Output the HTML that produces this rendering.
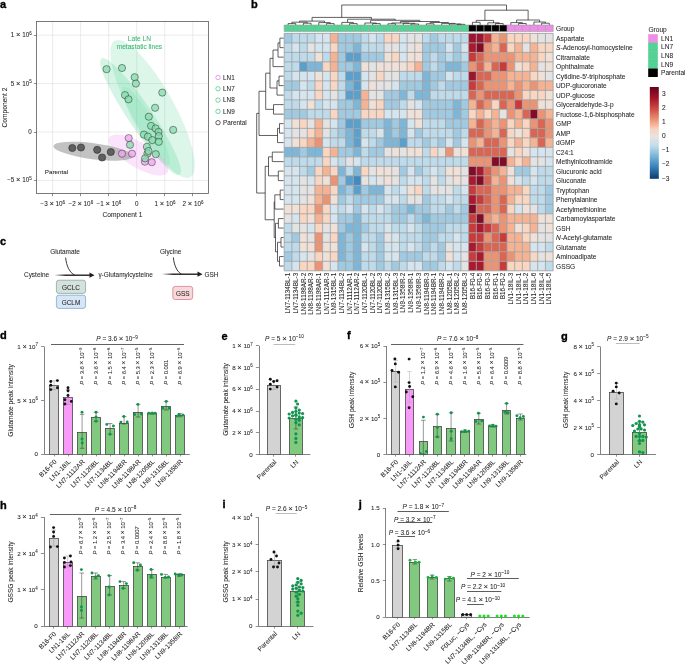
<!DOCTYPE html><html><head><meta charset="utf-8"><title>Figure</title>
<style>html,body{margin:0;padding:0;background:#fff;}svg{display:block;will-change:transform;}text{font-family:"Liberation Sans", sans-serif;}</style></head><body>
<svg width="685" height="664" viewBox="0 0 685 664" font-family='"Liberation Sans", sans-serif' fill="#231f20">
<rect x="0" y="0" width="685" height="664" fill="#fff"/>
<text x="0.00" y="8.00" font-size="11" font-weight="bold" fill="#000" stroke="#000" stroke-width="0.35">a</text>
<line x1="52.60" y1="21.00" x2="52.60" y2="193.60" stroke="#e3e3e3" stroke-width="0.7"/>
<line x1="80.64" y1="21.00" x2="80.64" y2="193.60" stroke="#e3e3e3" stroke-width="0.7"/>
<line x1="108.68" y1="21.00" x2="108.68" y2="193.60" stroke="#e3e3e3" stroke-width="0.7"/>
<line x1="136.72" y1="21.00" x2="136.72" y2="193.60" stroke="#e3e3e3" stroke-width="0.7"/>
<line x1="164.76" y1="21.00" x2="164.76" y2="193.60" stroke="#e3e3e3" stroke-width="0.7"/>
<line x1="192.80" y1="21.00" x2="192.80" y2="193.60" stroke="#e3e3e3" stroke-width="0.7"/>
<line x1="36.50" y1="35.20" x2="208.60" y2="35.20" stroke="#e3e3e3" stroke-width="0.7"/>
<line x1="36.50" y1="83.60" x2="208.60" y2="83.60" stroke="#e3e3e3" stroke-width="0.7"/>
<line x1="36.50" y1="132.00" x2="208.60" y2="132.00" stroke="#e3e3e3" stroke-width="0.7"/>
<line x1="36.50" y1="180.40" x2="208.60" y2="180.40" stroke="#e3e3e3" stroke-width="0.7"/>
<ellipse cx="152.60" cy="109.00" rx="78.00" ry="21.50" transform="rotate(61 152.60 109.00)" fill="#3fcf8a" fill-opacity="0.18"/>
<ellipse cx="140.50" cy="116.50" rx="70.00" ry="12.00" transform="rotate(56 140.50 116.50)" fill="#3fcf8a" fill-opacity="0.22"/>
<ellipse cx="146.00" cy="126.00" rx="45.00" ry="9.00" transform="rotate(60 146.00 126.00)" fill="#3fcf8a" fill-opacity="0.12"/>
<ellipse cx="138.50" cy="155.00" rx="34.00" ry="12.50" transform="rotate(31 138.50 155.00)" fill="#f09cf0" fill-opacity="0.28"/>
<ellipse cx="93.00" cy="151.20" rx="40.00" ry="8.00" transform="rotate(7.5 93.00 151.20)" fill="#8a8a8a" fill-opacity="0.52"/>
<circle cx="72.30" cy="148.00" r="3.60" fill="#5f5f5f" stroke="#222" stroke-width="0.55"/>
<circle cx="81.00" cy="147.50" r="3.60" fill="#5f5f5f" stroke="#222" stroke-width="0.55"/>
<circle cx="97.20" cy="149.80" r="3.60" fill="#5f5f5f" stroke="#222" stroke-width="0.55"/>
<circle cx="102.10" cy="157.50" r="3.60" fill="#5f5f5f" stroke="#222" stroke-width="0.55"/>
<circle cx="110.80" cy="152.00" r="3.60" fill="#5f5f5f" stroke="#222" stroke-width="0.55"/>
<circle cx="128.70" cy="138.10" r="3.60" fill="#eea6ee" stroke="#333" stroke-width="0.5" fill-opacity="0.75"/>
<circle cx="122.00" cy="153.70" r="3.60" fill="#eea6ee" stroke="#333" stroke-width="0.5" fill-opacity="0.75"/>
<circle cx="132.00" cy="153.70" r="3.60" fill="#eea6ee" stroke="#333" stroke-width="0.5" fill-opacity="0.75"/>
<circle cx="144.90" cy="161.70" r="3.60" fill="#eea6ee" stroke="#333" stroke-width="0.5" fill-opacity="0.75"/>
<circle cx="151.80" cy="162.20" r="3.60" fill="#eea6ee" stroke="#333" stroke-width="0.5" fill-opacity="0.75"/>
<circle cx="106.60" cy="69.20" r="3.60" fill="#86dcac" stroke="#2a2a2a" stroke-width="0.5" fill-opacity="0.75"/>
<circle cx="122.00" cy="68.00" r="3.60" fill="#86dcac" stroke="#2a2a2a" stroke-width="0.5" fill-opacity="0.75"/>
<circle cx="134.70" cy="77.20" r="3.60" fill="#86dcac" stroke="#2a2a2a" stroke-width="0.5" fill-opacity="0.75"/>
<circle cx="135.90" cy="83.60" r="3.60" fill="#86dcac" stroke="#2a2a2a" stroke-width="0.5" fill-opacity="0.75"/>
<circle cx="162.30" cy="92.60" r="3.60" fill="#86dcac" stroke="#2a2a2a" stroke-width="0.5" fill-opacity="0.75"/>
<circle cx="125.00" cy="95.10" r="3.60" fill="#86dcac" stroke="#2a2a2a" stroke-width="0.5" fill-opacity="0.75"/>
<circle cx="128.50" cy="99.30" r="3.60" fill="#86dcac" stroke="#2a2a2a" stroke-width="0.5" fill-opacity="0.75"/>
<circle cx="155.10" cy="107.80" r="3.60" fill="#86dcac" stroke="#2a2a2a" stroke-width="0.5" fill-opacity="0.75"/>
<circle cx="148.80" cy="116.70" r="3.60" fill="#86dcac" stroke="#2a2a2a" stroke-width="0.5" fill-opacity="0.75"/>
<circle cx="151.10" cy="125.90" r="3.60" fill="#86dcac" stroke="#2a2a2a" stroke-width="0.5" fill-opacity="0.75"/>
<circle cx="155.60" cy="128.40" r="3.60" fill="#86dcac" stroke="#2a2a2a" stroke-width="0.5" fill-opacity="0.75"/>
<circle cx="158.50" cy="131.90" r="3.60" fill="#86dcac" stroke="#2a2a2a" stroke-width="0.5" fill-opacity="0.75"/>
<circle cx="173.20" cy="129.90" r="3.60" fill="#86dcac" stroke="#2a2a2a" stroke-width="0.5" fill-opacity="0.75"/>
<circle cx="143.90" cy="134.60" r="3.60" fill="#86dcac" stroke="#2a2a2a" stroke-width="0.5" fill-opacity="0.75"/>
<circle cx="147.90" cy="136.60" r="3.60" fill="#86dcac" stroke="#2a2a2a" stroke-width="0.5" fill-opacity="0.75"/>
<circle cx="152.30" cy="140.10" r="3.60" fill="#86dcac" stroke="#2a2a2a" stroke-width="0.5" fill-opacity="0.75"/>
<circle cx="158.80" cy="136.10" r="3.60" fill="#86dcac" stroke="#2a2a2a" stroke-width="0.5" fill-opacity="0.75"/>
<circle cx="158.80" cy="141.80" r="3.60" fill="#86dcac" stroke="#2a2a2a" stroke-width="0.5" fill-opacity="0.75"/>
<circle cx="130.00" cy="144.80" r="3.60" fill="#86dcac" stroke="#2a2a2a" stroke-width="0.5" fill-opacity="0.75"/>
<circle cx="146.90" cy="146.80" r="3.60" fill="#86dcac" stroke="#2a2a2a" stroke-width="0.5" fill-opacity="0.75"/>
<circle cx="147.40" cy="153.70" r="3.60" fill="#86dcac" stroke="#2a2a2a" stroke-width="0.5" fill-opacity="0.75"/>
<circle cx="155.80" cy="154.20" r="3.60" fill="#86dcac" stroke="#2a2a2a" stroke-width="0.5" fill-opacity="0.75"/>
<circle cx="145.10" cy="158.40" r="3.60" fill="#86dcac" stroke="#2a2a2a" stroke-width="0.5" fill-opacity="0.75"/>
<circle cx="148.50" cy="151.00" r="3.60" fill="#86dcac" stroke="#2a2a2a" stroke-width="0.5" fill-opacity="0.75"/>
<rect x="36.5" y="21.5" width="172.00" height="172.00" fill="none" stroke="#5a5a5a" stroke-width="0.8"/>
<line x1="52.50" y1="193.50" x2="52.50" y2="196.20" stroke="#5a5a5a" stroke-width="0.7"/>
<line x1="80.50" y1="193.50" x2="80.50" y2="196.20" stroke="#5a5a5a" stroke-width="0.7"/>
<line x1="108.50" y1="193.50" x2="108.50" y2="196.20" stroke="#5a5a5a" stroke-width="0.7"/>
<line x1="136.50" y1="193.50" x2="136.50" y2="196.20" stroke="#5a5a5a" stroke-width="0.7"/>
<line x1="164.50" y1="193.50" x2="164.50" y2="196.20" stroke="#5a5a5a" stroke-width="0.7"/>
<line x1="192.50" y1="193.50" x2="192.50" y2="196.20" stroke="#5a5a5a" stroke-width="0.7"/>
<line x1="33.90" y1="35.50" x2="36.50" y2="35.50" stroke="#5a5a5a" stroke-width="0.7"/>
<line x1="33.90" y1="83.50" x2="36.50" y2="83.50" stroke="#5a5a5a" stroke-width="0.7"/>
<line x1="33.90" y1="132.50" x2="36.50" y2="132.50" stroke="#5a5a5a" stroke-width="0.7"/>
<line x1="33.90" y1="180.50" x2="36.50" y2="180.50" stroke="#5a5a5a" stroke-width="0.7"/>
<text x="31.80" y="37.20" font-size="6.3" stroke="#231f20" stroke-width="0.06" text-anchor="end">1 <tspan font-size="1.2em">×</tspan> 10<tspan font-size="4.54" dy="-2.27">6</tspan></text>
<text x="31.80" y="85.60" font-size="6.3" stroke="#231f20" stroke-width="0.06" text-anchor="end">5 <tspan font-size="1.2em">×</tspan> 10<tspan font-size="4.54" dy="-2.27">5</tspan></text>
<text x="31.80" y="134.00" font-size="6.3" stroke="#231f20" stroke-width="0.06" text-anchor="end">0</text>
<text x="31.80" y="182.40" font-size="6.3" stroke="#231f20" stroke-width="0.06" text-anchor="end">−5 <tspan font-size="1.2em">×</tspan> 10<tspan font-size="4.54" dy="-2.27">5</tspan></text>
<text x="52.80" y="206.00" font-size="6.3" stroke="#231f20" stroke-width="0.06" text-anchor="middle">−3 <tspan font-size="1.2em">×</tspan> 10<tspan font-size="4.54" dy="-2.27">6</tspan></text>
<text x="80.84" y="206.00" font-size="6.3" stroke="#231f20" stroke-width="0.06" text-anchor="middle">−2 <tspan font-size="1.2em">×</tspan> 10<tspan font-size="4.54" dy="-2.27">6</tspan></text>
<text x="108.88" y="206.00" font-size="6.3" stroke="#231f20" stroke-width="0.06" text-anchor="middle">−1 <tspan font-size="1.2em">×</tspan> 10<tspan font-size="4.54" dy="-2.27">6</tspan></text>
<text x="136.72" y="206.00" font-size="6.3" stroke="#231f20" stroke-width="0.06" text-anchor="middle">0</text>
<text x="164.96" y="206.00" font-size="6.3" stroke="#231f20" stroke-width="0.06" text-anchor="middle">1 <tspan font-size="1.2em">×</tspan> 10<tspan font-size="4.54" dy="-2.27">6</tspan></text>
<text x="193.00" y="206.00" font-size="6.3" stroke="#231f20" stroke-width="0.06" text-anchor="middle">2 <tspan font-size="1.2em">×</tspan> 10<tspan font-size="4.54" dy="-2.27">6</tspan></text>
<text x="122.40" y="217.00" font-size="6.65" stroke="#231f20" stroke-width="0.06" text-anchor="middle">Component 1</text>
<text x="6.60" y="107.50" font-size="6.65" stroke="#231f20" stroke-width="0.06" text-anchor="middle" transform="rotate(-90 6.60 107.50)">Component 2</text>
<text x="139.40" y="41.20" font-size="6.6" stroke="#34b66f" stroke-width="0.06" text-anchor="middle" fill="#34b66f">Late LN</text>
<text x="139.40" y="48.90" font-size="6.6" stroke="#34b66f" stroke-width="0.06" text-anchor="middle" fill="#34b66f">metastatic lines</text>
<text x="44.80" y="174.10" font-size="6.25" stroke="#231f20" stroke-width="0.06">Parental</text>
<circle cx="218.00" cy="77.50" r="2.20" fill="none" stroke="#e07ae0" stroke-width="0.7"/>
<text x="223.10" y="79.80" font-size="6.3" stroke="#231f20" stroke-width="0.06">LN1</text>
<circle cx="218.00" cy="88.80" r="2.20" fill="none" stroke="#3cc47c" stroke-width="0.7"/>
<text x="223.10" y="91.10" font-size="6.3" stroke="#231f20" stroke-width="0.06">LN7</text>
<circle cx="218.00" cy="100.10" r="2.20" fill="none" stroke="#3cc47c" stroke-width="0.7"/>
<text x="223.10" y="102.40" font-size="6.3" stroke="#231f20" stroke-width="0.06">LN8</text>
<circle cx="218.00" cy="111.40" r="2.20" fill="none" stroke="#3cc47c" stroke-width="0.7"/>
<text x="223.10" y="113.70" font-size="6.3" stroke="#231f20" stroke-width="0.06">LN9</text>
<circle cx="218.00" cy="122.70" r="2.20" fill="none" stroke="#222" stroke-width="0.7"/>
<text x="223.10" y="125.00" font-size="6.3" stroke="#231f20" stroke-width="0.06">Parental</text>
<text x="251.00" y="8.00" font-size="11" font-weight="bold" fill="#000" stroke="#000" stroke-width="0.35">b</text>
<rect x="284.20" y="33.40" width="7.68" height="9.50" fill="#9fcae2"/>
<rect x="291.88" y="33.40" width="7.68" height="9.50" fill="#bddbeb"/>
<rect x="299.57" y="33.40" width="7.68" height="9.50" fill="#bddbeb"/>
<rect x="307.25" y="33.40" width="7.68" height="9.50" fill="#bddbeb"/>
<rect x="314.93" y="33.40" width="7.68" height="9.50" fill="#d5e5ef"/>
<rect x="322.62" y="33.40" width="7.68" height="9.50" fill="#d5e5ef"/>
<rect x="330.30" y="33.40" width="7.68" height="9.50" fill="#f5b394"/>
<rect x="337.98" y="33.40" width="7.68" height="9.50" fill="#9fcae2"/>
<rect x="345.66" y="33.40" width="7.68" height="9.50" fill="#9fcae2"/>
<rect x="353.35" y="33.40" width="7.68" height="9.50" fill="#9fcae2"/>
<rect x="361.03" y="33.40" width="7.68" height="9.50" fill="#bddbeb"/>
<rect x="368.71" y="33.40" width="7.68" height="9.50" fill="#d5e5ef"/>
<rect x="376.40" y="33.40" width="7.68" height="9.50" fill="#bddbeb"/>
<rect x="384.08" y="33.40" width="7.68" height="9.50" fill="#f9d6c2"/>
<rect x="391.76" y="33.40" width="7.68" height="9.50" fill="#f9d6c2"/>
<rect x="399.44" y="33.40" width="7.68" height="9.50" fill="#d5e5ef"/>
<rect x="407.13" y="33.40" width="7.68" height="9.50" fill="#e3e3e3"/>
<rect x="414.81" y="33.40" width="7.68" height="9.50" fill="#e3e3e3"/>
<rect x="422.49" y="33.40" width="7.68" height="9.50" fill="#bddbeb"/>
<rect x="430.18" y="33.40" width="7.68" height="9.50" fill="#9fcae2"/>
<rect x="437.86" y="33.40" width="7.68" height="9.50" fill="#bddbeb"/>
<rect x="445.54" y="33.40" width="7.68" height="9.50" fill="#bddbeb"/>
<rect x="453.23" y="33.40" width="7.68" height="9.50" fill="#bddbeb"/>
<rect x="460.91" y="33.40" width="7.68" height="9.50" fill="#bddbeb"/>
<rect x="468.59" y="33.40" width="7.68" height="9.50" fill="#9b1430"/>
<rect x="476.27" y="33.40" width="7.68" height="9.50" fill="#9b1430"/>
<rect x="483.96" y="33.40" width="7.68" height="9.50" fill="#c83b3d"/>
<rect x="491.64" y="33.40" width="7.68" height="9.50" fill="#f5b394"/>
<rect x="499.32" y="33.40" width="7.68" height="9.50" fill="#ec9374"/>
<rect x="507.01" y="33.40" width="7.68" height="9.50" fill="#f9d6c2"/>
<rect x="514.69" y="33.40" width="7.68" height="9.50" fill="#f9d6c2"/>
<rect x="522.37" y="33.40" width="7.68" height="9.50" fill="#f9d6c2"/>
<rect x="530.06" y="33.40" width="7.68" height="9.50" fill="#efe0d8"/>
<rect x="537.74" y="33.40" width="7.68" height="9.50" fill="#e3e3e3"/>
<rect x="545.42" y="33.40" width="7.68" height="9.50" fill="#e3e3e3"/>
<rect x="284.20" y="42.90" width="7.68" height="9.50" fill="#bddbeb"/>
<rect x="291.88" y="42.90" width="7.68" height="9.50" fill="#d5e5ef"/>
<rect x="299.57" y="42.90" width="7.68" height="9.50" fill="#bddbeb"/>
<rect x="307.25" y="42.90" width="7.68" height="9.50" fill="#e3e3e3"/>
<rect x="314.93" y="42.90" width="7.68" height="9.50" fill="#d5e5ef"/>
<rect x="322.62" y="42.90" width="7.68" height="9.50" fill="#d5e5ef"/>
<rect x="330.30" y="42.90" width="7.68" height="9.50" fill="#f9d6c2"/>
<rect x="337.98" y="42.90" width="7.68" height="9.50" fill="#9fcae2"/>
<rect x="345.66" y="42.90" width="7.68" height="9.50" fill="#9fcae2"/>
<rect x="353.35" y="42.90" width="7.68" height="9.50" fill="#7cb6d9"/>
<rect x="361.03" y="42.90" width="7.68" height="9.50" fill="#bddbeb"/>
<rect x="368.71" y="42.90" width="7.68" height="9.50" fill="#bddbeb"/>
<rect x="376.40" y="42.90" width="7.68" height="9.50" fill="#bddbeb"/>
<rect x="384.08" y="42.90" width="7.68" height="9.50" fill="#e3e3e3"/>
<rect x="391.76" y="42.90" width="7.68" height="9.50" fill="#e3e3e3"/>
<rect x="399.44" y="42.90" width="7.68" height="9.50" fill="#d5e5ef"/>
<rect x="407.13" y="42.90" width="7.68" height="9.50" fill="#e3e3e3"/>
<rect x="414.81" y="42.90" width="7.68" height="9.50" fill="#efe0d8"/>
<rect x="422.49" y="42.90" width="7.68" height="9.50" fill="#9fcae2"/>
<rect x="430.18" y="42.90" width="7.68" height="9.50" fill="#9fcae2"/>
<rect x="437.86" y="42.90" width="7.68" height="9.50" fill="#9fcae2"/>
<rect x="445.54" y="42.90" width="7.68" height="9.50" fill="#d5e5ef"/>
<rect x="453.23" y="42.90" width="7.68" height="9.50" fill="#9fcae2"/>
<rect x="460.91" y="42.90" width="7.68" height="9.50" fill="#d5e5ef"/>
<rect x="468.59" y="42.90" width="7.68" height="9.50" fill="#ab192f"/>
<rect x="476.27" y="42.90" width="7.68" height="9.50" fill="#840b25"/>
<rect x="483.96" y="42.90" width="7.68" height="9.50" fill="#ec9374"/>
<rect x="491.64" y="42.90" width="7.68" height="9.50" fill="#f5b394"/>
<rect x="499.32" y="42.90" width="7.68" height="9.50" fill="#da6552"/>
<rect x="507.01" y="42.90" width="7.68" height="9.50" fill="#f9d6c2"/>
<rect x="514.69" y="42.90" width="7.68" height="9.50" fill="#f5b394"/>
<rect x="522.37" y="42.90" width="7.68" height="9.50" fill="#e3e3e3"/>
<rect x="530.06" y="42.90" width="7.68" height="9.50" fill="#f5b394"/>
<rect x="537.74" y="42.90" width="7.68" height="9.50" fill="#f9d6c2"/>
<rect x="545.42" y="42.90" width="7.68" height="9.50" fill="#f9d6c2"/>
<rect x="284.20" y="52.39" width="7.68" height="9.50" fill="#bddbeb"/>
<rect x="291.88" y="52.39" width="7.68" height="9.50" fill="#bddbeb"/>
<rect x="299.57" y="52.39" width="7.68" height="9.50" fill="#bddbeb"/>
<rect x="307.25" y="52.39" width="7.68" height="9.50" fill="#bddbeb"/>
<rect x="314.93" y="52.39" width="7.68" height="9.50" fill="#efe0d8"/>
<rect x="322.62" y="52.39" width="7.68" height="9.50" fill="#bddbeb"/>
<rect x="330.30" y="52.39" width="7.68" height="9.50" fill="#f5b394"/>
<rect x="337.98" y="52.39" width="7.68" height="9.50" fill="#9fcae2"/>
<rect x="345.66" y="52.39" width="7.68" height="9.50" fill="#5b9fcd"/>
<rect x="353.35" y="52.39" width="7.68" height="9.50" fill="#5b9fcd"/>
<rect x="361.03" y="52.39" width="7.68" height="9.50" fill="#9fcae2"/>
<rect x="368.71" y="52.39" width="7.68" height="9.50" fill="#9fcae2"/>
<rect x="376.40" y="52.39" width="7.68" height="9.50" fill="#9fcae2"/>
<rect x="384.08" y="52.39" width="7.68" height="9.50" fill="#efe0d8"/>
<rect x="391.76" y="52.39" width="7.68" height="9.50" fill="#f9d6c2"/>
<rect x="399.44" y="52.39" width="7.68" height="9.50" fill="#d5e5ef"/>
<rect x="407.13" y="52.39" width="7.68" height="9.50" fill="#efe0d8"/>
<rect x="414.81" y="52.39" width="7.68" height="9.50" fill="#efe0d8"/>
<rect x="422.49" y="52.39" width="7.68" height="9.50" fill="#9fcae2"/>
<rect x="430.18" y="52.39" width="7.68" height="9.50" fill="#bddbeb"/>
<rect x="437.86" y="52.39" width="7.68" height="9.50" fill="#9fcae2"/>
<rect x="445.54" y="52.39" width="7.68" height="9.50" fill="#bddbeb"/>
<rect x="453.23" y="52.39" width="7.68" height="9.50" fill="#9fcae2"/>
<rect x="460.91" y="52.39" width="7.68" height="9.50" fill="#bddbeb"/>
<rect x="468.59" y="52.39" width="7.68" height="9.50" fill="#c83b3d"/>
<rect x="476.27" y="52.39" width="7.68" height="9.50" fill="#da6552"/>
<rect x="483.96" y="52.39" width="7.68" height="9.50" fill="#ec9374"/>
<rect x="491.64" y="52.39" width="7.68" height="9.50" fill="#ec9374"/>
<rect x="499.32" y="52.39" width="7.68" height="9.50" fill="#ec9374"/>
<rect x="507.01" y="52.39" width="7.68" height="9.50" fill="#ec9374"/>
<rect x="514.69" y="52.39" width="7.68" height="9.50" fill="#f5b394"/>
<rect x="522.37" y="52.39" width="7.68" height="9.50" fill="#f5b394"/>
<rect x="530.06" y="52.39" width="7.68" height="9.50" fill="#f5b394"/>
<rect x="537.74" y="52.39" width="7.68" height="9.50" fill="#f9d6c2"/>
<rect x="545.42" y="52.39" width="7.68" height="9.50" fill="#efe0d8"/>
<rect x="284.20" y="61.89" width="7.68" height="9.50" fill="#bddbeb"/>
<rect x="291.88" y="61.89" width="7.68" height="9.50" fill="#bddbeb"/>
<rect x="299.57" y="61.89" width="7.68" height="9.50" fill="#5b9fcd"/>
<rect x="307.25" y="61.89" width="7.68" height="9.50" fill="#7cb6d9"/>
<rect x="314.93" y="61.89" width="7.68" height="9.50" fill="#7cb6d9"/>
<rect x="322.62" y="61.89" width="7.68" height="9.50" fill="#f9d6c2"/>
<rect x="330.30" y="61.89" width="7.68" height="9.50" fill="#f5b394"/>
<rect x="337.98" y="61.89" width="7.68" height="9.50" fill="#9fcae2"/>
<rect x="345.66" y="61.89" width="7.68" height="9.50" fill="#9fcae2"/>
<rect x="353.35" y="61.89" width="7.68" height="9.50" fill="#7cb6d9"/>
<rect x="361.03" y="61.89" width="7.68" height="9.50" fill="#efe0d8"/>
<rect x="368.71" y="61.89" width="7.68" height="9.50" fill="#e3e3e3"/>
<rect x="376.40" y="61.89" width="7.68" height="9.50" fill="#efe0d8"/>
<rect x="384.08" y="61.89" width="7.68" height="9.50" fill="#efe0d8"/>
<rect x="391.76" y="61.89" width="7.68" height="9.50" fill="#efe0d8"/>
<rect x="399.44" y="61.89" width="7.68" height="9.50" fill="#efe0d8"/>
<rect x="407.13" y="61.89" width="7.68" height="9.50" fill="#f9d6c2"/>
<rect x="414.81" y="61.89" width="7.68" height="9.50" fill="#f5b394"/>
<rect x="422.49" y="61.89" width="7.68" height="9.50" fill="#9fcae2"/>
<rect x="430.18" y="61.89" width="7.68" height="9.50" fill="#bddbeb"/>
<rect x="437.86" y="61.89" width="7.68" height="9.50" fill="#9fcae2"/>
<rect x="445.54" y="61.89" width="7.68" height="9.50" fill="#7cb6d9"/>
<rect x="453.23" y="61.89" width="7.68" height="9.50" fill="#7cb6d9"/>
<rect x="460.91" y="61.89" width="7.68" height="9.50" fill="#9fcae2"/>
<rect x="468.59" y="61.89" width="7.68" height="9.50" fill="#ec9374"/>
<rect x="476.27" y="61.89" width="7.68" height="9.50" fill="#da6552"/>
<rect x="483.96" y="61.89" width="7.68" height="9.50" fill="#f5b394"/>
<rect x="491.64" y="61.89" width="7.68" height="9.50" fill="#da6552"/>
<rect x="499.32" y="61.89" width="7.68" height="9.50" fill="#c83b3d"/>
<rect x="507.01" y="61.89" width="7.68" height="9.50" fill="#ec9374"/>
<rect x="514.69" y="61.89" width="7.68" height="9.50" fill="#efe0d8"/>
<rect x="522.37" y="61.89" width="7.68" height="9.50" fill="#f9d6c2"/>
<rect x="530.06" y="61.89" width="7.68" height="9.50" fill="#f5b394"/>
<rect x="537.74" y="61.89" width="7.68" height="9.50" fill="#e3e3e3"/>
<rect x="545.42" y="61.89" width="7.68" height="9.50" fill="#efe0d8"/>
<rect x="284.20" y="71.38" width="7.68" height="9.50" fill="#bddbeb"/>
<rect x="291.88" y="71.38" width="7.68" height="9.50" fill="#d5e5ef"/>
<rect x="299.57" y="71.38" width="7.68" height="9.50" fill="#d5e5ef"/>
<rect x="307.25" y="71.38" width="7.68" height="9.50" fill="#d5e5ef"/>
<rect x="314.93" y="71.38" width="7.68" height="9.50" fill="#efe0d8"/>
<rect x="322.62" y="71.38" width="7.68" height="9.50" fill="#d5e5ef"/>
<rect x="330.30" y="71.38" width="7.68" height="9.50" fill="#f9d6c2"/>
<rect x="337.98" y="71.38" width="7.68" height="9.50" fill="#bddbeb"/>
<rect x="345.66" y="71.38" width="7.68" height="9.50" fill="#5b9fcd"/>
<rect x="353.35" y="71.38" width="7.68" height="9.50" fill="#5b9fcd"/>
<rect x="361.03" y="71.38" width="7.68" height="9.50" fill="#d5e5ef"/>
<rect x="368.71" y="71.38" width="7.68" height="9.50" fill="#e3e3e3"/>
<rect x="376.40" y="71.38" width="7.68" height="9.50" fill="#f9d6c2"/>
<rect x="384.08" y="71.38" width="7.68" height="9.50" fill="#e3e3e3"/>
<rect x="391.76" y="71.38" width="7.68" height="9.50" fill="#e3e3e3"/>
<rect x="399.44" y="71.38" width="7.68" height="9.50" fill="#bddbeb"/>
<rect x="407.13" y="71.38" width="7.68" height="9.50" fill="#bddbeb"/>
<rect x="414.81" y="71.38" width="7.68" height="9.50" fill="#bddbeb"/>
<rect x="422.49" y="71.38" width="7.68" height="9.50" fill="#7cb6d9"/>
<rect x="430.18" y="71.38" width="7.68" height="9.50" fill="#9fcae2"/>
<rect x="437.86" y="71.38" width="7.68" height="9.50" fill="#9fcae2"/>
<rect x="445.54" y="71.38" width="7.68" height="9.50" fill="#d5e5ef"/>
<rect x="453.23" y="71.38" width="7.68" height="9.50" fill="#bddbeb"/>
<rect x="460.91" y="71.38" width="7.68" height="9.50" fill="#bddbeb"/>
<rect x="468.59" y="71.38" width="7.68" height="9.50" fill="#9b1430"/>
<rect x="476.27" y="71.38" width="7.68" height="9.50" fill="#da6552"/>
<rect x="483.96" y="71.38" width="7.68" height="9.50" fill="#da6552"/>
<rect x="491.64" y="71.38" width="7.68" height="9.50" fill="#ec9374"/>
<rect x="499.32" y="71.38" width="7.68" height="9.50" fill="#ec9374"/>
<rect x="507.01" y="71.38" width="7.68" height="9.50" fill="#f5b394"/>
<rect x="514.69" y="71.38" width="7.68" height="9.50" fill="#f5b394"/>
<rect x="522.37" y="71.38" width="7.68" height="9.50" fill="#f5b394"/>
<rect x="530.06" y="71.38" width="7.68" height="9.50" fill="#f9d6c2"/>
<rect x="537.74" y="71.38" width="7.68" height="9.50" fill="#efe0d8"/>
<rect x="545.42" y="71.38" width="7.68" height="9.50" fill="#e3e3e3"/>
<rect x="284.20" y="80.88" width="7.68" height="9.50" fill="#9fcae2"/>
<rect x="291.88" y="80.88" width="7.68" height="9.50" fill="#9fcae2"/>
<rect x="299.57" y="80.88" width="7.68" height="9.50" fill="#d5e5ef"/>
<rect x="307.25" y="80.88" width="7.68" height="9.50" fill="#bddbeb"/>
<rect x="314.93" y="80.88" width="7.68" height="9.50" fill="#f9d6c2"/>
<rect x="322.62" y="80.88" width="7.68" height="9.50" fill="#d5e5ef"/>
<rect x="330.30" y="80.88" width="7.68" height="9.50" fill="#f9d6c2"/>
<rect x="337.98" y="80.88" width="7.68" height="9.50" fill="#bddbeb"/>
<rect x="345.66" y="80.88" width="7.68" height="9.50" fill="#7cb6d9"/>
<rect x="353.35" y="80.88" width="7.68" height="9.50" fill="#5b9fcd"/>
<rect x="361.03" y="80.88" width="7.68" height="9.50" fill="#d5e5ef"/>
<rect x="368.71" y="80.88" width="7.68" height="9.50" fill="#efe0d8"/>
<rect x="376.40" y="80.88" width="7.68" height="9.50" fill="#e3e3e3"/>
<rect x="384.08" y="80.88" width="7.68" height="9.50" fill="#e3e3e3"/>
<rect x="391.76" y="80.88" width="7.68" height="9.50" fill="#d5e5ef"/>
<rect x="399.44" y="80.88" width="7.68" height="9.50" fill="#9fcae2"/>
<rect x="407.13" y="80.88" width="7.68" height="9.50" fill="#9fcae2"/>
<rect x="414.81" y="80.88" width="7.68" height="9.50" fill="#9fcae2"/>
<rect x="422.49" y="80.88" width="7.68" height="9.50" fill="#7cb6d9"/>
<rect x="430.18" y="80.88" width="7.68" height="9.50" fill="#9fcae2"/>
<rect x="437.86" y="80.88" width="7.68" height="9.50" fill="#bddbeb"/>
<rect x="445.54" y="80.88" width="7.68" height="9.50" fill="#9fcae2"/>
<rect x="453.23" y="80.88" width="7.68" height="9.50" fill="#9fcae2"/>
<rect x="460.91" y="80.88" width="7.68" height="9.50" fill="#9fcae2"/>
<rect x="468.59" y="80.88" width="7.68" height="9.50" fill="#c83b3d"/>
<rect x="476.27" y="80.88" width="7.68" height="9.50" fill="#da6552"/>
<rect x="483.96" y="80.88" width="7.68" height="9.50" fill="#ec9374"/>
<rect x="491.64" y="80.88" width="7.68" height="9.50" fill="#ec9374"/>
<rect x="499.32" y="80.88" width="7.68" height="9.50" fill="#ec9374"/>
<rect x="507.01" y="80.88" width="7.68" height="9.50" fill="#f5b394"/>
<rect x="514.69" y="80.88" width="7.68" height="9.50" fill="#ec9374"/>
<rect x="522.37" y="80.88" width="7.68" height="9.50" fill="#f5b394"/>
<rect x="530.06" y="80.88" width="7.68" height="9.50" fill="#ec9374"/>
<rect x="537.74" y="80.88" width="7.68" height="9.50" fill="#f5b394"/>
<rect x="545.42" y="80.88" width="7.68" height="9.50" fill="#f5b394"/>
<rect x="284.20" y="90.38" width="7.68" height="9.50" fill="#bddbeb"/>
<rect x="291.88" y="90.38" width="7.68" height="9.50" fill="#d5e5ef"/>
<rect x="299.57" y="90.38" width="7.68" height="9.50" fill="#d5e5ef"/>
<rect x="307.25" y="90.38" width="7.68" height="9.50" fill="#d5e5ef"/>
<rect x="314.93" y="90.38" width="7.68" height="9.50" fill="#f9d6c2"/>
<rect x="322.62" y="90.38" width="7.68" height="9.50" fill="#d5e5ef"/>
<rect x="330.30" y="90.38" width="7.68" height="9.50" fill="#e3e3e3"/>
<rect x="337.98" y="90.38" width="7.68" height="9.50" fill="#bddbeb"/>
<rect x="345.66" y="90.38" width="7.68" height="9.50" fill="#5b9fcd"/>
<rect x="353.35" y="90.38" width="7.68" height="9.50" fill="#5b9fcd"/>
<rect x="361.03" y="90.38" width="7.68" height="9.50" fill="#f5b394"/>
<rect x="368.71" y="90.38" width="7.68" height="9.50" fill="#e3e3e3"/>
<rect x="376.40" y="90.38" width="7.68" height="9.50" fill="#e3e3e3"/>
<rect x="384.08" y="90.38" width="7.68" height="9.50" fill="#9fcae2"/>
<rect x="391.76" y="90.38" width="7.68" height="9.50" fill="#9fcae2"/>
<rect x="399.44" y="90.38" width="7.68" height="9.50" fill="#7cb6d9"/>
<rect x="407.13" y="90.38" width="7.68" height="9.50" fill="#bddbeb"/>
<rect x="414.81" y="90.38" width="7.68" height="9.50" fill="#7cb6d9"/>
<rect x="422.49" y="90.38" width="7.68" height="9.50" fill="#7cb6d9"/>
<rect x="430.18" y="90.38" width="7.68" height="9.50" fill="#bddbeb"/>
<rect x="437.86" y="90.38" width="7.68" height="9.50" fill="#bddbeb"/>
<rect x="445.54" y="90.38" width="7.68" height="9.50" fill="#bddbeb"/>
<rect x="453.23" y="90.38" width="7.68" height="9.50" fill="#bddbeb"/>
<rect x="460.91" y="90.38" width="7.68" height="9.50" fill="#bddbeb"/>
<rect x="468.59" y="90.38" width="7.68" height="9.50" fill="#da6552"/>
<rect x="476.27" y="90.38" width="7.68" height="9.50" fill="#ec9374"/>
<rect x="483.96" y="90.38" width="7.68" height="9.50" fill="#da6552"/>
<rect x="491.64" y="90.38" width="7.68" height="9.50" fill="#da6552"/>
<rect x="499.32" y="90.38" width="7.68" height="9.50" fill="#da6552"/>
<rect x="507.01" y="90.38" width="7.68" height="9.50" fill="#da6552"/>
<rect x="514.69" y="90.38" width="7.68" height="9.50" fill="#ec9374"/>
<rect x="522.37" y="90.38" width="7.68" height="9.50" fill="#f9d6c2"/>
<rect x="530.06" y="90.38" width="7.68" height="9.50" fill="#f9d6c2"/>
<rect x="537.74" y="90.38" width="7.68" height="9.50" fill="#f9d6c2"/>
<rect x="545.42" y="90.38" width="7.68" height="9.50" fill="#efe0d8"/>
<rect x="284.20" y="99.87" width="7.68" height="9.50" fill="#bddbeb"/>
<rect x="291.88" y="99.87" width="7.68" height="9.50" fill="#bddbeb"/>
<rect x="299.57" y="99.87" width="7.68" height="9.50" fill="#d5e5ef"/>
<rect x="307.25" y="99.87" width="7.68" height="9.50" fill="#efe0d8"/>
<rect x="314.93" y="99.87" width="7.68" height="9.50" fill="#bddbeb"/>
<rect x="322.62" y="99.87" width="7.68" height="9.50" fill="#d5e5ef"/>
<rect x="330.30" y="99.87" width="7.68" height="9.50" fill="#d5e5ef"/>
<rect x="337.98" y="99.87" width="7.68" height="9.50" fill="#9fcae2"/>
<rect x="345.66" y="99.87" width="7.68" height="9.50" fill="#9fcae2"/>
<rect x="353.35" y="99.87" width="7.68" height="9.50" fill="#7cb6d9"/>
<rect x="361.03" y="99.87" width="7.68" height="9.50" fill="#f5b394"/>
<rect x="368.71" y="99.87" width="7.68" height="9.50" fill="#efe0d8"/>
<rect x="376.40" y="99.87" width="7.68" height="9.50" fill="#f9d6c2"/>
<rect x="384.08" y="99.87" width="7.68" height="9.50" fill="#9fcae2"/>
<rect x="391.76" y="99.87" width="7.68" height="9.50" fill="#9fcae2"/>
<rect x="399.44" y="99.87" width="7.68" height="9.50" fill="#bddbeb"/>
<rect x="407.13" y="99.87" width="7.68" height="9.50" fill="#e3e3e3"/>
<rect x="414.81" y="99.87" width="7.68" height="9.50" fill="#d5e5ef"/>
<rect x="422.49" y="99.87" width="7.68" height="9.50" fill="#9fcae2"/>
<rect x="430.18" y="99.87" width="7.68" height="9.50" fill="#9fcae2"/>
<rect x="437.86" y="99.87" width="7.68" height="9.50" fill="#9fcae2"/>
<rect x="445.54" y="99.87" width="7.68" height="9.50" fill="#9fcae2"/>
<rect x="453.23" y="99.87" width="7.68" height="9.50" fill="#7cb6d9"/>
<rect x="460.91" y="99.87" width="7.68" height="9.50" fill="#9fcae2"/>
<rect x="468.59" y="99.87" width="7.68" height="9.50" fill="#f5b394"/>
<rect x="476.27" y="99.87" width="7.68" height="9.50" fill="#da6552"/>
<rect x="483.96" y="99.87" width="7.68" height="9.50" fill="#ec9374"/>
<rect x="491.64" y="99.87" width="7.68" height="9.50" fill="#f9d6c2"/>
<rect x="499.32" y="99.87" width="7.68" height="9.50" fill="#da6552"/>
<rect x="507.01" y="99.87" width="7.68" height="9.50" fill="#ec9374"/>
<rect x="514.69" y="99.87" width="7.68" height="9.50" fill="#c83b3d"/>
<rect x="522.37" y="99.87" width="7.68" height="9.50" fill="#ec9374"/>
<rect x="530.06" y="99.87" width="7.68" height="9.50" fill="#ec9374"/>
<rect x="537.74" y="99.87" width="7.68" height="9.50" fill="#efe0d8"/>
<rect x="545.42" y="99.87" width="7.68" height="9.50" fill="#efe0d8"/>
<rect x="284.20" y="109.37" width="7.68" height="9.50" fill="#9fcae2"/>
<rect x="291.88" y="109.37" width="7.68" height="9.50" fill="#9fcae2"/>
<rect x="299.57" y="109.37" width="7.68" height="9.50" fill="#9fcae2"/>
<rect x="307.25" y="109.37" width="7.68" height="9.50" fill="#bddbeb"/>
<rect x="314.93" y="109.37" width="7.68" height="9.50" fill="#bddbeb"/>
<rect x="322.62" y="109.37" width="7.68" height="9.50" fill="#bddbeb"/>
<rect x="330.30" y="109.37" width="7.68" height="9.50" fill="#f9d6c2"/>
<rect x="337.98" y="109.37" width="7.68" height="9.50" fill="#9fcae2"/>
<rect x="345.66" y="109.37" width="7.68" height="9.50" fill="#9fcae2"/>
<rect x="353.35" y="109.37" width="7.68" height="9.50" fill="#9fcae2"/>
<rect x="361.03" y="109.37" width="7.68" height="9.50" fill="#f9d6c2"/>
<rect x="368.71" y="109.37" width="7.68" height="9.50" fill="#f9d6c2"/>
<rect x="376.40" y="109.37" width="7.68" height="9.50" fill="#f9d6c2"/>
<rect x="384.08" y="109.37" width="7.68" height="9.50" fill="#d5e5ef"/>
<rect x="391.76" y="109.37" width="7.68" height="9.50" fill="#d5e5ef"/>
<rect x="399.44" y="109.37" width="7.68" height="9.50" fill="#d5e5ef"/>
<rect x="407.13" y="109.37" width="7.68" height="9.50" fill="#efe0d8"/>
<rect x="414.81" y="109.37" width="7.68" height="9.50" fill="#efe0d8"/>
<rect x="422.49" y="109.37" width="7.68" height="9.50" fill="#9fcae2"/>
<rect x="430.18" y="109.37" width="7.68" height="9.50" fill="#9fcae2"/>
<rect x="437.86" y="109.37" width="7.68" height="9.50" fill="#9fcae2"/>
<rect x="445.54" y="109.37" width="7.68" height="9.50" fill="#9fcae2"/>
<rect x="453.23" y="109.37" width="7.68" height="9.50" fill="#7cb6d9"/>
<rect x="460.91" y="109.37" width="7.68" height="9.50" fill="#9fcae2"/>
<rect x="468.59" y="109.37" width="7.68" height="9.50" fill="#f9d6c2"/>
<rect x="476.27" y="109.37" width="7.68" height="9.50" fill="#f5b394"/>
<rect x="483.96" y="109.37" width="7.68" height="9.50" fill="#f9d6c2"/>
<rect x="491.64" y="109.37" width="7.68" height="9.50" fill="#f5b394"/>
<rect x="499.32" y="109.37" width="7.68" height="9.50" fill="#e3e3e3"/>
<rect x="507.01" y="109.37" width="7.68" height="9.50" fill="#ec9374"/>
<rect x="514.69" y="109.37" width="7.68" height="9.50" fill="#f5b394"/>
<rect x="522.37" y="109.37" width="7.68" height="9.50" fill="#da6552"/>
<rect x="530.06" y="109.37" width="7.68" height="9.50" fill="#840b25"/>
<rect x="537.74" y="109.37" width="7.68" height="9.50" fill="#ec9374"/>
<rect x="545.42" y="109.37" width="7.68" height="9.50" fill="#f5b394"/>
<rect x="284.20" y="118.86" width="7.68" height="9.50" fill="#d5e5ef"/>
<rect x="291.88" y="118.86" width="7.68" height="9.50" fill="#efe0d8"/>
<rect x="299.57" y="118.86" width="7.68" height="9.50" fill="#f9d6c2"/>
<rect x="307.25" y="118.86" width="7.68" height="9.50" fill="#e3e3e3"/>
<rect x="314.93" y="118.86" width="7.68" height="9.50" fill="#f5b394"/>
<rect x="322.62" y="118.86" width="7.68" height="9.50" fill="#e3e3e3"/>
<rect x="330.30" y="118.86" width="7.68" height="9.50" fill="#d5e5ef"/>
<rect x="337.98" y="118.86" width="7.68" height="9.50" fill="#9fcae2"/>
<rect x="345.66" y="118.86" width="7.68" height="9.50" fill="#5b9fcd"/>
<rect x="353.35" y="118.86" width="7.68" height="9.50" fill="#5b9fcd"/>
<rect x="361.03" y="118.86" width="7.68" height="9.50" fill="#9fcae2"/>
<rect x="368.71" y="118.86" width="7.68" height="9.50" fill="#9fcae2"/>
<rect x="376.40" y="118.86" width="7.68" height="9.50" fill="#9fcae2"/>
<rect x="384.08" y="118.86" width="7.68" height="9.50" fill="#7cb6d9"/>
<rect x="391.76" y="118.86" width="7.68" height="9.50" fill="#9fcae2"/>
<rect x="399.44" y="118.86" width="7.68" height="9.50" fill="#7cb6d9"/>
<rect x="407.13" y="118.86" width="7.68" height="9.50" fill="#d5e5ef"/>
<rect x="414.81" y="118.86" width="7.68" height="9.50" fill="#efe0d8"/>
<rect x="422.49" y="118.86" width="7.68" height="9.50" fill="#bddbeb"/>
<rect x="430.18" y="118.86" width="7.68" height="9.50" fill="#bddbeb"/>
<rect x="437.86" y="118.86" width="7.68" height="9.50" fill="#bddbeb"/>
<rect x="445.54" y="118.86" width="7.68" height="9.50" fill="#9fcae2"/>
<rect x="453.23" y="118.86" width="7.68" height="9.50" fill="#9fcae2"/>
<rect x="460.91" y="118.86" width="7.68" height="9.50" fill="#9fcae2"/>
<rect x="468.59" y="118.86" width="7.68" height="9.50" fill="#f5b394"/>
<rect x="476.27" y="118.86" width="7.68" height="9.50" fill="#da6552"/>
<rect x="483.96" y="118.86" width="7.68" height="9.50" fill="#ec9374"/>
<rect x="491.64" y="118.86" width="7.68" height="9.50" fill="#f5b394"/>
<rect x="499.32" y="118.86" width="7.68" height="9.50" fill="#ec9374"/>
<rect x="507.01" y="118.86" width="7.68" height="9.50" fill="#f9d6c2"/>
<rect x="514.69" y="118.86" width="7.68" height="9.50" fill="#f5b394"/>
<rect x="522.37" y="118.86" width="7.68" height="9.50" fill="#f9d6c2"/>
<rect x="530.06" y="118.86" width="7.68" height="9.50" fill="#ec9374"/>
<rect x="537.74" y="118.86" width="7.68" height="9.50" fill="#da6552"/>
<rect x="545.42" y="118.86" width="7.68" height="9.50" fill="#ec9374"/>
<rect x="284.20" y="128.36" width="7.68" height="9.50" fill="#d5e5ef"/>
<rect x="291.88" y="128.36" width="7.68" height="9.50" fill="#e3e3e3"/>
<rect x="299.57" y="128.36" width="7.68" height="9.50" fill="#e3e3e3"/>
<rect x="307.25" y="128.36" width="7.68" height="9.50" fill="#f9d6c2"/>
<rect x="314.93" y="128.36" width="7.68" height="9.50" fill="#f5b394"/>
<rect x="322.62" y="128.36" width="7.68" height="9.50" fill="#e3e3e3"/>
<rect x="330.30" y="128.36" width="7.68" height="9.50" fill="#bddbeb"/>
<rect x="337.98" y="128.36" width="7.68" height="9.50" fill="#9fcae2"/>
<rect x="345.66" y="128.36" width="7.68" height="9.50" fill="#7cb6d9"/>
<rect x="353.35" y="128.36" width="7.68" height="9.50" fill="#5b9fcd"/>
<rect x="361.03" y="128.36" width="7.68" height="9.50" fill="#bddbeb"/>
<rect x="368.71" y="128.36" width="7.68" height="9.50" fill="#bddbeb"/>
<rect x="376.40" y="128.36" width="7.68" height="9.50" fill="#d5e5ef"/>
<rect x="384.08" y="128.36" width="7.68" height="9.50" fill="#7cb6d9"/>
<rect x="391.76" y="128.36" width="7.68" height="9.50" fill="#9fcae2"/>
<rect x="399.44" y="128.36" width="7.68" height="9.50" fill="#7cb6d9"/>
<rect x="407.13" y="128.36" width="7.68" height="9.50" fill="#d5e5ef"/>
<rect x="414.81" y="128.36" width="7.68" height="9.50" fill="#9fcae2"/>
<rect x="422.49" y="128.36" width="7.68" height="9.50" fill="#bddbeb"/>
<rect x="430.18" y="128.36" width="7.68" height="9.50" fill="#bddbeb"/>
<rect x="437.86" y="128.36" width="7.68" height="9.50" fill="#bddbeb"/>
<rect x="445.54" y="128.36" width="7.68" height="9.50" fill="#bddbeb"/>
<rect x="453.23" y="128.36" width="7.68" height="9.50" fill="#9fcae2"/>
<rect x="460.91" y="128.36" width="7.68" height="9.50" fill="#bddbeb"/>
<rect x="468.59" y="128.36" width="7.68" height="9.50" fill="#da6552"/>
<rect x="476.27" y="128.36" width="7.68" height="9.50" fill="#da6552"/>
<rect x="483.96" y="128.36" width="7.68" height="9.50" fill="#ec9374"/>
<rect x="491.64" y="128.36" width="7.68" height="9.50" fill="#f5b394"/>
<rect x="499.32" y="128.36" width="7.68" height="9.50" fill="#da6552"/>
<rect x="507.01" y="128.36" width="7.68" height="9.50" fill="#f9d6c2"/>
<rect x="514.69" y="128.36" width="7.68" height="9.50" fill="#efe0d8"/>
<rect x="522.37" y="128.36" width="7.68" height="9.50" fill="#f9d6c2"/>
<rect x="530.06" y="128.36" width="7.68" height="9.50" fill="#da6552"/>
<rect x="537.74" y="128.36" width="7.68" height="9.50" fill="#da6552"/>
<rect x="545.42" y="128.36" width="7.68" height="9.50" fill="#ec9374"/>
<rect x="284.20" y="137.86" width="7.68" height="9.50" fill="#d5e5ef"/>
<rect x="291.88" y="137.86" width="7.68" height="9.50" fill="#efe0d8"/>
<rect x="299.57" y="137.86" width="7.68" height="9.50" fill="#f9d6c2"/>
<rect x="307.25" y="137.86" width="7.68" height="9.50" fill="#f5b394"/>
<rect x="314.93" y="137.86" width="7.68" height="9.50" fill="#ec9374"/>
<rect x="322.62" y="137.86" width="7.68" height="9.50" fill="#d5e5ef"/>
<rect x="330.30" y="137.86" width="7.68" height="9.50" fill="#bddbeb"/>
<rect x="337.98" y="137.86" width="7.68" height="9.50" fill="#bddbeb"/>
<rect x="345.66" y="137.86" width="7.68" height="9.50" fill="#7cb6d9"/>
<rect x="353.35" y="137.86" width="7.68" height="9.50" fill="#5b9fcd"/>
<rect x="361.03" y="137.86" width="7.68" height="9.50" fill="#d5e5ef"/>
<rect x="368.71" y="137.86" width="7.68" height="9.50" fill="#bddbeb"/>
<rect x="376.40" y="137.86" width="7.68" height="9.50" fill="#9fcae2"/>
<rect x="384.08" y="137.86" width="7.68" height="9.50" fill="#7cb6d9"/>
<rect x="391.76" y="137.86" width="7.68" height="9.50" fill="#7cb6d9"/>
<rect x="399.44" y="137.86" width="7.68" height="9.50" fill="#5b9fcd"/>
<rect x="407.13" y="137.86" width="7.68" height="9.50" fill="#bddbeb"/>
<rect x="414.81" y="137.86" width="7.68" height="9.50" fill="#bddbeb"/>
<rect x="422.49" y="137.86" width="7.68" height="9.50" fill="#9fcae2"/>
<rect x="430.18" y="137.86" width="7.68" height="9.50" fill="#bddbeb"/>
<rect x="437.86" y="137.86" width="7.68" height="9.50" fill="#9fcae2"/>
<rect x="445.54" y="137.86" width="7.68" height="9.50" fill="#d5e5ef"/>
<rect x="453.23" y="137.86" width="7.68" height="9.50" fill="#9fcae2"/>
<rect x="460.91" y="137.86" width="7.68" height="9.50" fill="#d5e5ef"/>
<rect x="468.59" y="137.86" width="7.68" height="9.50" fill="#ec9374"/>
<rect x="476.27" y="137.86" width="7.68" height="9.50" fill="#f5b394"/>
<rect x="483.96" y="137.86" width="7.68" height="9.50" fill="#da6552"/>
<rect x="491.64" y="137.86" width="7.68" height="9.50" fill="#da6552"/>
<rect x="499.32" y="137.86" width="7.68" height="9.50" fill="#ec9374"/>
<rect x="507.01" y="137.86" width="7.68" height="9.50" fill="#f9d6c2"/>
<rect x="514.69" y="137.86" width="7.68" height="9.50" fill="#f5b394"/>
<rect x="522.37" y="137.86" width="7.68" height="9.50" fill="#f9d6c2"/>
<rect x="530.06" y="137.86" width="7.68" height="9.50" fill="#f5b394"/>
<rect x="537.74" y="137.86" width="7.68" height="9.50" fill="#da6552"/>
<rect x="545.42" y="137.86" width="7.68" height="9.50" fill="#f5b394"/>
<rect x="284.20" y="147.35" width="7.68" height="9.50" fill="#7cb6d9"/>
<rect x="291.88" y="147.35" width="7.68" height="9.50" fill="#7cb6d9"/>
<rect x="299.57" y="147.35" width="7.68" height="9.50" fill="#9fcae2"/>
<rect x="307.25" y="147.35" width="7.68" height="9.50" fill="#7cb6d9"/>
<rect x="314.93" y="147.35" width="7.68" height="9.50" fill="#7cb6d9"/>
<rect x="322.62" y="147.35" width="7.68" height="9.50" fill="#f9d6c2"/>
<rect x="330.30" y="147.35" width="7.68" height="9.50" fill="#f5b394"/>
<rect x="337.98" y="147.35" width="7.68" height="9.50" fill="#9fcae2"/>
<rect x="345.66" y="147.35" width="7.68" height="9.50" fill="#9fcae2"/>
<rect x="353.35" y="147.35" width="7.68" height="9.50" fill="#7cb6d9"/>
<rect x="361.03" y="147.35" width="7.68" height="9.50" fill="#bddbeb"/>
<rect x="368.71" y="147.35" width="7.68" height="9.50" fill="#9fcae2"/>
<rect x="376.40" y="147.35" width="7.68" height="9.50" fill="#9fcae2"/>
<rect x="384.08" y="147.35" width="7.68" height="9.50" fill="#e3e3e3"/>
<rect x="391.76" y="147.35" width="7.68" height="9.50" fill="#efe0d8"/>
<rect x="399.44" y="147.35" width="7.68" height="9.50" fill="#e3e3e3"/>
<rect x="407.13" y="147.35" width="7.68" height="9.50" fill="#efe0d8"/>
<rect x="414.81" y="147.35" width="7.68" height="9.50" fill="#efe0d8"/>
<rect x="422.49" y="147.35" width="7.68" height="9.50" fill="#bddbeb"/>
<rect x="430.18" y="147.35" width="7.68" height="9.50" fill="#f9d6c2"/>
<rect x="437.86" y="147.35" width="7.68" height="9.50" fill="#e3e3e3"/>
<rect x="445.54" y="147.35" width="7.68" height="9.50" fill="#ec9374"/>
<rect x="453.23" y="147.35" width="7.68" height="9.50" fill="#efe0d8"/>
<rect x="460.91" y="147.35" width="7.68" height="9.50" fill="#efe0d8"/>
<rect x="468.59" y="147.35" width="7.68" height="9.50" fill="#da6552"/>
<rect x="476.27" y="147.35" width="7.68" height="9.50" fill="#da6552"/>
<rect x="483.96" y="147.35" width="7.68" height="9.50" fill="#da6552"/>
<rect x="491.64" y="147.35" width="7.68" height="9.50" fill="#da6552"/>
<rect x="499.32" y="147.35" width="7.68" height="9.50" fill="#da6552"/>
<rect x="507.01" y="147.35" width="7.68" height="9.50" fill="#e3e3e3"/>
<rect x="514.69" y="147.35" width="7.68" height="9.50" fill="#f9d6c2"/>
<rect x="522.37" y="147.35" width="7.68" height="9.50" fill="#efe0d8"/>
<rect x="530.06" y="147.35" width="7.68" height="9.50" fill="#d5e5ef"/>
<rect x="537.74" y="147.35" width="7.68" height="9.50" fill="#d5e5ef"/>
<rect x="545.42" y="147.35" width="7.68" height="9.50" fill="#d5e5ef"/>
<rect x="284.20" y="156.85" width="7.68" height="9.50" fill="#bddbeb"/>
<rect x="291.88" y="156.85" width="7.68" height="9.50" fill="#bddbeb"/>
<rect x="299.57" y="156.85" width="7.68" height="9.50" fill="#bddbeb"/>
<rect x="307.25" y="156.85" width="7.68" height="9.50" fill="#bddbeb"/>
<rect x="314.93" y="156.85" width="7.68" height="9.50" fill="#bddbeb"/>
<rect x="322.62" y="156.85" width="7.68" height="9.50" fill="#f9d6c2"/>
<rect x="330.30" y="156.85" width="7.68" height="9.50" fill="#d5e5ef"/>
<rect x="337.98" y="156.85" width="7.68" height="9.50" fill="#bddbeb"/>
<rect x="345.66" y="156.85" width="7.68" height="9.50" fill="#e3e3e3"/>
<rect x="353.35" y="156.85" width="7.68" height="9.50" fill="#d5e5ef"/>
<rect x="361.03" y="156.85" width="7.68" height="9.50" fill="#bddbeb"/>
<rect x="368.71" y="156.85" width="7.68" height="9.50" fill="#bddbeb"/>
<rect x="376.40" y="156.85" width="7.68" height="9.50" fill="#bddbeb"/>
<rect x="384.08" y="156.85" width="7.68" height="9.50" fill="#bddbeb"/>
<rect x="391.76" y="156.85" width="7.68" height="9.50" fill="#bddbeb"/>
<rect x="399.44" y="156.85" width="7.68" height="9.50" fill="#bddbeb"/>
<rect x="407.13" y="156.85" width="7.68" height="9.50" fill="#bddbeb"/>
<rect x="414.81" y="156.85" width="7.68" height="9.50" fill="#bddbeb"/>
<rect x="422.49" y="156.85" width="7.68" height="9.50" fill="#bddbeb"/>
<rect x="430.18" y="156.85" width="7.68" height="9.50" fill="#bddbeb"/>
<rect x="437.86" y="156.85" width="7.68" height="9.50" fill="#bddbeb"/>
<rect x="445.54" y="156.85" width="7.68" height="9.50" fill="#bddbeb"/>
<rect x="453.23" y="156.85" width="7.68" height="9.50" fill="#bddbeb"/>
<rect x="460.91" y="156.85" width="7.68" height="9.50" fill="#bddbeb"/>
<rect x="468.59" y="156.85" width="7.68" height="9.50" fill="#ec9374"/>
<rect x="476.27" y="156.85" width="7.68" height="9.50" fill="#ec9374"/>
<rect x="483.96" y="156.85" width="7.68" height="9.50" fill="#ec9374"/>
<rect x="491.64" y="156.85" width="7.68" height="9.50" fill="#840b25"/>
<rect x="499.32" y="156.85" width="7.68" height="9.50" fill="#840b25"/>
<rect x="507.01" y="156.85" width="7.68" height="9.50" fill="#f5b394"/>
<rect x="514.69" y="156.85" width="7.68" height="9.50" fill="#f9d6c2"/>
<rect x="522.37" y="156.85" width="7.68" height="9.50" fill="#f5b394"/>
<rect x="530.06" y="156.85" width="7.68" height="9.50" fill="#e3e3e3"/>
<rect x="537.74" y="156.85" width="7.68" height="9.50" fill="#e3e3e3"/>
<rect x="545.42" y="156.85" width="7.68" height="9.50" fill="#d5e5ef"/>
<rect x="284.20" y="166.34" width="7.68" height="9.50" fill="#d5e5ef"/>
<rect x="291.88" y="166.34" width="7.68" height="9.50" fill="#d5e5ef"/>
<rect x="299.57" y="166.34" width="7.68" height="9.50" fill="#bddbeb"/>
<rect x="307.25" y="166.34" width="7.68" height="9.50" fill="#9fcae2"/>
<rect x="314.93" y="166.34" width="7.68" height="9.50" fill="#f9d6c2"/>
<rect x="322.62" y="166.34" width="7.68" height="9.50" fill="#f5b394"/>
<rect x="330.30" y="166.34" width="7.68" height="9.50" fill="#f9d6c2"/>
<rect x="337.98" y="166.34" width="7.68" height="9.50" fill="#7cb6d9"/>
<rect x="345.66" y="166.34" width="7.68" height="9.50" fill="#bddbeb"/>
<rect x="353.35" y="166.34" width="7.68" height="9.50" fill="#7cb6d9"/>
<rect x="361.03" y="166.34" width="7.68" height="9.50" fill="#f9d6c2"/>
<rect x="368.71" y="166.34" width="7.68" height="9.50" fill="#e3e3e3"/>
<rect x="376.40" y="166.34" width="7.68" height="9.50" fill="#efe0d8"/>
<rect x="384.08" y="166.34" width="7.68" height="9.50" fill="#efe0d8"/>
<rect x="391.76" y="166.34" width="7.68" height="9.50" fill="#e3e3e3"/>
<rect x="399.44" y="166.34" width="7.68" height="9.50" fill="#9fcae2"/>
<rect x="407.13" y="166.34" width="7.68" height="9.50" fill="#d5e5ef"/>
<rect x="414.81" y="166.34" width="7.68" height="9.50" fill="#9fcae2"/>
<rect x="422.49" y="166.34" width="7.68" height="9.50" fill="#bddbeb"/>
<rect x="430.18" y="166.34" width="7.68" height="9.50" fill="#d5e5ef"/>
<rect x="437.86" y="166.34" width="7.68" height="9.50" fill="#bddbeb"/>
<rect x="445.54" y="166.34" width="7.68" height="9.50" fill="#efe0d8"/>
<rect x="453.23" y="166.34" width="7.68" height="9.50" fill="#efe0d8"/>
<rect x="460.91" y="166.34" width="7.68" height="9.50" fill="#e3e3e3"/>
<rect x="468.59" y="166.34" width="7.68" height="9.50" fill="#840b25"/>
<rect x="476.27" y="166.34" width="7.68" height="9.50" fill="#ab192f"/>
<rect x="483.96" y="166.34" width="7.68" height="9.50" fill="#da6552"/>
<rect x="491.64" y="166.34" width="7.68" height="9.50" fill="#ec9374"/>
<rect x="499.32" y="166.34" width="7.68" height="9.50" fill="#f5b394"/>
<rect x="507.01" y="166.34" width="7.68" height="9.50" fill="#efe0d8"/>
<rect x="514.69" y="166.34" width="7.68" height="9.50" fill="#9fcae2"/>
<rect x="522.37" y="166.34" width="7.68" height="9.50" fill="#9fcae2"/>
<rect x="530.06" y="166.34" width="7.68" height="9.50" fill="#d5e5ef"/>
<rect x="537.74" y="166.34" width="7.68" height="9.50" fill="#bddbeb"/>
<rect x="545.42" y="166.34" width="7.68" height="9.50" fill="#bddbeb"/>
<rect x="284.20" y="175.84" width="7.68" height="9.50" fill="#d5e5ef"/>
<rect x="291.88" y="175.84" width="7.68" height="9.50" fill="#d5e5ef"/>
<rect x="299.57" y="175.84" width="7.68" height="9.50" fill="#e3e3e3"/>
<rect x="307.25" y="175.84" width="7.68" height="9.50" fill="#d5e5ef"/>
<rect x="314.93" y="175.84" width="7.68" height="9.50" fill="#f9d6c2"/>
<rect x="322.62" y="175.84" width="7.68" height="9.50" fill="#efe0d8"/>
<rect x="330.30" y="175.84" width="7.68" height="9.50" fill="#ec9374"/>
<rect x="337.98" y="175.84" width="7.68" height="9.50" fill="#9fcae2"/>
<rect x="345.66" y="175.84" width="7.68" height="9.50" fill="#5b9fcd"/>
<rect x="353.35" y="175.84" width="7.68" height="9.50" fill="#3f8bc2"/>
<rect x="361.03" y="175.84" width="7.68" height="9.50" fill="#e3e3e3"/>
<rect x="368.71" y="175.84" width="7.68" height="9.50" fill="#d5e5ef"/>
<rect x="376.40" y="175.84" width="7.68" height="9.50" fill="#e3e3e3"/>
<rect x="384.08" y="175.84" width="7.68" height="9.50" fill="#efe0d8"/>
<rect x="391.76" y="175.84" width="7.68" height="9.50" fill="#e3e3e3"/>
<rect x="399.44" y="175.84" width="7.68" height="9.50" fill="#bddbeb"/>
<rect x="407.13" y="175.84" width="7.68" height="9.50" fill="#d5e5ef"/>
<rect x="414.81" y="175.84" width="7.68" height="9.50" fill="#d5e5ef"/>
<rect x="422.49" y="175.84" width="7.68" height="9.50" fill="#bddbeb"/>
<rect x="430.18" y="175.84" width="7.68" height="9.50" fill="#e3e3e3"/>
<rect x="437.86" y="175.84" width="7.68" height="9.50" fill="#bddbeb"/>
<rect x="445.54" y="175.84" width="7.68" height="9.50" fill="#e3e3e3"/>
<rect x="453.23" y="175.84" width="7.68" height="9.50" fill="#efe0d8"/>
<rect x="460.91" y="175.84" width="7.68" height="9.50" fill="#e3e3e3"/>
<rect x="468.59" y="175.84" width="7.68" height="9.50" fill="#ab192f"/>
<rect x="476.27" y="175.84" width="7.68" height="9.50" fill="#840b25"/>
<rect x="483.96" y="175.84" width="7.68" height="9.50" fill="#da6552"/>
<rect x="491.64" y="175.84" width="7.68" height="9.50" fill="#f5b394"/>
<rect x="499.32" y="175.84" width="7.68" height="9.50" fill="#ec9374"/>
<rect x="507.01" y="175.84" width="7.68" height="9.50" fill="#efe0d8"/>
<rect x="514.69" y="175.84" width="7.68" height="9.50" fill="#d5e5ef"/>
<rect x="522.37" y="175.84" width="7.68" height="9.50" fill="#bddbeb"/>
<rect x="530.06" y="175.84" width="7.68" height="9.50" fill="#d5e5ef"/>
<rect x="537.74" y="175.84" width="7.68" height="9.50" fill="#bddbeb"/>
<rect x="545.42" y="175.84" width="7.68" height="9.50" fill="#bddbeb"/>
<rect x="284.20" y="185.34" width="7.68" height="9.50" fill="#d5e5ef"/>
<rect x="291.88" y="185.34" width="7.68" height="9.50" fill="#d5e5ef"/>
<rect x="299.57" y="185.34" width="7.68" height="9.50" fill="#e3e3e3"/>
<rect x="307.25" y="185.34" width="7.68" height="9.50" fill="#e3e3e3"/>
<rect x="314.93" y="185.34" width="7.68" height="9.50" fill="#f5b394"/>
<rect x="322.62" y="185.34" width="7.68" height="9.50" fill="#f5b394"/>
<rect x="330.30" y="185.34" width="7.68" height="9.50" fill="#f9d6c2"/>
<rect x="337.98" y="185.34" width="7.68" height="9.50" fill="#7cb6d9"/>
<rect x="345.66" y="185.34" width="7.68" height="9.50" fill="#9fcae2"/>
<rect x="353.35" y="185.34" width="7.68" height="9.50" fill="#5b9fcd"/>
<rect x="361.03" y="185.34" width="7.68" height="9.50" fill="#9fcae2"/>
<rect x="368.71" y="185.34" width="7.68" height="9.50" fill="#7cb6d9"/>
<rect x="376.40" y="185.34" width="7.68" height="9.50" fill="#7cb6d9"/>
<rect x="384.08" y="185.34" width="7.68" height="9.50" fill="#d5e5ef"/>
<rect x="391.76" y="185.34" width="7.68" height="9.50" fill="#bddbeb"/>
<rect x="399.44" y="185.34" width="7.68" height="9.50" fill="#d5e5ef"/>
<rect x="407.13" y="185.34" width="7.68" height="9.50" fill="#efe0d8"/>
<rect x="414.81" y="185.34" width="7.68" height="9.50" fill="#f9d6c2"/>
<rect x="422.49" y="185.34" width="7.68" height="9.50" fill="#bddbeb"/>
<rect x="430.18" y="185.34" width="7.68" height="9.50" fill="#e3e3e3"/>
<rect x="437.86" y="185.34" width="7.68" height="9.50" fill="#e3e3e3"/>
<rect x="445.54" y="185.34" width="7.68" height="9.50" fill="#e3e3e3"/>
<rect x="453.23" y="185.34" width="7.68" height="9.50" fill="#bddbeb"/>
<rect x="460.91" y="185.34" width="7.68" height="9.50" fill="#d5e5ef"/>
<rect x="468.59" y="185.34" width="7.68" height="9.50" fill="#c83b3d"/>
<rect x="476.27" y="185.34" width="7.68" height="9.50" fill="#da6552"/>
<rect x="483.96" y="185.34" width="7.68" height="9.50" fill="#da6552"/>
<rect x="491.64" y="185.34" width="7.68" height="9.50" fill="#ec9374"/>
<rect x="499.32" y="185.34" width="7.68" height="9.50" fill="#ec9374"/>
<rect x="507.01" y="185.34" width="7.68" height="9.50" fill="#f5b394"/>
<rect x="514.69" y="185.34" width="7.68" height="9.50" fill="#f5b394"/>
<rect x="522.37" y="185.34" width="7.68" height="9.50" fill="#f9d6c2"/>
<rect x="530.06" y="185.34" width="7.68" height="9.50" fill="#bddbeb"/>
<rect x="537.74" y="185.34" width="7.68" height="9.50" fill="#bddbeb"/>
<rect x="545.42" y="185.34" width="7.68" height="9.50" fill="#9fcae2"/>
<rect x="284.20" y="194.83" width="7.68" height="9.50" fill="#d5e5ef"/>
<rect x="291.88" y="194.83" width="7.68" height="9.50" fill="#d5e5ef"/>
<rect x="299.57" y="194.83" width="7.68" height="9.50" fill="#e3e3e3"/>
<rect x="307.25" y="194.83" width="7.68" height="9.50" fill="#efe0d8"/>
<rect x="314.93" y="194.83" width="7.68" height="9.50" fill="#f5b394"/>
<rect x="322.62" y="194.83" width="7.68" height="9.50" fill="#ec9374"/>
<rect x="330.30" y="194.83" width="7.68" height="9.50" fill="#efe0d8"/>
<rect x="337.98" y="194.83" width="7.68" height="9.50" fill="#9fcae2"/>
<rect x="345.66" y="194.83" width="7.68" height="9.50" fill="#bddbeb"/>
<rect x="353.35" y="194.83" width="7.68" height="9.50" fill="#9fcae2"/>
<rect x="361.03" y="194.83" width="7.68" height="9.50" fill="#9fcae2"/>
<rect x="368.71" y="194.83" width="7.68" height="9.50" fill="#9fcae2"/>
<rect x="376.40" y="194.83" width="7.68" height="9.50" fill="#9fcae2"/>
<rect x="384.08" y="194.83" width="7.68" height="9.50" fill="#d5e5ef"/>
<rect x="391.76" y="194.83" width="7.68" height="9.50" fill="#d5e5ef"/>
<rect x="399.44" y="194.83" width="7.68" height="9.50" fill="#bddbeb"/>
<rect x="407.13" y="194.83" width="7.68" height="9.50" fill="#e3e3e3"/>
<rect x="414.81" y="194.83" width="7.68" height="9.50" fill="#e3e3e3"/>
<rect x="422.49" y="194.83" width="7.68" height="9.50" fill="#9fcae2"/>
<rect x="430.18" y="194.83" width="7.68" height="9.50" fill="#bddbeb"/>
<rect x="437.86" y="194.83" width="7.68" height="9.50" fill="#bddbeb"/>
<rect x="445.54" y="194.83" width="7.68" height="9.50" fill="#d5e5ef"/>
<rect x="453.23" y="194.83" width="7.68" height="9.50" fill="#bddbeb"/>
<rect x="460.91" y="194.83" width="7.68" height="9.50" fill="#bddbeb"/>
<rect x="468.59" y="194.83" width="7.68" height="9.50" fill="#ab192f"/>
<rect x="476.27" y="194.83" width="7.68" height="9.50" fill="#c83b3d"/>
<rect x="483.96" y="194.83" width="7.68" height="9.50" fill="#da6552"/>
<rect x="491.64" y="194.83" width="7.68" height="9.50" fill="#ec9374"/>
<rect x="499.32" y="194.83" width="7.68" height="9.50" fill="#da6552"/>
<rect x="507.01" y="194.83" width="7.68" height="9.50" fill="#f5b394"/>
<rect x="514.69" y="194.83" width="7.68" height="9.50" fill="#f9d6c2"/>
<rect x="522.37" y="194.83" width="7.68" height="9.50" fill="#f9d6c2"/>
<rect x="530.06" y="194.83" width="7.68" height="9.50" fill="#bddbeb"/>
<rect x="537.74" y="194.83" width="7.68" height="9.50" fill="#bddbeb"/>
<rect x="545.42" y="194.83" width="7.68" height="9.50" fill="#9fcae2"/>
<rect x="284.20" y="204.33" width="7.68" height="9.50" fill="#efe0d8"/>
<rect x="291.88" y="204.33" width="7.68" height="9.50" fill="#efe0d8"/>
<rect x="299.57" y="204.33" width="7.68" height="9.50" fill="#f9d6c2"/>
<rect x="307.25" y="204.33" width="7.68" height="9.50" fill="#f9d6c2"/>
<rect x="314.93" y="204.33" width="7.68" height="9.50" fill="#ec9374"/>
<rect x="322.62" y="204.33" width="7.68" height="9.50" fill="#f9d6c2"/>
<rect x="330.30" y="204.33" width="7.68" height="9.50" fill="#d5e5ef"/>
<rect x="337.98" y="204.33" width="7.68" height="9.50" fill="#bddbeb"/>
<rect x="345.66" y="204.33" width="7.68" height="9.50" fill="#d5e5ef"/>
<rect x="353.35" y="204.33" width="7.68" height="9.50" fill="#9fcae2"/>
<rect x="361.03" y="204.33" width="7.68" height="9.50" fill="#d5e5ef"/>
<rect x="368.71" y="204.33" width="7.68" height="9.50" fill="#bddbeb"/>
<rect x="376.40" y="204.33" width="7.68" height="9.50" fill="#d5e5ef"/>
<rect x="384.08" y="204.33" width="7.68" height="9.50" fill="#bddbeb"/>
<rect x="391.76" y="204.33" width="7.68" height="9.50" fill="#9fcae2"/>
<rect x="399.44" y="204.33" width="7.68" height="9.50" fill="#9fcae2"/>
<rect x="407.13" y="204.33" width="7.68" height="9.50" fill="#7cb6d9"/>
<rect x="414.81" y="204.33" width="7.68" height="9.50" fill="#9fcae2"/>
<rect x="422.49" y="204.33" width="7.68" height="9.50" fill="#9fcae2"/>
<rect x="430.18" y="204.33" width="7.68" height="9.50" fill="#bddbeb"/>
<rect x="437.86" y="204.33" width="7.68" height="9.50" fill="#bddbeb"/>
<rect x="445.54" y="204.33" width="7.68" height="9.50" fill="#9fcae2"/>
<rect x="453.23" y="204.33" width="7.68" height="9.50" fill="#bddbeb"/>
<rect x="460.91" y="204.33" width="7.68" height="9.50" fill="#9fcae2"/>
<rect x="468.59" y="204.33" width="7.68" height="9.50" fill="#840b25"/>
<rect x="476.27" y="204.33" width="7.68" height="9.50" fill="#da6552"/>
<rect x="483.96" y="204.33" width="7.68" height="9.50" fill="#da6552"/>
<rect x="491.64" y="204.33" width="7.68" height="9.50" fill="#ec9374"/>
<rect x="499.32" y="204.33" width="7.68" height="9.50" fill="#da6552"/>
<rect x="507.01" y="204.33" width="7.68" height="9.50" fill="#f9d6c2"/>
<rect x="514.69" y="204.33" width="7.68" height="9.50" fill="#d5e5ef"/>
<rect x="522.37" y="204.33" width="7.68" height="9.50" fill="#efe0d8"/>
<rect x="530.06" y="204.33" width="7.68" height="9.50" fill="#e3e3e3"/>
<rect x="537.74" y="204.33" width="7.68" height="9.50" fill="#bddbeb"/>
<rect x="545.42" y="204.33" width="7.68" height="9.50" fill="#9fcae2"/>
<rect x="284.20" y="213.82" width="7.68" height="9.50" fill="#e3e3e3"/>
<rect x="291.88" y="213.82" width="7.68" height="9.50" fill="#d5e5ef"/>
<rect x="299.57" y="213.82" width="7.68" height="9.50" fill="#f9d6c2"/>
<rect x="307.25" y="213.82" width="7.68" height="9.50" fill="#efe0d8"/>
<rect x="314.93" y="213.82" width="7.68" height="9.50" fill="#f5b394"/>
<rect x="322.62" y="213.82" width="7.68" height="9.50" fill="#f9d6c2"/>
<rect x="330.30" y="213.82" width="7.68" height="9.50" fill="#d5e5ef"/>
<rect x="337.98" y="213.82" width="7.68" height="9.50" fill="#9fcae2"/>
<rect x="345.66" y="213.82" width="7.68" height="9.50" fill="#9fcae2"/>
<rect x="353.35" y="213.82" width="7.68" height="9.50" fill="#7cb6d9"/>
<rect x="361.03" y="213.82" width="7.68" height="9.50" fill="#bddbeb"/>
<rect x="368.71" y="213.82" width="7.68" height="9.50" fill="#bddbeb"/>
<rect x="376.40" y="213.82" width="7.68" height="9.50" fill="#bddbeb"/>
<rect x="384.08" y="213.82" width="7.68" height="9.50" fill="#bddbeb"/>
<rect x="391.76" y="213.82" width="7.68" height="9.50" fill="#9fcae2"/>
<rect x="399.44" y="213.82" width="7.68" height="9.50" fill="#9fcae2"/>
<rect x="407.13" y="213.82" width="7.68" height="9.50" fill="#bddbeb"/>
<rect x="414.81" y="213.82" width="7.68" height="9.50" fill="#9fcae2"/>
<rect x="422.49" y="213.82" width="7.68" height="9.50" fill="#7cb6d9"/>
<rect x="430.18" y="213.82" width="7.68" height="9.50" fill="#9fcae2"/>
<rect x="437.86" y="213.82" width="7.68" height="9.50" fill="#9fcae2"/>
<rect x="445.54" y="213.82" width="7.68" height="9.50" fill="#9fcae2"/>
<rect x="453.23" y="213.82" width="7.68" height="9.50" fill="#9fcae2"/>
<rect x="460.91" y="213.82" width="7.68" height="9.50" fill="#9fcae2"/>
<rect x="468.59" y="213.82" width="7.68" height="9.50" fill="#c83b3d"/>
<rect x="476.27" y="213.82" width="7.68" height="9.50" fill="#840b25"/>
<rect x="483.96" y="213.82" width="7.68" height="9.50" fill="#ec9374"/>
<rect x="491.64" y="213.82" width="7.68" height="9.50" fill="#f5b394"/>
<rect x="499.32" y="213.82" width="7.68" height="9.50" fill="#ec9374"/>
<rect x="507.01" y="213.82" width="7.68" height="9.50" fill="#f5b394"/>
<rect x="514.69" y="213.82" width="7.68" height="9.50" fill="#f5b394"/>
<rect x="522.37" y="213.82" width="7.68" height="9.50" fill="#f5b394"/>
<rect x="530.06" y="213.82" width="7.68" height="9.50" fill="#f5b394"/>
<rect x="537.74" y="213.82" width="7.68" height="9.50" fill="#efe0d8"/>
<rect x="545.42" y="213.82" width="7.68" height="9.50" fill="#efe0d8"/>
<rect x="284.20" y="223.32" width="7.68" height="9.50" fill="#bddbeb"/>
<rect x="291.88" y="223.32" width="7.68" height="9.50" fill="#e3e3e3"/>
<rect x="299.57" y="223.32" width="7.68" height="9.50" fill="#e3e3e3"/>
<rect x="307.25" y="223.32" width="7.68" height="9.50" fill="#d5e5ef"/>
<rect x="314.93" y="223.32" width="7.68" height="9.50" fill="#f9d6c2"/>
<rect x="322.62" y="223.32" width="7.68" height="9.50" fill="#e3e3e3"/>
<rect x="330.30" y="223.32" width="7.68" height="9.50" fill="#efe0d8"/>
<rect x="337.98" y="223.32" width="7.68" height="9.50" fill="#9fcae2"/>
<rect x="345.66" y="223.32" width="7.68" height="9.50" fill="#7cb6d9"/>
<rect x="353.35" y="223.32" width="7.68" height="9.50" fill="#7cb6d9"/>
<rect x="361.03" y="223.32" width="7.68" height="9.50" fill="#9fcae2"/>
<rect x="368.71" y="223.32" width="7.68" height="9.50" fill="#bddbeb"/>
<rect x="376.40" y="223.32" width="7.68" height="9.50" fill="#bddbeb"/>
<rect x="384.08" y="223.32" width="7.68" height="9.50" fill="#d5e5ef"/>
<rect x="391.76" y="223.32" width="7.68" height="9.50" fill="#bddbeb"/>
<rect x="399.44" y="223.32" width="7.68" height="9.50" fill="#bddbeb"/>
<rect x="407.13" y="223.32" width="7.68" height="9.50" fill="#d5e5ef"/>
<rect x="414.81" y="223.32" width="7.68" height="9.50" fill="#bddbeb"/>
<rect x="422.49" y="223.32" width="7.68" height="9.50" fill="#9fcae2"/>
<rect x="430.18" y="223.32" width="7.68" height="9.50" fill="#9fcae2"/>
<rect x="437.86" y="223.32" width="7.68" height="9.50" fill="#9fcae2"/>
<rect x="445.54" y="223.32" width="7.68" height="9.50" fill="#bddbeb"/>
<rect x="453.23" y="223.32" width="7.68" height="9.50" fill="#bddbeb"/>
<rect x="460.91" y="223.32" width="7.68" height="9.50" fill="#bddbeb"/>
<rect x="468.59" y="223.32" width="7.68" height="9.50" fill="#c83b3d"/>
<rect x="476.27" y="223.32" width="7.68" height="9.50" fill="#ab192f"/>
<rect x="483.96" y="223.32" width="7.68" height="9.50" fill="#c83b3d"/>
<rect x="491.64" y="223.32" width="7.68" height="9.50" fill="#da6552"/>
<rect x="499.32" y="223.32" width="7.68" height="9.50" fill="#ec9374"/>
<rect x="507.01" y="223.32" width="7.68" height="9.50" fill="#f5b394"/>
<rect x="514.69" y="223.32" width="7.68" height="9.50" fill="#efe0d8"/>
<rect x="522.37" y="223.32" width="7.68" height="9.50" fill="#f9d6c2"/>
<rect x="530.06" y="223.32" width="7.68" height="9.50" fill="#f5b394"/>
<rect x="537.74" y="223.32" width="7.68" height="9.50" fill="#e3e3e3"/>
<rect x="545.42" y="223.32" width="7.68" height="9.50" fill="#efe0d8"/>
<rect x="284.20" y="232.82" width="7.68" height="9.50" fill="#bddbeb"/>
<rect x="291.88" y="232.82" width="7.68" height="9.50" fill="#9fcae2"/>
<rect x="299.57" y="232.82" width="7.68" height="9.50" fill="#efe0d8"/>
<rect x="307.25" y="232.82" width="7.68" height="9.50" fill="#e3e3e3"/>
<rect x="314.93" y="232.82" width="7.68" height="9.50" fill="#ec9374"/>
<rect x="322.62" y="232.82" width="7.68" height="9.50" fill="#e3e3e3"/>
<rect x="330.30" y="232.82" width="7.68" height="9.50" fill="#f9d6c2"/>
<rect x="337.98" y="232.82" width="7.68" height="9.50" fill="#7cb6d9"/>
<rect x="345.66" y="232.82" width="7.68" height="9.50" fill="#9fcae2"/>
<rect x="353.35" y="232.82" width="7.68" height="9.50" fill="#7cb6d9"/>
<rect x="361.03" y="232.82" width="7.68" height="9.50" fill="#bddbeb"/>
<rect x="368.71" y="232.82" width="7.68" height="9.50" fill="#bddbeb"/>
<rect x="376.40" y="232.82" width="7.68" height="9.50" fill="#9fcae2"/>
<rect x="384.08" y="232.82" width="7.68" height="9.50" fill="#e3e3e3"/>
<rect x="391.76" y="232.82" width="7.68" height="9.50" fill="#d5e5ef"/>
<rect x="399.44" y="232.82" width="7.68" height="9.50" fill="#bddbeb"/>
<rect x="407.13" y="232.82" width="7.68" height="9.50" fill="#bddbeb"/>
<rect x="414.81" y="232.82" width="7.68" height="9.50" fill="#bddbeb"/>
<rect x="422.49" y="232.82" width="7.68" height="9.50" fill="#9fcae2"/>
<rect x="430.18" y="232.82" width="7.68" height="9.50" fill="#9fcae2"/>
<rect x="437.86" y="232.82" width="7.68" height="9.50" fill="#bddbeb"/>
<rect x="445.54" y="232.82" width="7.68" height="9.50" fill="#bddbeb"/>
<rect x="453.23" y="232.82" width="7.68" height="9.50" fill="#d5e5ef"/>
<rect x="460.91" y="232.82" width="7.68" height="9.50" fill="#bddbeb"/>
<rect x="468.59" y="232.82" width="7.68" height="9.50" fill="#c83b3d"/>
<rect x="476.27" y="232.82" width="7.68" height="9.50" fill="#c83b3d"/>
<rect x="483.96" y="232.82" width="7.68" height="9.50" fill="#ec9374"/>
<rect x="491.64" y="232.82" width="7.68" height="9.50" fill="#da6552"/>
<rect x="499.32" y="232.82" width="7.68" height="9.50" fill="#c83b3d"/>
<rect x="507.01" y="232.82" width="7.68" height="9.50" fill="#f5b394"/>
<rect x="514.69" y="232.82" width="7.68" height="9.50" fill="#f5b394"/>
<rect x="522.37" y="232.82" width="7.68" height="9.50" fill="#f9d6c2"/>
<rect x="530.06" y="232.82" width="7.68" height="9.50" fill="#efe0d8"/>
<rect x="537.74" y="232.82" width="7.68" height="9.50" fill="#e3e3e3"/>
<rect x="545.42" y="232.82" width="7.68" height="9.50" fill="#e3e3e3"/>
<rect x="284.20" y="242.31" width="7.68" height="9.50" fill="#bddbeb"/>
<rect x="291.88" y="242.31" width="7.68" height="9.50" fill="#bddbeb"/>
<rect x="299.57" y="242.31" width="7.68" height="9.50" fill="#efe0d8"/>
<rect x="307.25" y="242.31" width="7.68" height="9.50" fill="#efe0d8"/>
<rect x="314.93" y="242.31" width="7.68" height="9.50" fill="#ec9374"/>
<rect x="322.62" y="242.31" width="7.68" height="9.50" fill="#efe0d8"/>
<rect x="330.30" y="242.31" width="7.68" height="9.50" fill="#efe0d8"/>
<rect x="337.98" y="242.31" width="7.68" height="9.50" fill="#7cb6d9"/>
<rect x="345.66" y="242.31" width="7.68" height="9.50" fill="#9fcae2"/>
<rect x="353.35" y="242.31" width="7.68" height="9.50" fill="#7cb6d9"/>
<rect x="361.03" y="242.31" width="7.68" height="9.50" fill="#d5e5ef"/>
<rect x="368.71" y="242.31" width="7.68" height="9.50" fill="#bddbeb"/>
<rect x="376.40" y="242.31" width="7.68" height="9.50" fill="#9fcae2"/>
<rect x="384.08" y="242.31" width="7.68" height="9.50" fill="#d5e5ef"/>
<rect x="391.76" y="242.31" width="7.68" height="9.50" fill="#d5e5ef"/>
<rect x="399.44" y="242.31" width="7.68" height="9.50" fill="#bddbeb"/>
<rect x="407.13" y="242.31" width="7.68" height="9.50" fill="#d5e5ef"/>
<rect x="414.81" y="242.31" width="7.68" height="9.50" fill="#bddbeb"/>
<rect x="422.49" y="242.31" width="7.68" height="9.50" fill="#9fcae2"/>
<rect x="430.18" y="242.31" width="7.68" height="9.50" fill="#bddbeb"/>
<rect x="437.86" y="242.31" width="7.68" height="9.50" fill="#9fcae2"/>
<rect x="445.54" y="242.31" width="7.68" height="9.50" fill="#e3e3e3"/>
<rect x="453.23" y="242.31" width="7.68" height="9.50" fill="#d5e5ef"/>
<rect x="460.91" y="242.31" width="7.68" height="9.50" fill="#d5e5ef"/>
<rect x="468.59" y="242.31" width="7.68" height="9.50" fill="#ab192f"/>
<rect x="476.27" y="242.31" width="7.68" height="9.50" fill="#c83b3d"/>
<rect x="483.96" y="242.31" width="7.68" height="9.50" fill="#da6552"/>
<rect x="491.64" y="242.31" width="7.68" height="9.50" fill="#da6552"/>
<rect x="499.32" y="242.31" width="7.68" height="9.50" fill="#da6552"/>
<rect x="507.01" y="242.31" width="7.68" height="9.50" fill="#f5b394"/>
<rect x="514.69" y="242.31" width="7.68" height="9.50" fill="#f5b394"/>
<rect x="522.37" y="242.31" width="7.68" height="9.50" fill="#f5b394"/>
<rect x="530.06" y="242.31" width="7.68" height="9.50" fill="#d5e5ef"/>
<rect x="537.74" y="242.31" width="7.68" height="9.50" fill="#d5e5ef"/>
<rect x="545.42" y="242.31" width="7.68" height="9.50" fill="#bddbeb"/>
<rect x="284.20" y="251.81" width="7.68" height="9.50" fill="#9fcae2"/>
<rect x="291.88" y="251.81" width="7.68" height="9.50" fill="#bddbeb"/>
<rect x="299.57" y="251.81" width="7.68" height="9.50" fill="#d5e5ef"/>
<rect x="307.25" y="251.81" width="7.68" height="9.50" fill="#e3e3e3"/>
<rect x="314.93" y="251.81" width="7.68" height="9.50" fill="#f9d6c2"/>
<rect x="322.62" y="251.81" width="7.68" height="9.50" fill="#efe0d8"/>
<rect x="330.30" y="251.81" width="7.68" height="9.50" fill="#f9d6c2"/>
<rect x="337.98" y="251.81" width="7.68" height="9.50" fill="#7cb6d9"/>
<rect x="345.66" y="251.81" width="7.68" height="9.50" fill="#9fcae2"/>
<rect x="353.35" y="251.81" width="7.68" height="9.50" fill="#7cb6d9"/>
<rect x="361.03" y="251.81" width="7.68" height="9.50" fill="#bddbeb"/>
<rect x="368.71" y="251.81" width="7.68" height="9.50" fill="#bddbeb"/>
<rect x="376.40" y="251.81" width="7.68" height="9.50" fill="#9fcae2"/>
<rect x="384.08" y="251.81" width="7.68" height="9.50" fill="#d5e5ef"/>
<rect x="391.76" y="251.81" width="7.68" height="9.50" fill="#d5e5ef"/>
<rect x="399.44" y="251.81" width="7.68" height="9.50" fill="#9fcae2"/>
<rect x="407.13" y="251.81" width="7.68" height="9.50" fill="#9fcae2"/>
<rect x="414.81" y="251.81" width="7.68" height="9.50" fill="#9fcae2"/>
<rect x="422.49" y="251.81" width="7.68" height="9.50" fill="#bddbeb"/>
<rect x="430.18" y="251.81" width="7.68" height="9.50" fill="#bddbeb"/>
<rect x="437.86" y="251.81" width="7.68" height="9.50" fill="#9fcae2"/>
<rect x="445.54" y="251.81" width="7.68" height="9.50" fill="#efe0d8"/>
<rect x="453.23" y="251.81" width="7.68" height="9.50" fill="#d5e5ef"/>
<rect x="460.91" y="251.81" width="7.68" height="9.50" fill="#e3e3e3"/>
<rect x="468.59" y="251.81" width="7.68" height="9.50" fill="#c83b3d"/>
<rect x="476.27" y="251.81" width="7.68" height="9.50" fill="#ab192f"/>
<rect x="483.96" y="251.81" width="7.68" height="9.50" fill="#ec9374"/>
<rect x="491.64" y="251.81" width="7.68" height="9.50" fill="#ec9374"/>
<rect x="499.32" y="251.81" width="7.68" height="9.50" fill="#da6552"/>
<rect x="507.01" y="251.81" width="7.68" height="9.50" fill="#ec9374"/>
<rect x="514.69" y="251.81" width="7.68" height="9.50" fill="#f5b394"/>
<rect x="522.37" y="251.81" width="7.68" height="9.50" fill="#f5b394"/>
<rect x="530.06" y="251.81" width="7.68" height="9.50" fill="#f9d6c2"/>
<rect x="537.74" y="251.81" width="7.68" height="9.50" fill="#e3e3e3"/>
<rect x="545.42" y="251.81" width="7.68" height="9.50" fill="#efe0d8"/>
<rect x="284.20" y="261.30" width="7.68" height="9.50" fill="#bddbeb"/>
<rect x="291.88" y="261.30" width="7.68" height="9.50" fill="#d5e5ef"/>
<rect x="299.57" y="261.30" width="7.68" height="9.50" fill="#f9d6c2"/>
<rect x="307.25" y="261.30" width="7.68" height="9.50" fill="#f9d6c2"/>
<rect x="314.93" y="261.30" width="7.68" height="9.50" fill="#ec9374"/>
<rect x="322.62" y="261.30" width="7.68" height="9.50" fill="#efe0d8"/>
<rect x="330.30" y="261.30" width="7.68" height="9.50" fill="#d5e5ef"/>
<rect x="337.98" y="261.30" width="7.68" height="9.50" fill="#9fcae2"/>
<rect x="345.66" y="261.30" width="7.68" height="9.50" fill="#9fcae2"/>
<rect x="353.35" y="261.30" width="7.68" height="9.50" fill="#7cb6d9"/>
<rect x="361.03" y="261.30" width="7.68" height="9.50" fill="#bddbeb"/>
<rect x="368.71" y="261.30" width="7.68" height="9.50" fill="#bddbeb"/>
<rect x="376.40" y="261.30" width="7.68" height="9.50" fill="#9fcae2"/>
<rect x="384.08" y="261.30" width="7.68" height="9.50" fill="#bddbeb"/>
<rect x="391.76" y="261.30" width="7.68" height="9.50" fill="#9fcae2"/>
<rect x="399.44" y="261.30" width="7.68" height="9.50" fill="#bddbeb"/>
<rect x="407.13" y="261.30" width="7.68" height="9.50" fill="#d5e5ef"/>
<rect x="414.81" y="261.30" width="7.68" height="9.50" fill="#d5e5ef"/>
<rect x="422.49" y="261.30" width="7.68" height="9.50" fill="#9fcae2"/>
<rect x="430.18" y="261.30" width="7.68" height="9.50" fill="#9fcae2"/>
<rect x="437.86" y="261.30" width="7.68" height="9.50" fill="#bddbeb"/>
<rect x="445.54" y="261.30" width="7.68" height="9.50" fill="#d5e5ef"/>
<rect x="453.23" y="261.30" width="7.68" height="9.50" fill="#bddbeb"/>
<rect x="460.91" y="261.30" width="7.68" height="9.50" fill="#e3e3e3"/>
<rect x="468.59" y="261.30" width="7.68" height="9.50" fill="#ab192f"/>
<rect x="476.27" y="261.30" width="7.68" height="9.50" fill="#ab192f"/>
<rect x="483.96" y="261.30" width="7.68" height="9.50" fill="#ec9374"/>
<rect x="491.64" y="261.30" width="7.68" height="9.50" fill="#ec9374"/>
<rect x="499.32" y="261.30" width="7.68" height="9.50" fill="#c83b3d"/>
<rect x="507.01" y="261.30" width="7.68" height="9.50" fill="#f9d6c2"/>
<rect x="514.69" y="261.30" width="7.68" height="9.50" fill="#f9d6c2"/>
<rect x="522.37" y="261.30" width="7.68" height="9.50" fill="#f9d6c2"/>
<rect x="530.06" y="261.30" width="7.68" height="9.50" fill="#d5e5ef"/>
<rect x="537.74" y="261.30" width="7.68" height="9.50" fill="#d5e5ef"/>
<rect x="545.42" y="261.30" width="7.68" height="9.50" fill="#bddbeb"/>
<line x1="284.20" y1="33.40" x2="284.20" y2="270.80" stroke="#9f9f9f" stroke-width="0.85"/>
<line x1="291.88" y1="33.40" x2="291.88" y2="270.80" stroke="#9f9f9f" stroke-width="0.85"/>
<line x1="299.57" y1="33.40" x2="299.57" y2="270.80" stroke="#9f9f9f" stroke-width="0.85"/>
<line x1="307.25" y1="33.40" x2="307.25" y2="270.80" stroke="#9f9f9f" stroke-width="0.85"/>
<line x1="314.93" y1="33.40" x2="314.93" y2="270.80" stroke="#9f9f9f" stroke-width="0.85"/>
<line x1="322.62" y1="33.40" x2="322.62" y2="270.80" stroke="#9f9f9f" stroke-width="0.85"/>
<line x1="330.30" y1="33.40" x2="330.30" y2="270.80" stroke="#9f9f9f" stroke-width="0.85"/>
<line x1="337.98" y1="33.40" x2="337.98" y2="270.80" stroke="#9f9f9f" stroke-width="0.85"/>
<line x1="345.66" y1="33.40" x2="345.66" y2="270.80" stroke="#9f9f9f" stroke-width="0.85"/>
<line x1="353.35" y1="33.40" x2="353.35" y2="270.80" stroke="#9f9f9f" stroke-width="0.85"/>
<line x1="361.03" y1="33.40" x2="361.03" y2="270.80" stroke="#9f9f9f" stroke-width="0.85"/>
<line x1="368.71" y1="33.40" x2="368.71" y2="270.80" stroke="#9f9f9f" stroke-width="0.85"/>
<line x1="376.40" y1="33.40" x2="376.40" y2="270.80" stroke="#9f9f9f" stroke-width="0.85"/>
<line x1="384.08" y1="33.40" x2="384.08" y2="270.80" stroke="#9f9f9f" stroke-width="0.85"/>
<line x1="391.76" y1="33.40" x2="391.76" y2="270.80" stroke="#9f9f9f" stroke-width="0.85"/>
<line x1="399.44" y1="33.40" x2="399.44" y2="270.80" stroke="#9f9f9f" stroke-width="0.85"/>
<line x1="407.13" y1="33.40" x2="407.13" y2="270.80" stroke="#9f9f9f" stroke-width="0.85"/>
<line x1="414.81" y1="33.40" x2="414.81" y2="270.80" stroke="#9f9f9f" stroke-width="0.85"/>
<line x1="422.49" y1="33.40" x2="422.49" y2="270.80" stroke="#9f9f9f" stroke-width="0.85"/>
<line x1="430.18" y1="33.40" x2="430.18" y2="270.80" stroke="#9f9f9f" stroke-width="0.85"/>
<line x1="437.86" y1="33.40" x2="437.86" y2="270.80" stroke="#9f9f9f" stroke-width="0.85"/>
<line x1="445.54" y1="33.40" x2="445.54" y2="270.80" stroke="#9f9f9f" stroke-width="0.85"/>
<line x1="453.23" y1="33.40" x2="453.23" y2="270.80" stroke="#9f9f9f" stroke-width="0.85"/>
<line x1="460.91" y1="33.40" x2="460.91" y2="270.80" stroke="#9f9f9f" stroke-width="0.85"/>
<line x1="468.59" y1="33.40" x2="468.59" y2="270.80" stroke="#9f9f9f" stroke-width="0.85"/>
<line x1="476.27" y1="33.40" x2="476.27" y2="270.80" stroke="#9f9f9f" stroke-width="0.85"/>
<line x1="483.96" y1="33.40" x2="483.96" y2="270.80" stroke="#9f9f9f" stroke-width="0.85"/>
<line x1="491.64" y1="33.40" x2="491.64" y2="270.80" stroke="#9f9f9f" stroke-width="0.85"/>
<line x1="499.32" y1="33.40" x2="499.32" y2="270.80" stroke="#9f9f9f" stroke-width="0.85"/>
<line x1="507.01" y1="33.40" x2="507.01" y2="270.80" stroke="#9f9f9f" stroke-width="0.85"/>
<line x1="514.69" y1="33.40" x2="514.69" y2="270.80" stroke="#9f9f9f" stroke-width="0.85"/>
<line x1="522.37" y1="33.40" x2="522.37" y2="270.80" stroke="#9f9f9f" stroke-width="0.85"/>
<line x1="530.06" y1="33.40" x2="530.06" y2="270.80" stroke="#9f9f9f" stroke-width="0.85"/>
<line x1="537.74" y1="33.40" x2="537.74" y2="270.80" stroke="#9f9f9f" stroke-width="0.85"/>
<line x1="545.42" y1="33.40" x2="545.42" y2="270.80" stroke="#9f9f9f" stroke-width="0.85"/>
<line x1="553.11" y1="33.40" x2="553.11" y2="270.80" stroke="#9f9f9f" stroke-width="0.85"/>
<line x1="284.20" y1="33.40" x2="553.11" y2="33.40" stroke="#9f9f9f" stroke-width="0.85"/>
<line x1="284.20" y1="42.90" x2="553.11" y2="42.90" stroke="#9f9f9f" stroke-width="0.85"/>
<line x1="284.20" y1="52.39" x2="553.11" y2="52.39" stroke="#9f9f9f" stroke-width="0.85"/>
<line x1="284.20" y1="61.89" x2="553.11" y2="61.89" stroke="#9f9f9f" stroke-width="0.85"/>
<line x1="284.20" y1="71.38" x2="553.11" y2="71.38" stroke="#9f9f9f" stroke-width="0.85"/>
<line x1="284.20" y1="80.88" x2="553.11" y2="80.88" stroke="#9f9f9f" stroke-width="0.85"/>
<line x1="284.20" y1="90.38" x2="553.11" y2="90.38" stroke="#9f9f9f" stroke-width="0.85"/>
<line x1="284.20" y1="99.87" x2="553.11" y2="99.87" stroke="#9f9f9f" stroke-width="0.85"/>
<line x1="284.20" y1="109.37" x2="553.11" y2="109.37" stroke="#9f9f9f" stroke-width="0.85"/>
<line x1="284.20" y1="118.86" x2="553.11" y2="118.86" stroke="#9f9f9f" stroke-width="0.85"/>
<line x1="284.20" y1="128.36" x2="553.11" y2="128.36" stroke="#9f9f9f" stroke-width="0.85"/>
<line x1="284.20" y1="137.86" x2="553.11" y2="137.86" stroke="#9f9f9f" stroke-width="0.85"/>
<line x1="284.20" y1="147.35" x2="553.11" y2="147.35" stroke="#9f9f9f" stroke-width="0.85"/>
<line x1="284.20" y1="156.85" x2="553.11" y2="156.85" stroke="#9f9f9f" stroke-width="0.85"/>
<line x1="284.20" y1="166.34" x2="553.11" y2="166.34" stroke="#9f9f9f" stroke-width="0.85"/>
<line x1="284.20" y1="175.84" x2="553.11" y2="175.84" stroke="#9f9f9f" stroke-width="0.85"/>
<line x1="284.20" y1="185.34" x2="553.11" y2="185.34" stroke="#9f9f9f" stroke-width="0.85"/>
<line x1="284.20" y1="194.83" x2="553.11" y2="194.83" stroke="#9f9f9f" stroke-width="0.85"/>
<line x1="284.20" y1="204.33" x2="553.11" y2="204.33" stroke="#9f9f9f" stroke-width="0.85"/>
<line x1="284.20" y1="213.82" x2="553.11" y2="213.82" stroke="#9f9f9f" stroke-width="0.85"/>
<line x1="284.20" y1="223.32" x2="553.11" y2="223.32" stroke="#9f9f9f" stroke-width="0.85"/>
<line x1="284.20" y1="232.82" x2="553.11" y2="232.82" stroke="#9f9f9f" stroke-width="0.85"/>
<line x1="284.20" y1="242.31" x2="553.11" y2="242.31" stroke="#9f9f9f" stroke-width="0.85"/>
<line x1="284.20" y1="251.81" x2="553.11" y2="251.81" stroke="#9f9f9f" stroke-width="0.85"/>
<line x1="284.20" y1="261.30" x2="553.11" y2="261.30" stroke="#9f9f9f" stroke-width="0.85"/>
<line x1="284.20" y1="270.80" x2="553.11" y2="270.80" stroke="#9f9f9f" stroke-width="0.85"/>
<rect x="284.20" y="25.0" width="7.68" height="6.60" fill="#4fd493"/>
<rect x="291.88" y="25.0" width="7.68" height="6.60" fill="#4fd493"/>
<rect x="299.57" y="25.0" width="7.68" height="6.60" fill="#4fd493"/>
<rect x="307.25" y="25.0" width="7.68" height="6.60" fill="#4fd493"/>
<rect x="314.93" y="25.0" width="7.68" height="6.60" fill="#4fd493"/>
<rect x="322.62" y="25.0" width="7.68" height="6.60" fill="#4fd493"/>
<rect x="330.30" y="25.0" width="7.68" height="6.60" fill="#4fd493"/>
<rect x="337.98" y="25.0" width="7.68" height="6.60" fill="#4fd493"/>
<rect x="345.66" y="25.0" width="7.68" height="6.60" fill="#4fd493"/>
<rect x="353.35" y="25.0" width="7.68" height="6.60" fill="#4fd493"/>
<rect x="361.03" y="25.0" width="7.68" height="6.60" fill="#4fd493"/>
<rect x="368.71" y="25.0" width="7.68" height="6.60" fill="#4fd493"/>
<rect x="376.40" y="25.0" width="7.68" height="6.60" fill="#4fd493"/>
<rect x="384.08" y="25.0" width="7.68" height="6.60" fill="#4fd493"/>
<rect x="391.76" y="25.0" width="7.68" height="6.60" fill="#4fd493"/>
<rect x="399.44" y="25.0" width="7.68" height="6.60" fill="#4fd493"/>
<rect x="407.13" y="25.0" width="7.68" height="6.60" fill="#4fd493"/>
<rect x="414.81" y="25.0" width="7.68" height="6.60" fill="#4fd493"/>
<rect x="422.49" y="25.0" width="7.68" height="6.60" fill="#4fd493"/>
<rect x="430.18" y="25.0" width="7.68" height="6.60" fill="#4fd493"/>
<rect x="437.86" y="25.0" width="7.68" height="6.60" fill="#4fd493"/>
<rect x="445.54" y="25.0" width="7.68" height="6.60" fill="#4fd493"/>
<rect x="453.23" y="25.0" width="7.68" height="6.60" fill="#4fd493"/>
<rect x="460.91" y="25.0" width="7.68" height="6.60" fill="#4fd493"/>
<rect x="468.59" y="25.0" width="7.68" height="6.60" fill="#000000"/>
<rect x="476.27" y="25.0" width="7.68" height="6.60" fill="#000000"/>
<rect x="483.96" y="25.0" width="7.68" height="6.60" fill="#000000"/>
<rect x="491.64" y="25.0" width="7.68" height="6.60" fill="#000000"/>
<rect x="499.32" y="25.0" width="7.68" height="6.60" fill="#000000"/>
<rect x="507.01" y="25.0" width="7.68" height="6.60" fill="#ee8ee9"/>
<rect x="514.69" y="25.0" width="7.68" height="6.60" fill="#ee8ee9"/>
<rect x="522.37" y="25.0" width="7.68" height="6.60" fill="#ee8ee9"/>
<rect x="530.06" y="25.0" width="7.68" height="6.60" fill="#ee8ee9"/>
<rect x="537.74" y="25.0" width="7.68" height="6.60" fill="#ee8ee9"/>
<rect x="545.42" y="25.0" width="7.68" height="6.60" fill="#ee8ee9"/>
<line x1="284.20" y1="25.00" x2="284.20" y2="31.60" stroke="#9f9f9f" stroke-width="0.75"/>
<line x1="291.88" y1="25.00" x2="291.88" y2="31.60" stroke="#9f9f9f" stroke-width="0.75"/>
<line x1="299.57" y1="25.00" x2="299.57" y2="31.60" stroke="#9f9f9f" stroke-width="0.75"/>
<line x1="307.25" y1="25.00" x2="307.25" y2="31.60" stroke="#9f9f9f" stroke-width="0.75"/>
<line x1="314.93" y1="25.00" x2="314.93" y2="31.60" stroke="#9f9f9f" stroke-width="0.75"/>
<line x1="322.62" y1="25.00" x2="322.62" y2="31.60" stroke="#9f9f9f" stroke-width="0.75"/>
<line x1="330.30" y1="25.00" x2="330.30" y2="31.60" stroke="#9f9f9f" stroke-width="0.75"/>
<line x1="337.98" y1="25.00" x2="337.98" y2="31.60" stroke="#9f9f9f" stroke-width="0.75"/>
<line x1="345.66" y1="25.00" x2="345.66" y2="31.60" stroke="#9f9f9f" stroke-width="0.75"/>
<line x1="353.35" y1="25.00" x2="353.35" y2="31.60" stroke="#9f9f9f" stroke-width="0.75"/>
<line x1="361.03" y1="25.00" x2="361.03" y2="31.60" stroke="#9f9f9f" stroke-width="0.75"/>
<line x1="368.71" y1="25.00" x2="368.71" y2="31.60" stroke="#9f9f9f" stroke-width="0.75"/>
<line x1="376.40" y1="25.00" x2="376.40" y2="31.60" stroke="#9f9f9f" stroke-width="0.75"/>
<line x1="384.08" y1="25.00" x2="384.08" y2="31.60" stroke="#9f9f9f" stroke-width="0.75"/>
<line x1="391.76" y1="25.00" x2="391.76" y2="31.60" stroke="#9f9f9f" stroke-width="0.75"/>
<line x1="399.44" y1="25.00" x2="399.44" y2="31.60" stroke="#9f9f9f" stroke-width="0.75"/>
<line x1="407.13" y1="25.00" x2="407.13" y2="31.60" stroke="#9f9f9f" stroke-width="0.75"/>
<line x1="414.81" y1="25.00" x2="414.81" y2="31.60" stroke="#9f9f9f" stroke-width="0.75"/>
<line x1="422.49" y1="25.00" x2="422.49" y2="31.60" stroke="#9f9f9f" stroke-width="0.75"/>
<line x1="430.18" y1="25.00" x2="430.18" y2="31.60" stroke="#9f9f9f" stroke-width="0.75"/>
<line x1="437.86" y1="25.00" x2="437.86" y2="31.60" stroke="#9f9f9f" stroke-width="0.75"/>
<line x1="445.54" y1="25.00" x2="445.54" y2="31.60" stroke="#9f9f9f" stroke-width="0.75"/>
<line x1="453.23" y1="25.00" x2="453.23" y2="31.60" stroke="#9f9f9f" stroke-width="0.75"/>
<line x1="460.91" y1="25.00" x2="460.91" y2="31.60" stroke="#9f9f9f" stroke-width="0.75"/>
<line x1="468.59" y1="25.00" x2="468.59" y2="31.60" stroke="#9f9f9f" stroke-width="0.75"/>
<line x1="476.27" y1="25.00" x2="476.27" y2="31.60" stroke="#9f9f9f" stroke-width="0.75"/>
<line x1="483.96" y1="25.00" x2="483.96" y2="31.60" stroke="#9f9f9f" stroke-width="0.75"/>
<line x1="491.64" y1="25.00" x2="491.64" y2="31.60" stroke="#9f9f9f" stroke-width="0.75"/>
<line x1="499.32" y1="25.00" x2="499.32" y2="31.60" stroke="#9f9f9f" stroke-width="0.75"/>
<line x1="507.01" y1="25.00" x2="507.01" y2="31.60" stroke="#9f9f9f" stroke-width="0.75"/>
<line x1="514.69" y1="25.00" x2="514.69" y2="31.60" stroke="#9f9f9f" stroke-width="0.75"/>
<line x1="522.37" y1="25.00" x2="522.37" y2="31.60" stroke="#9f9f9f" stroke-width="0.75"/>
<line x1="530.06" y1="25.00" x2="530.06" y2="31.60" stroke="#9f9f9f" stroke-width="0.75"/>
<line x1="537.74" y1="25.00" x2="537.74" y2="31.60" stroke="#9f9f9f" stroke-width="0.75"/>
<line x1="545.42" y1="25.00" x2="545.42" y2="31.60" stroke="#9f9f9f" stroke-width="0.75"/>
<line x1="553.11" y1="25.00" x2="553.11" y2="31.60" stroke="#9f9f9f" stroke-width="0.75"/>
<line x1="284.20" y1="25.00" x2="553.11" y2="25.00" stroke="#9f9f9f" stroke-width="0.6"/>
<line x1="284.20" y1="31.60" x2="553.11" y2="31.60" stroke="#9f9f9f" stroke-width="0.6"/>
<text x="556.11" y="40.75" font-size="6.6" stroke="#231f20" stroke-width="0.06">Aspartate</text>
<text x="556.11" y="50.24" font-size="6.6" stroke="#231f20" stroke-width="0.06"><tspan font-style="italic">S</tspan>-Adenosyl-homocysteine</text>
<text x="556.11" y="59.74" font-size="6.6" stroke="#231f20" stroke-width="0.06">Citramalate</text>
<text x="556.11" y="69.24" font-size="6.6" stroke="#231f20" stroke-width="0.06">Ophthalmate</text>
<text x="556.11" y="78.73" font-size="6.6" stroke="#231f20" stroke-width="0.06">Cytidine-5′-triphosphate</text>
<text x="556.11" y="88.23" font-size="6.6" stroke="#231f20" stroke-width="0.06">UDP-glucoronate</text>
<text x="556.11" y="97.72" font-size="6.6" stroke="#231f20" stroke-width="0.06">UDP-glucose</text>
<text x="556.11" y="107.22" font-size="6.6" stroke="#231f20" stroke-width="0.06">Glyceraldehyde-3-p</text>
<text x="556.11" y="116.72" font-size="6.6" stroke="#231f20" stroke-width="0.06">Fructose-1,6-bisphosphate</text>
<text x="556.11" y="126.21" font-size="6.6" stroke="#231f20" stroke-width="0.06">GMP</text>
<text x="556.11" y="135.71" font-size="6.6" stroke="#231f20" stroke-width="0.06">AMP</text>
<text x="556.11" y="145.20" font-size="6.6" stroke="#231f20" stroke-width="0.06">dGMP</text>
<text x="556.11" y="154.70" font-size="6.6" stroke="#231f20" stroke-width="0.06">C24:1</text>
<text x="556.11" y="164.20" font-size="6.6" stroke="#231f20" stroke-width="0.06">Methylnicotinamide</text>
<text x="556.11" y="173.69" font-size="6.6" stroke="#231f20" stroke-width="0.06">Glucuronic acid</text>
<text x="556.11" y="183.19" font-size="6.6" stroke="#231f20" stroke-width="0.06">Gluconate</text>
<text x="556.11" y="192.68" font-size="6.6" stroke="#231f20" stroke-width="0.06">Tryptophan</text>
<text x="556.11" y="202.18" font-size="6.6" stroke="#231f20" stroke-width="0.06">Phenylalanine</text>
<text x="556.11" y="211.68" font-size="6.6" stroke="#231f20" stroke-width="0.06">Acetylmethionine</text>
<text x="556.11" y="221.17" font-size="6.6" stroke="#231f20" stroke-width="0.06">Carbamoylaspartate</text>
<text x="556.11" y="230.67" font-size="6.6" stroke="#231f20" stroke-width="0.06">GSH</text>
<text x="556.11" y="240.16" font-size="6.6" stroke="#231f20" stroke-width="0.06"><tspan font-style="italic">N</tspan>-Acetyl-glutamate</text>
<text x="556.11" y="249.66" font-size="6.6" stroke="#231f20" stroke-width="0.06">Glutamate</text>
<text x="556.11" y="259.16" font-size="6.6" stroke="#231f20" stroke-width="0.06">Aminoadipate</text>
<text x="556.11" y="268.65" font-size="6.6" stroke="#231f20" stroke-width="0.06">GSSG</text>
<text x="556.11" y="31.20" font-size="6.6" stroke="#231f20" stroke-width="0.06">Group</text>
<text x="290.24" y="272.80" font-size="6.35" stroke="#231f20" stroke-width="0.06" text-anchor="end" transform="rotate(-90 290.24 272.80)">LN7-1134BL-1</text>
<text x="297.92" y="272.80" font-size="6.35" stroke="#231f20" stroke-width="0.06" text-anchor="end" transform="rotate(-90 297.92 272.80)">LN7-1134BL-3</text>
<text x="305.61" y="272.80" font-size="6.35" stroke="#231f20" stroke-width="0.06" text-anchor="end" transform="rotate(-90 305.61 272.80)">LN8-1198AR-2</text>
<text x="313.29" y="272.80" font-size="6.35" stroke="#231f20" stroke-width="0.06" text-anchor="end" transform="rotate(-90 313.29 272.80)">LN8-1198AR-3</text>
<text x="320.97" y="272.80" font-size="6.35" stroke="#231f20" stroke-width="0.06" text-anchor="end" transform="rotate(-90 320.97 272.80)">LN8-1198AR-1</text>
<text x="328.66" y="272.80" font-size="6.35" stroke="#231f20" stroke-width="0.06" text-anchor="end" transform="rotate(-90 328.66 272.80)">LN7-1112AR-3</text>
<text x="336.34" y="272.80" font-size="6.35" stroke="#231f20" stroke-width="0.06" text-anchor="end" transform="rotate(-90 336.34 272.80)">LN9-1315BL-1</text>
<text x="344.02" y="272.80" font-size="6.35" stroke="#231f20" stroke-width="0.06" text-anchor="end" transform="rotate(-90 344.02 272.80)">LN7-1134BL-2</text>
<text x="351.71" y="272.80" font-size="6.35" stroke="#231f20" stroke-width="0.06" text-anchor="end" transform="rotate(-90 351.71 272.80)">LN7-1112AR-1</text>
<text x="359.39" y="272.80" font-size="6.35" stroke="#231f20" stroke-width="0.06" text-anchor="end" transform="rotate(-90 359.39 272.80)">LN7-1112AR-2</text>
<text x="367.07" y="272.80" font-size="6.35" stroke="#231f20" stroke-width="0.06" text-anchor="end" transform="rotate(-90 367.07 272.80)">LN7-1120BL-1</text>
<text x="374.75" y="272.80" font-size="6.35" stroke="#231f20" stroke-width="0.06" text-anchor="end" transform="rotate(-90 374.75 272.80)">LN7-1120BL-2</text>
<text x="382.44" y="272.80" font-size="6.35" stroke="#231f20" stroke-width="0.06" text-anchor="end" transform="rotate(-90 382.44 272.80)">LN7-1120BL-3</text>
<text x="390.12" y="272.80" font-size="6.35" stroke="#231f20" stroke-width="0.06" text-anchor="end" transform="rotate(-90 390.12 272.80)">LN9-1315BL-2</text>
<text x="397.80" y="272.80" font-size="6.35" stroke="#231f20" stroke-width="0.06" text-anchor="end" transform="rotate(-90 397.80 272.80)">LN9-1315BL-3</text>
<text x="405.49" y="272.80" font-size="6.35" stroke="#231f20" stroke-width="0.06" text-anchor="end" transform="rotate(-90 405.49 272.80)">LN9-1358IR-2</text>
<text x="413.17" y="272.80" font-size="6.35" stroke="#231f20" stroke-width="0.06" text-anchor="end" transform="rotate(-90 413.17 272.80)">LN9-1358IR-1</text>
<text x="420.85" y="272.80" font-size="6.35" stroke="#231f20" stroke-width="0.06" text-anchor="end" transform="rotate(-90 420.85 272.80)">LN9-1358IR-3</text>
<text x="428.54" y="272.80" font-size="6.35" stroke="#231f20" stroke-width="0.06" text-anchor="end" transform="rotate(-90 428.54 272.80)">LN8-1194BR-3</text>
<text x="436.22" y="272.80" font-size="6.35" stroke="#231f20" stroke-width="0.06" text-anchor="end" transform="rotate(-90 436.22 272.80)">LN8-1194BR-1</text>
<text x="443.90" y="272.80" font-size="6.35" stroke="#231f20" stroke-width="0.06" text-anchor="end" transform="rotate(-90 443.90 272.80)">LN8-1194BR-2</text>
<text x="451.58" y="272.80" font-size="6.35" stroke="#231f20" stroke-width="0.06" text-anchor="end" transform="rotate(-90 451.58 272.80)">LN8-1205BL-1</text>
<text x="459.27" y="272.80" font-size="6.35" stroke="#231f20" stroke-width="0.06" text-anchor="end" transform="rotate(-90 459.27 272.80)">LN8-1205BL-2</text>
<text x="466.95" y="272.80" font-size="6.35" stroke="#231f20" stroke-width="0.06" text-anchor="end" transform="rotate(-90 466.95 272.80)">LN8-1205BL-3</text>
<text x="474.63" y="272.80" font-size="6.35" stroke="#231f20" stroke-width="0.06" text-anchor="end" transform="rotate(-90 474.63 272.80)">B16-F0-4</text>
<text x="482.32" y="272.80" font-size="6.35" stroke="#231f20" stroke-width="0.06" text-anchor="end" transform="rotate(-90 482.32 272.80)">B16-F0-5</text>
<text x="490.00" y="272.80" font-size="6.35" stroke="#231f20" stroke-width="0.06" text-anchor="end" transform="rotate(-90 490.00 272.80)">B16-F0-3</text>
<text x="497.68" y="272.80" font-size="6.35" stroke="#231f20" stroke-width="0.06" text-anchor="end" transform="rotate(-90 497.68 272.80)">B16-F0-1</text>
<text x="505.37" y="272.80" font-size="6.35" stroke="#231f20" stroke-width="0.06" text-anchor="end" transform="rotate(-90 505.37 272.80)">B16-F0-2</text>
<text x="513.05" y="272.80" font-size="6.35" stroke="#231f20" stroke-width="0.06" text-anchor="end" transform="rotate(-90 513.05 272.80)">LN1-18IL-3</text>
<text x="520.73" y="272.80" font-size="6.35" stroke="#231f20" stroke-width="0.06" text-anchor="end" transform="rotate(-90 520.73 272.80)">LN1-18IL-1</text>
<text x="528.41" y="272.80" font-size="6.35" stroke="#231f20" stroke-width="0.06" text-anchor="end" transform="rotate(-90 528.41 272.80)">LN1-18IL-2</text>
<text x="536.10" y="272.80" font-size="6.35" stroke="#231f20" stroke-width="0.06" text-anchor="end" transform="rotate(-90 536.10 272.80)">LN1-18IL-6</text>
<text x="543.78" y="272.80" font-size="6.35" stroke="#231f20" stroke-width="0.06" text-anchor="end" transform="rotate(-90 543.78 272.80)">LN1-18IL-4</text>
<text x="551.46" y="272.80" font-size="6.35" stroke="#231f20" stroke-width="0.06" text-anchor="end" transform="rotate(-90 551.46 272.80)">LN1-18IL-5</text>
<path d="M288.04 24.90V23.60H295.72V24.90" fill="none" stroke="#1e1e1e" stroke-width="0.7"/>
<path d="M303.41 24.90V23.20H311.09V24.90" fill="none" stroke="#1e1e1e" stroke-width="0.7"/>
<path d="M291.88 23.60V22.20H307.25V23.20" fill="none" stroke="#1e1e1e" stroke-width="0.7"/>
<path d="M326.46 24.90V23.60H334.14V24.90" fill="none" stroke="#1e1e1e" stroke-width="0.7"/>
<path d="M318.77 24.90V22.60H330.30V23.60" fill="none" stroke="#1e1e1e" stroke-width="0.7"/>
<path d="M299.57 22.20V21.10H324.54V22.60" fill="none" stroke="#1e1e1e" stroke-width="0.7"/>
<path d="M349.51 24.90V23.60H357.19V24.90" fill="none" stroke="#1e1e1e" stroke-width="0.7"/>
<path d="M341.82 24.90V22.40H353.35V23.60" fill="none" stroke="#1e1e1e" stroke-width="0.7"/>
<path d="M372.55 24.90V23.60H380.24V24.90" fill="none" stroke="#1e1e1e" stroke-width="0.7"/>
<path d="M364.87 24.90V23.00H376.40V23.60" fill="none" stroke="#1e1e1e" stroke-width="0.7"/>
<path d="M387.92 24.90V23.80H395.60V24.90" fill="none" stroke="#1e1e1e" stroke-width="0.7"/>
<path d="M410.97 24.90V24.00H418.65V24.90" fill="none" stroke="#1e1e1e" stroke-width="0.7"/>
<path d="M403.29 24.90V23.30H414.81V24.00" fill="none" stroke="#1e1e1e" stroke-width="0.7"/>
<path d="M391.76 23.80V23.00H409.05V23.30" fill="none" stroke="#1e1e1e" stroke-width="0.7"/>
<path d="M426.34 24.90V23.80H434.02V24.90" fill="none" stroke="#1e1e1e" stroke-width="0.7"/>
<path d="M457.07 24.90V24.30H464.75V24.90" fill="none" stroke="#1e1e1e" stroke-width="0.7"/>
<path d="M449.38 24.90V24.00H460.91V24.30" fill="none" stroke="#1e1e1e" stroke-width="0.7"/>
<path d="M441.70 24.90V23.40H455.15V24.00" fill="none" stroke="#1e1e1e" stroke-width="0.7"/>
<path d="M430.18 23.80V22.50H448.42V23.40" fill="none" stroke="#1e1e1e" stroke-width="0.7"/>
<path d="M400.41 23.00V21.50H439.30V22.50" fill="none" stroke="#1e1e1e" stroke-width="0.7"/>
<path d="M370.63 23.00V20.30H419.85V21.50" fill="none" stroke="#1e1e1e" stroke-width="0.7"/>
<path d="M347.58 22.40V19.20H395.24V20.30" fill="none" stroke="#1e1e1e" stroke-width="0.7"/>
<path d="M312.05 21.10V17.40H371.41V19.20" fill="none" stroke="#1e1e1e" stroke-width="0.7"/>
<path d="M472.43 24.90V22.30H480.12V24.90" fill="none" stroke="#1e1e1e" stroke-width="0.7"/>
<path d="M495.48 24.90V23.50H503.17V24.90" fill="none" stroke="#1e1e1e" stroke-width="0.7"/>
<path d="M487.80 24.90V22.80H499.32V23.50" fill="none" stroke="#1e1e1e" stroke-width="0.7"/>
<path d="M476.27 22.30V20.40H493.56V22.80" fill="none" stroke="#1e1e1e" stroke-width="0.7"/>
<path d="M518.53 24.90V23.50H526.21V24.90" fill="none" stroke="#1e1e1e" stroke-width="0.7"/>
<path d="M510.85 24.90V22.60H522.37V23.50" fill="none" stroke="#1e1e1e" stroke-width="0.7"/>
<path d="M541.58 24.90V23.20H549.26V24.90" fill="none" stroke="#1e1e1e" stroke-width="0.7"/>
<path d="M533.90 24.90V22.00H545.42V23.20" fill="none" stroke="#1e1e1e" stroke-width="0.7"/>
<path d="M516.61 22.60V20.00H539.66V22.00" fill="none" stroke="#1e1e1e" stroke-width="0.7"/>
<path d="M484.92 20.40V10.20H528.14V20.00" fill="none" stroke="#1e1e1e" stroke-width="0.7"/>
<path d="M341.73 17.40V5.00H506.53V10.20" fill="none" stroke="#1e1e1e" stroke-width="0.7"/>
<path d="M283.60 38.15H279.90V47.64H283.60" fill="none" stroke="#1e1e1e" stroke-width="0.7"/>
<path d="M279.90 42.90H278.00V57.14H283.60" fill="none" stroke="#1e1e1e" stroke-width="0.7"/>
<path d="M278.00 50.02H273.00V66.64H283.60" fill="none" stroke="#1e1e1e" stroke-width="0.7"/>
<path d="M283.60 76.13H279.00V85.63H283.60" fill="none" stroke="#1e1e1e" stroke-width="0.7"/>
<path d="M279.00 80.88H277.00V95.12H283.60" fill="none" stroke="#1e1e1e" stroke-width="0.7"/>
<path d="M273.00 58.33H270.00V88.00H277.00" fill="none" stroke="#1e1e1e" stroke-width="0.7"/>
<path d="M283.60 104.62H273.50V114.12H283.60" fill="none" stroke="#1e1e1e" stroke-width="0.7"/>
<path d="M270.00 73.16H265.70V109.37H273.50" fill="none" stroke="#1e1e1e" stroke-width="0.7"/>
<path d="M283.60 123.61H279.50V133.11H283.60" fill="none" stroke="#1e1e1e" stroke-width="0.7"/>
<path d="M279.50 128.36H277.50V142.60H283.60" fill="none" stroke="#1e1e1e" stroke-width="0.7"/>
<path d="M265.70 91.27H259.00V135.48H277.50" fill="none" stroke="#1e1e1e" stroke-width="0.7"/>
<path d="M283.60 152.10H272.30V161.60H283.60" fill="none" stroke="#1e1e1e" stroke-width="0.7"/>
<path d="M283.60 171.09H278.30V180.59H283.60" fill="none" stroke="#1e1e1e" stroke-width="0.7"/>
<path d="M272.30 156.85H268.50V175.84H278.30" fill="none" stroke="#1e1e1e" stroke-width="0.7"/>
<path d="M283.60 190.08H280.20V199.58H283.60" fill="none" stroke="#1e1e1e" stroke-width="0.7"/>
<path d="M280.20 194.83H274.80V209.08H283.60" fill="none" stroke="#1e1e1e" stroke-width="0.7"/>
<path d="M283.60 218.57H278.40V228.07H283.60" fill="none" stroke="#1e1e1e" stroke-width="0.7"/>
<path d="M283.60 237.56H281.00V247.06H283.60" fill="none" stroke="#1e1e1e" stroke-width="0.7"/>
<path d="M283.60 256.56H279.50V266.05H283.60" fill="none" stroke="#1e1e1e" stroke-width="0.7"/>
<path d="M281.00 242.31H277.50V261.30H279.50" fill="none" stroke="#1e1e1e" stroke-width="0.7"/>
<path d="M278.40 223.32H275.50V251.81H277.50" fill="none" stroke="#1e1e1e" stroke-width="0.7"/>
<path d="M274.80 201.95H274.20V237.56H275.50" fill="none" stroke="#1e1e1e" stroke-width="0.7"/>
<path d="M268.50 166.34H265.20V219.76H274.20" fill="none" stroke="#1e1e1e" stroke-width="0.7"/>
<path d="M259.00 113.37H256.70V193.05H265.20" fill="none" stroke="#1e1e1e" stroke-width="0.7"/>
<text x="648.40" y="31.80" font-size="6.6" stroke="#231f20" stroke-width="0.06">Group</text>
<rect x="648.2" y="34.20" width="9.6" height="8.56" fill="#ee8ee9"/>
<text x="661.00" y="40.90" font-size="6.6" stroke="#231f20" stroke-width="0.06">LN1</text>
<rect x="648.2" y="42.76" width="9.6" height="8.56" fill="#4fd493"/>
<line x1="648.20" y1="42.76" x2="657.80" y2="42.76" stroke="#9a9a9a" stroke-width="0.5"/>
<text x="661.00" y="49.46" font-size="6.6" stroke="#231f20" stroke-width="0.06">LN7</text>
<rect x="648.2" y="51.32" width="9.6" height="8.56" fill="#4fd493"/>
<line x1="648.20" y1="51.32" x2="657.80" y2="51.32" stroke="#9a9a9a" stroke-width="0.5"/>
<text x="661.00" y="58.02" font-size="6.6" stroke="#231f20" stroke-width="0.06">LN8</text>
<rect x="648.2" y="59.88" width="9.6" height="8.56" fill="#4fd493"/>
<line x1="648.20" y1="59.88" x2="657.80" y2="59.88" stroke="#9a9a9a" stroke-width="0.5"/>
<text x="661.00" y="66.58" font-size="6.6" stroke="#231f20" stroke-width="0.06">LN9</text>
<rect x="648.2" y="68.44" width="9.6" height="8.56" fill="#000"/>
<text x="661.00" y="75.14" font-size="6.6" stroke="#231f20" stroke-width="0.06">Parental</text>
<defs><linearGradient id="cb" x1="0" y1="0" x2="0" y2="1"><stop offset="0" stop-color="#67001f"/><stop offset="0.12" stop-color="#a51429"/><stop offset="0.24" stop-color="#cf4d45"/><stop offset="0.36" stop-color="#ee9677"/><stop offset="0.46" stop-color="#f9d3bf"/><stop offset="0.54" stop-color="#e6e4e3"/><stop offset="0.64" stop-color="#c3dcea"/><stop offset="0.74" stop-color="#82b9d9"/><stop offset="0.86" stop-color="#3d87bd"/><stop offset="1" stop-color="#093a70"/></linearGradient></defs>
<rect x="649.8" y="87.0" width="9.0" height="91.8" fill="url(#cb)"/>
<text x="662.00" y="96.20" font-size="6.6" stroke="#231f20" stroke-width="0.06">3</text>
<text x="662.00" y="110.25" font-size="6.6" stroke="#231f20" stroke-width="0.06">2</text>
<text x="662.00" y="124.30" font-size="6.6" stroke="#231f20" stroke-width="0.06">1</text>
<text x="662.00" y="138.35" font-size="6.6" stroke="#231f20" stroke-width="0.06">0</text>
<text x="662.00" y="152.40" font-size="6.6" stroke="#231f20" stroke-width="0.06">−1</text>
<text x="662.00" y="166.45" font-size="6.6" stroke="#231f20" stroke-width="0.06">−2</text>
<text x="662.00" y="180.50" font-size="6.6" stroke="#231f20" stroke-width="0.06">−3</text>
<text x="0.00" y="244.50" font-size="11" font-weight="bold" fill="#000" stroke="#000" stroke-width="0.35">c</text>
<text x="24.00" y="277.40" font-size="6.45" stroke="#231f20" stroke-width="0.06">Cysteine</text>
<text x="65.00" y="253.80" font-size="6.45" stroke="#231f20" stroke-width="0.06" text-anchor="middle">Glutamate</text>
<text x="98.40" y="277.00" font-size="6.45" stroke="#231f20" stroke-width="0.06">γ-Glutamylcysteine</text>
<text x="170.70" y="253.80" font-size="6.45" stroke="#231f20" stroke-width="0.06" text-anchor="middle">Glycine</text>
<text x="204.50" y="276.60" font-size="6.45" stroke="#231f20" stroke-width="0.06">GSH</text>
<defs><linearGradient id="ar1" x1="0" y1="0" x2="1" y2="0"><stop offset="0" stop-color="#231f20" stop-opacity="0"/><stop offset="0.3" stop-color="#231f20" stop-opacity="1"/><stop offset="1" stop-color="#231f20" stop-opacity="1"/></linearGradient></defs>
<rect x="54.3" y="274.5" width="36.5" height="1.4" fill="url(#ar1)"/>
<path d="M89.5 272.6 L94.5 275.2 L89.5 277.8 Z" fill="#231f20"/>
<path d="M65.6 257.6 C66.5 266 69.5 272.5 74.6 275.0" fill="none" stroke="#231f20" stroke-width="0.9"/>
<rect x="161.8" y="273.5" width="37" height="1.4" fill="url(#ar1)"/>
<path d="M197.5 271.6 L202.5 274.2 L197.5 276.8 Z" fill="#231f20"/>
<path d="M173.3 257.4 C174.2 265.5 177 271.8 181.5 274.1" fill="none" stroke="#231f20" stroke-width="0.9"/>
<rect x="56.4" y="280.2" width="29.2" height="13.2" rx="2.4" fill="#d4e2de" stroke="#6f8f86" stroke-width="0.6"/>
<text x="71.00" y="289.60" font-size="6.45" stroke="#231f20" stroke-width="0.06" text-anchor="middle">GCLC</text>
<rect x="56.4" y="295.2" width="29.2" height="13.2" rx="2.4" fill="#d6e6f6" stroke="#5d8fc0" stroke-width="0.6"/>
<text x="71.00" y="304.60" font-size="6.45" stroke="#231f20" stroke-width="0.06" text-anchor="middle">GCLM</text>
<rect x="172.8" y="286.4" width="19.9" height="13.1" rx="2.4" fill="#f8d8da" stroke="#c85a68" stroke-width="0.6"/>
<text x="182.75" y="295.70" font-size="6.45" stroke="#231f20" stroke-width="0.06" text-anchor="middle">GSS</text>
<text x="0.00" y="339.40" font-size="11" font-weight="bold" fill="#000" stroke="#000" stroke-width="0.35">d</text>
<rect x="49.50" y="385.50" width="9.00" height="69.00" fill="#d3d3d3" stroke="#3d3d3d" stroke-width="0.75"/>
<rect x="63.50" y="397.50" width="9.00" height="57.00" fill="#f89af8" stroke="#3d3d3d" stroke-width="0.75"/>
<rect x="77.50" y="432.50" width="9.00" height="22.00" fill="#80c97f" stroke="#3d3d3d" stroke-width="0.75"/>
<rect x="91.50" y="417.50" width="9.00" height="37.00" fill="#80c97f" stroke="#3d3d3d" stroke-width="0.75"/>
<rect x="105.50" y="428.50" width="9.00" height="26.00" fill="#80c97f" stroke="#3d3d3d" stroke-width="0.75"/>
<rect x="119.50" y="423.50" width="9.00" height="31.00" fill="#80c97f" stroke="#3d3d3d" stroke-width="0.75"/>
<rect x="133.50" y="412.50" width="9.00" height="42.00" fill="#80c97f" stroke="#3d3d3d" stroke-width="0.75"/>
<rect x="147.50" y="413.50" width="9.00" height="41.00" fill="#80c97f" stroke="#3d3d3d" stroke-width="0.75"/>
<rect x="161.50" y="406.50" width="9.00" height="48.00" fill="#80c97f" stroke="#3d3d3d" stroke-width="0.75"/>
<rect x="175.50" y="415.50" width="9.00" height="39.00" fill="#80c97f" stroke="#3d3d3d" stroke-width="0.75"/>
<line x1="44.50" y1="346.60" x2="44.50" y2="454.20" stroke="#626262" stroke-width="0.8"/>
<line x1="41.00" y1="346.50" x2="44.10" y2="346.50" stroke="#626262" stroke-width="0.7"/>
<text x="37.90" y="348.70" font-size="6.2" stroke="#231f20" stroke-width="0.06" text-anchor="end">1 <tspan font-size="1.2em">×</tspan> 10<tspan font-size="4.46" dy="-2.23">7</tspan></text>
<line x1="41.00" y1="400.50" x2="44.10" y2="400.50" stroke="#626262" stroke-width="0.7"/>
<text x="37.90" y="402.50" font-size="6.2" stroke="#231f20" stroke-width="0.06" text-anchor="end">5 <tspan font-size="1.2em">×</tspan> 10<tspan font-size="4.46" dy="-2.23">6</tspan></text>
<line x1="41.00" y1="454.50" x2="44.10" y2="454.50" stroke="#626262" stroke-width="0.7"/>
<text x="37.90" y="456.30" font-size="6.2" stroke="#231f20" stroke-width="0.06" text-anchor="end">0</text>
<line x1="44.10" y1="454.50" x2="189.80" y2="454.50" stroke="#626262" stroke-width="0.8"/>
<line x1="54.50" y1="454.20" x2="54.50" y2="456.40" stroke="#626262" stroke-width="0.7"/>
<line x1="68.50" y1="454.20" x2="68.50" y2="456.40" stroke="#626262" stroke-width="0.7"/>
<line x1="82.50" y1="454.20" x2="82.50" y2="456.40" stroke="#626262" stroke-width="0.7"/>
<line x1="96.50" y1="454.20" x2="96.50" y2="456.40" stroke="#626262" stroke-width="0.7"/>
<line x1="110.50" y1="454.20" x2="110.50" y2="456.40" stroke="#626262" stroke-width="0.7"/>
<line x1="124.50" y1="454.20" x2="124.50" y2="456.40" stroke="#626262" stroke-width="0.7"/>
<line x1="138.50" y1="454.20" x2="138.50" y2="456.40" stroke="#626262" stroke-width="0.7"/>
<line x1="152.50" y1="454.20" x2="152.50" y2="456.40" stroke="#626262" stroke-width="0.7"/>
<line x1="166.50" y1="454.20" x2="166.50" y2="456.40" stroke="#626262" stroke-width="0.7"/>
<line x1="180.50" y1="454.20" x2="180.50" y2="456.40" stroke="#626262" stroke-width="0.7"/>
<text x="13.40" y="400.40" font-size="6.6" stroke="#231f20" stroke-width="0.06" text-anchor="middle" transform="rotate(-90 13.40 400.40)">Glutamate peak intensity</text>
<line x1="54.10" y1="380.80" x2="54.10" y2="389.60" stroke="#999" stroke-width="0.5"/>
<line x1="51.80" y1="380.80" x2="56.40" y2="380.80" stroke="#999" stroke-width="0.5"/>
<line x1="51.80" y1="389.60" x2="56.40" y2="389.60" stroke="#999" stroke-width="0.5"/>
<circle cx="50.80" cy="381.50" r="1.45" fill="#111"/>
<circle cx="57.40" cy="380.60" r="1.45" fill="#111"/>
<circle cx="50.80" cy="385.20" r="1.45" fill="#111"/>
<circle cx="57.40" cy="387.70" r="1.45" fill="#111"/>
<circle cx="50.80" cy="389.60" r="1.45" fill="#111"/>
<line x1="68.10" y1="389.50" x2="68.10" y2="404.50" stroke="#999" stroke-width="0.5"/>
<line x1="65.80" y1="389.50" x2="70.40" y2="389.50" stroke="#999" stroke-width="0.5"/>
<line x1="65.80" y1="404.50" x2="70.40" y2="404.50" stroke="#999" stroke-width="0.5"/>
<circle cx="68.00" cy="387.70" r="1.45" fill="#111"/>
<circle cx="68.00" cy="390.80" r="1.45" fill="#111"/>
<circle cx="68.00" cy="395.50" r="1.45" fill="#111"/>
<circle cx="64.90" cy="399.80" r="1.45" fill="#111"/>
<circle cx="71.30" cy="401.40" r="1.45" fill="#111"/>
<circle cx="64.90" cy="404.00" r="1.45" fill="#111"/>
<line x1="82.10" y1="414.40" x2="82.10" y2="448.30" stroke="#333" stroke-width="0.5"/>
<line x1="79.80" y1="414.40" x2="84.40" y2="414.40" stroke="#333" stroke-width="0.5"/>
<line x1="79.80" y1="448.30" x2="84.40" y2="448.30" stroke="#333" stroke-width="0.5"/>
<circle cx="82.00" cy="412.20" r="1.45" fill="#10944e"/>
<circle cx="82.00" cy="439.00" r="1.45" fill="#10944e"/>
<circle cx="82.20" cy="443.00" r="1.45" fill="#10944e"/>
<line x1="96.10" y1="412.20" x2="96.10" y2="421.20" stroke="#333" stroke-width="0.5"/>
<line x1="93.80" y1="412.20" x2="98.40" y2="412.20" stroke="#333" stroke-width="0.5"/>
<line x1="93.80" y1="421.20" x2="98.40" y2="421.20" stroke="#333" stroke-width="0.5"/>
<circle cx="96.00" cy="412.20" r="1.45" fill="#10944e"/>
<circle cx="96.00" cy="416.90" r="1.45" fill="#10944e"/>
<circle cx="96.00" cy="421.20" r="1.45" fill="#10944e"/>
<line x1="110.10" y1="423.50" x2="110.10" y2="434.30" stroke="#333" stroke-width="0.5"/>
<line x1="107.80" y1="423.50" x2="112.40" y2="423.50" stroke="#333" stroke-width="0.5"/>
<line x1="107.80" y1="434.30" x2="112.40" y2="434.30" stroke="#333" stroke-width="0.5"/>
<circle cx="106.80" cy="424.40" r="1.45" fill="#10944e"/>
<circle cx="113.40" cy="426.00" r="1.45" fill="#10944e"/>
<circle cx="110.00" cy="434.30" r="1.45" fill="#10944e"/>
<line x1="124.10" y1="416.50" x2="124.10" y2="424.00" stroke="#333" stroke-width="0.5"/>
<line x1="121.80" y1="416.50" x2="126.40" y2="416.50" stroke="#333" stroke-width="0.5"/>
<line x1="121.80" y1="424.00" x2="126.40" y2="424.00" stroke="#333" stroke-width="0.5"/>
<circle cx="123.80" cy="416.50" r="1.45" fill="#10944e"/>
<circle cx="120.90" cy="422.10" r="1.45" fill="#10944e"/>
<circle cx="127.20" cy="421.90" r="1.45" fill="#10944e"/>
<line x1="138.10" y1="404.40" x2="138.10" y2="417.00" stroke="#333" stroke-width="0.5"/>
<line x1="135.80" y1="404.40" x2="140.40" y2="404.40" stroke="#333" stroke-width="0.5"/>
<line x1="135.80" y1="417.00" x2="140.40" y2="417.00" stroke="#333" stroke-width="0.5"/>
<circle cx="137.90" cy="404.40" r="1.45" fill="#10944e"/>
<circle cx="134.60" cy="414.50" r="1.45" fill="#10944e"/>
<circle cx="141.30" cy="414.10" r="1.45" fill="#10944e"/>
<line x1="152.10" y1="412.30" x2="152.10" y2="414.20" stroke="#333" stroke-width="0.5"/>
<line x1="149.80" y1="412.30" x2="154.40" y2="412.30" stroke="#333" stroke-width="0.5"/>
<line x1="149.80" y1="414.20" x2="154.40" y2="414.20" stroke="#333" stroke-width="0.5"/>
<circle cx="148.70" cy="413.20" r="1.45" fill="#10944e"/>
<circle cx="152.20" cy="413.20" r="1.45" fill="#10944e"/>
<circle cx="155.20" cy="413.20" r="1.45" fill="#10944e"/>
<line x1="166.10" y1="401.40" x2="166.10" y2="410.00" stroke="#333" stroke-width="0.5"/>
<line x1="163.80" y1="401.40" x2="168.40" y2="401.40" stroke="#333" stroke-width="0.5"/>
<line x1="163.80" y1="410.00" x2="168.40" y2="410.00" stroke="#333" stroke-width="0.5"/>
<circle cx="166.30" cy="401.40" r="1.45" fill="#10944e"/>
<circle cx="162.80" cy="408.30" r="1.45" fill="#10944e"/>
<circle cx="169.30" cy="408.30" r="1.45" fill="#10944e"/>
<line x1="180.10" y1="413.60" x2="180.10" y2="416.80" stroke="#333" stroke-width="0.5"/>
<line x1="177.80" y1="413.60" x2="182.40" y2="413.60" stroke="#333" stroke-width="0.5"/>
<line x1="177.80" y1="416.80" x2="182.40" y2="416.80" stroke="#333" stroke-width="0.5"/>
<circle cx="179.00" cy="414.50" r="1.45" fill="#10944e"/>
<circle cx="177.10" cy="416.10" r="1.45" fill="#10944e"/>
<circle cx="183.00" cy="415.10" r="1.45" fill="#10944e"/>
<text x="117.00" y="341.20" font-size="6.5" stroke="#231f20" stroke-width="0.06" text-anchor="middle"><tspan font-style="italic">P</tspan> = 3.6 <tspan font-size="1.2em">×</tspan> 10<tspan font-size="4.68" dy="-2.34">−9</tspan></text>
<line x1="51.00" y1="344.50" x2="184.00" y2="344.50" stroke="#3a3a3a" stroke-width="0.8"/>
<text x="83.90" y="384.80" font-size="5.8" stroke="#231f20" stroke-width="0.06" transform="rotate(-90 83.90 384.80)"><tspan font-style="italic">P</tspan> = 3.6 <tspan font-size="1.2em">×</tspan> 10<tspan font-size="4.18" dy="-2.09">−9</tspan></text>
<text x="97.90" y="384.80" font-size="5.8" stroke="#231f20" stroke-width="0.06" transform="rotate(-90 97.90 384.80)"><tspan font-style="italic">P</tspan> = 3.6 <tspan font-size="1.2em">×</tspan> 10<tspan font-size="4.18" dy="-2.09">−8</tspan></text>
<text x="111.90" y="384.80" font-size="5.8" stroke="#231f20" stroke-width="0.06" transform="rotate(-90 111.90 384.80)"><tspan font-style="italic">P</tspan> = 1.5 <tspan font-size="1.2em">×</tspan> 10<tspan font-size="4.18" dy="-2.09">−8</tspan></text>
<text x="125.90" y="384.80" font-size="5.8" stroke="#231f20" stroke-width="0.06" transform="rotate(-90 125.90 384.80)"><tspan font-style="italic">P</tspan> = 6.4 <tspan font-size="1.2em">×</tspan> 10<tspan font-size="4.18" dy="-2.09">−7</tspan></text>
<text x="139.90" y="384.80" font-size="5.8" stroke="#231f20" stroke-width="0.06" transform="rotate(-90 139.90 384.80)"><tspan font-style="italic">P</tspan> = 5.3 <tspan font-size="1.2em">×</tspan> 10<tspan font-size="4.18" dy="-2.09">−5</tspan></text>
<text x="153.90" y="384.80" font-size="5.8" stroke="#231f20" stroke-width="0.06" transform="rotate(-90 153.90 384.80)"><tspan font-style="italic">P</tspan> = 2.3 <tspan font-size="1.2em">×</tspan> 10<tspan font-size="4.18" dy="-2.09">−5</tspan></text>
<text x="167.90" y="384.80" font-size="5.8" stroke="#231f20" stroke-width="0.06" transform="rotate(-90 167.90 384.80)"><tspan font-style="italic">P</tspan> = 0.001</text>
<text x="181.90" y="384.80" font-size="5.8" stroke="#231f20" stroke-width="0.06" transform="rotate(-90 181.90 384.80)"><tspan font-style="italic">P</tspan> = 6.9 <tspan font-size="1.2em">×</tspan> 10<tspan font-size="4.18" dy="-2.09">−6</tspan></text>
<text x="57.10" y="462.20" font-size="6.6" stroke="#231f20" stroke-width="0.06" text-anchor="end" transform="rotate(-45 57.10 462.20)">B16-F0</text>
<text x="71.10" y="462.20" font-size="6.6" stroke="#231f20" stroke-width="0.06" text-anchor="end" transform="rotate(-45 71.10 462.20)">LN1-18IL</text>
<text x="85.10" y="462.20" font-size="6.6" stroke="#231f20" stroke-width="0.06" text-anchor="end" transform="rotate(-45 85.10 462.20)">LN7-1112AR</text>
<text x="99.10" y="462.20" font-size="6.6" stroke="#231f20" stroke-width="0.06" text-anchor="end" transform="rotate(-45 99.10 462.20)">LN7-1120BL</text>
<text x="113.10" y="462.20" font-size="6.6" stroke="#231f20" stroke-width="0.06" text-anchor="end" transform="rotate(-45 113.10 462.20)">LN7-1134BL</text>
<text x="127.10" y="462.20" font-size="6.6" stroke="#231f20" stroke-width="0.06" text-anchor="end" transform="rotate(-45 127.10 462.20)">LN8-1194BR</text>
<text x="141.10" y="462.20" font-size="6.6" stroke="#231f20" stroke-width="0.06" text-anchor="end" transform="rotate(-45 141.10 462.20)">LN8-1198AR</text>
<text x="155.10" y="462.20" font-size="6.6" stroke="#231f20" stroke-width="0.06" text-anchor="end" transform="rotate(-45 155.10 462.20)">LN8-1205BL</text>
<text x="169.10" y="462.20" font-size="6.6" stroke="#231f20" stroke-width="0.06" text-anchor="end" transform="rotate(-45 169.10 462.20)">LN9-1315BL</text>
<text x="183.10" y="462.20" font-size="6.6" stroke="#231f20" stroke-width="0.06" text-anchor="end" transform="rotate(-45 183.10 462.20)">LN9-1358IR</text>
<text x="221.40" y="339.80" font-size="11" font-weight="bold" fill="#000" stroke="#000" stroke-width="0.35">e</text>
<line x1="259.50" y1="345.80" x2="259.50" y2="454.50" stroke="#626262" stroke-width="0.8"/>
<line x1="255.90" y1="345.50" x2="259.00" y2="345.50" stroke="#626262" stroke-width="0.7"/>
<text x="252.80" y="347.90" font-size="6.2" stroke="#231f20" stroke-width="0.06" text-anchor="end">1 <tspan font-size="1.2em">×</tspan> 10<tspan font-size="4.46" dy="-2.23">7</tspan></text>
<line x1="255.90" y1="367.50" x2="259.00" y2="367.50" stroke="#626262" stroke-width="0.7"/>
<text x="252.80" y="369.60" font-size="6.2" stroke="#231f20" stroke-width="0.06" text-anchor="end">8 <tspan font-size="1.2em">×</tspan> 10<tspan font-size="4.46" dy="-2.23">6</tspan></text>
<line x1="255.90" y1="389.50" x2="259.00" y2="389.50" stroke="#626262" stroke-width="0.7"/>
<text x="252.80" y="391.40" font-size="6.2" stroke="#231f20" stroke-width="0.06" text-anchor="end">6 <tspan font-size="1.2em">×</tspan> 10<tspan font-size="4.46" dy="-2.23">6</tspan></text>
<line x1="255.90" y1="411.50" x2="259.00" y2="411.50" stroke="#626262" stroke-width="0.7"/>
<text x="252.80" y="413.10" font-size="6.2" stroke="#231f20" stroke-width="0.06" text-anchor="end">4 <tspan font-size="1.2em">×</tspan> 10<tspan font-size="4.46" dy="-2.23">6</tspan></text>
<line x1="255.90" y1="432.50" x2="259.00" y2="432.50" stroke="#626262" stroke-width="0.7"/>
<text x="252.80" y="434.90" font-size="6.2" stroke="#231f20" stroke-width="0.06" text-anchor="end">2 <tspan font-size="1.2em">×</tspan> 10<tspan font-size="4.46" dy="-2.23">6</tspan></text>
<line x1="255.90" y1="454.50" x2="259.00" y2="454.50" stroke="#626262" stroke-width="0.7"/>
<text x="252.80" y="456.60" font-size="6.2" stroke="#231f20" stroke-width="0.06" text-anchor="end">0</text>
<rect x="267.50" y="385.50" width="13.00" height="69.00" fill="#d3d3d3" stroke="#3d3d3d" stroke-width="0.75"/>
<rect x="289.50" y="418.50" width="13.00" height="36.00" fill="#80c97f" stroke="#3d3d3d" stroke-width="0.75"/>
<line x1="259.00" y1="454.50" x2="310.30" y2="454.50" stroke="#626262" stroke-width="0.8"/>
<line x1="273.50" y1="454.50" x2="273.50" y2="456.70" stroke="#626262" stroke-width="0.7"/>
<line x1="295.50" y1="454.50" x2="295.50" y2="456.70" stroke="#626262" stroke-width="0.7"/>
<text x="227.80" y="399.50" font-size="6.6" stroke="#231f20" stroke-width="0.06" text-anchor="middle" transform="rotate(-90 227.80 399.50)">Glutamate peak intensity</text>
<line x1="273.90" y1="381.00" x2="273.90" y2="389.50" stroke="#999" stroke-width="0.5"/>
<line x1="271.60" y1="381.00" x2="276.20" y2="381.00" stroke="#999" stroke-width="0.5"/>
<line x1="271.60" y1="389.50" x2="276.20" y2="389.50" stroke="#999" stroke-width="0.5"/>
<circle cx="270.30" cy="379.20" r="1.45" fill="#111"/>
<circle cx="277.10" cy="380.80" r="1.45" fill="#111"/>
<circle cx="270.30" cy="384.20" r="1.45" fill="#111"/>
<circle cx="277.10" cy="387.10" r="1.45" fill="#111"/>
<circle cx="270.30" cy="389.10" r="1.45" fill="#111"/>
<circle cx="273.70" cy="381.50" r="1.45" fill="#111"/>
<line x1="295.90" y1="407.00" x2="295.90" y2="429.00" stroke="#333" stroke-width="0.5"/>
<line x1="293.60" y1="407.00" x2="298.20" y2="407.00" stroke="#333" stroke-width="0.5"/>
<line x1="293.60" y1="429.00" x2="298.20" y2="429.00" stroke="#333" stroke-width="0.5"/>
<circle cx="295.90" cy="401.10" r="1.60" fill="#10944e"/>
<circle cx="297.58" cy="404.00" r="1.60" fill="#10944e"/>
<circle cx="295.90" cy="407.90" r="1.60" fill="#10944e"/>
<circle cx="299.26" cy="410.10" r="1.60" fill="#10944e"/>
<circle cx="295.90" cy="411.30" r="1.60" fill="#10944e"/>
<circle cx="292.54" cy="412.40" r="1.60" fill="#10944e"/>
<circle cx="299.26" cy="413.10" r="1.60" fill="#10944e"/>
<circle cx="302.62" cy="413.50" r="1.60" fill="#10944e"/>
<circle cx="289.18" cy="414.00" r="1.60" fill="#10944e"/>
<circle cx="295.90" cy="414.70" r="1.60" fill="#10944e"/>
<circle cx="295.90" cy="415.30" r="1.60" fill="#10944e"/>
<circle cx="292.54" cy="415.80" r="1.60" fill="#10944e"/>
<circle cx="299.26" cy="416.90" r="1.60" fill="#10944e"/>
<circle cx="302.62" cy="417.60" r="1.60" fill="#10944e"/>
<circle cx="289.18" cy="418.00" r="1.60" fill="#10944e"/>
<circle cx="295.90" cy="419.20" r="1.60" fill="#10944e"/>
<circle cx="299.26" cy="420.30" r="1.60" fill="#10944e"/>
<circle cx="295.90" cy="422.60" r="1.60" fill="#10944e"/>
<circle cx="299.26" cy="424.80" r="1.60" fill="#10944e"/>
<circle cx="295.90" cy="433.80" r="1.60" fill="#10944e"/>
<circle cx="295.90" cy="438.40" r="1.60" fill="#10944e"/>
<circle cx="295.90" cy="442.40" r="1.60" fill="#10944e"/>
<text x="284.40" y="340.80" font-size="6.5" stroke="#231f20" stroke-width="0.06" text-anchor="middle"><tspan font-style="italic">P</tspan> = 5 <tspan font-size="1.2em">×</tspan> 10<tspan font-size="4.68" dy="-2.34">−10</tspan></text>
<line x1="273.50" y1="344.50" x2="295.20" y2="344.50" stroke="#aaa" stroke-width="0.8"/>
<text x="276.90" y="462.50" font-size="6.6" stroke="#231f20" stroke-width="0.06" text-anchor="end" transform="rotate(-45 276.90 462.50)">Parental</text>
<text x="298.90" y="462.50" font-size="6.6" stroke="#231f20" stroke-width="0.06" text-anchor="end" transform="rotate(-45 298.90 462.50)">LN</text>
<text x="347.00" y="339.40" font-size="11" font-weight="bold" fill="#000" stroke="#000" stroke-width="0.35">f</text>
<rect x="391.50" y="371.50" width="8.00" height="83.00" fill="#d3d3d3" stroke="#3d3d3d" stroke-width="0.75"/>
<rect x="405.50" y="389.50" width="8.00" height="65.00" fill="#f89af8" stroke="#3d3d3d" stroke-width="0.75"/>
<rect x="419.50" y="441.50" width="8.00" height="13.00" fill="#80c97f" stroke="#3d3d3d" stroke-width="0.75"/>
<rect x="433.50" y="426.50" width="8.00" height="28.00" fill="#80c97f" stroke="#3d3d3d" stroke-width="0.75"/>
<rect x="446.50" y="428.50" width="9.00" height="26.00" fill="#80c97f" stroke="#3d3d3d" stroke-width="0.75"/>
<rect x="460.50" y="431.50" width="9.00" height="23.00" fill="#80c97f" stroke="#3d3d3d" stroke-width="0.75"/>
<rect x="474.50" y="419.50" width="9.00" height="35.00" fill="#80c97f" stroke="#3d3d3d" stroke-width="0.75"/>
<rect x="488.50" y="426.50" width="8.00" height="28.00" fill="#80c97f" stroke="#3d3d3d" stroke-width="0.75"/>
<rect x="502.50" y="410.50" width="8.00" height="44.00" fill="#80c97f" stroke="#3d3d3d" stroke-width="0.75"/>
<rect x="516.50" y="418.50" width="8.00" height="36.00" fill="#80c97f" stroke="#3d3d3d" stroke-width="0.75"/>
<line x1="386.50" y1="346.00" x2="386.50" y2="454.40" stroke="#626262" stroke-width="0.8"/>
<line x1="383.40" y1="346.50" x2="386.50" y2="346.50" stroke="#626262" stroke-width="0.7"/>
<text x="380.30" y="348.10" font-size="6.2" stroke="#231f20" stroke-width="0.06" text-anchor="end">6 <tspan font-size="1.2em">×</tspan> 10<tspan font-size="4.46" dy="-2.23">5</tspan></text>
<line x1="383.40" y1="382.50" x2="386.50" y2="382.50" stroke="#626262" stroke-width="0.7"/>
<text x="380.30" y="384.30" font-size="6.2" stroke="#231f20" stroke-width="0.06" text-anchor="end">4 <tspan font-size="1.2em">×</tspan> 10<tspan font-size="4.46" dy="-2.23">5</tspan></text>
<line x1="383.40" y1="418.50" x2="386.50" y2="418.50" stroke="#626262" stroke-width="0.7"/>
<text x="380.30" y="420.50" font-size="6.2" stroke="#231f20" stroke-width="0.06" text-anchor="end">2 <tspan font-size="1.2em">×</tspan> 10<tspan font-size="4.46" dy="-2.23">5</tspan></text>
<line x1="383.40" y1="454.50" x2="386.50" y2="454.50" stroke="#626262" stroke-width="0.7"/>
<text x="380.30" y="456.50" font-size="6.2" stroke="#231f20" stroke-width="0.06" text-anchor="end">0</text>
<line x1="386.50" y1="454.50" x2="526.30" y2="454.50" stroke="#626262" stroke-width="0.8"/>
<line x1="395.50" y1="454.40" x2="395.50" y2="456.60" stroke="#626262" stroke-width="0.7"/>
<line x1="409.50" y1="454.40" x2="409.50" y2="456.60" stroke="#626262" stroke-width="0.7"/>
<line x1="423.50" y1="454.40" x2="423.50" y2="456.60" stroke="#626262" stroke-width="0.7"/>
<line x1="437.50" y1="454.40" x2="437.50" y2="456.60" stroke="#626262" stroke-width="0.7"/>
<line x1="451.50" y1="454.40" x2="451.50" y2="456.60" stroke="#626262" stroke-width="0.7"/>
<line x1="464.50" y1="454.40" x2="464.50" y2="456.60" stroke="#626262" stroke-width="0.7"/>
<line x1="478.50" y1="454.40" x2="478.50" y2="456.60" stroke="#626262" stroke-width="0.7"/>
<line x1="492.50" y1="454.40" x2="492.50" y2="456.60" stroke="#626262" stroke-width="0.7"/>
<line x1="506.50" y1="454.40" x2="506.50" y2="456.60" stroke="#626262" stroke-width="0.7"/>
<line x1="520.50" y1="454.40" x2="520.50" y2="456.60" stroke="#626262" stroke-width="0.7"/>
<text x="353.50" y="400.00" font-size="6.6" stroke="#231f20" stroke-width="0.06" text-anchor="middle" transform="rotate(-90 353.50 400.00)">GSH peak intensity</text>
<line x1="395.60" y1="360.50" x2="395.60" y2="382.00" stroke="#aaa" stroke-width="0.5"/>
<line x1="393.30" y1="360.50" x2="397.90" y2="360.50" stroke="#aaa" stroke-width="0.5"/>
<line x1="393.30" y1="382.00" x2="397.90" y2="382.00" stroke="#aaa" stroke-width="0.5"/>
<circle cx="394.90" cy="358.90" r="1.45" fill="#111"/>
<circle cx="395.30" cy="363.90" r="1.45" fill="#111"/>
<circle cx="392.00" cy="370.50" r="1.45" fill="#111"/>
<circle cx="398.60" cy="372.30" r="1.45" fill="#111"/>
<circle cx="395.30" cy="386.90" r="1.45" fill="#111"/>
<line x1="409.47" y1="371.60" x2="409.47" y2="402.30" stroke="#aaa" stroke-width="0.5"/>
<line x1="407.17" y1="371.60" x2="411.77" y2="371.60" stroke="#aaa" stroke-width="0.5"/>
<line x1="407.17" y1="402.30" x2="411.77" y2="402.30" stroke="#aaa" stroke-width="0.5"/>
<circle cx="409.10" cy="359.10" r="1.45" fill="#111"/>
<circle cx="409.10" cy="382.60" r="1.45" fill="#111"/>
<circle cx="409.60" cy="386.50" r="1.45" fill="#111"/>
<circle cx="406.30" cy="392.00" r="1.45" fill="#111"/>
<circle cx="412.80" cy="396.80" r="1.45" fill="#111"/>
<circle cx="409.10" cy="407.70" r="1.45" fill="#111"/>
<line x1="423.34" y1="420.30" x2="423.34" y2="454.00" stroke="#333" stroke-width="0.5"/>
<line x1="421.04" y1="420.30" x2="425.64" y2="420.30" stroke="#333" stroke-width="0.5"/>
<line x1="421.04" y1="454.00" x2="425.64" y2="454.00" stroke="#333" stroke-width="0.5"/>
<circle cx="423.40" cy="417.10" r="1.45" fill="#10944e"/>
<circle cx="420.50" cy="453.70" r="1.45" fill="#10944e"/>
<circle cx="426.40" cy="451.50" r="1.45" fill="#10944e"/>
<line x1="437.21" y1="414.30" x2="437.21" y2="436.90" stroke="#333" stroke-width="0.5"/>
<line x1="434.91" y1="414.30" x2="439.51" y2="414.30" stroke="#333" stroke-width="0.5"/>
<line x1="434.91" y1="436.90" x2="439.51" y2="436.90" stroke="#333" stroke-width="0.5"/>
<circle cx="437.40" cy="414.30" r="1.45" fill="#10944e"/>
<circle cx="437.40" cy="427.40" r="1.45" fill="#10944e"/>
<circle cx="437.40" cy="436.90" r="1.45" fill="#10944e"/>
<line x1="451.08" y1="412.80" x2="451.08" y2="441.00" stroke="#333" stroke-width="0.5"/>
<line x1="448.78" y1="412.80" x2="453.38" y2="412.80" stroke="#333" stroke-width="0.5"/>
<line x1="448.78" y1="441.00" x2="453.38" y2="441.00" stroke="#333" stroke-width="0.5"/>
<circle cx="451.20" cy="412.80" r="1.45" fill="#10944e"/>
<circle cx="451.20" cy="431.20" r="1.45" fill="#10944e"/>
<circle cx="451.20" cy="438.80" r="1.45" fill="#10944e"/>
<line x1="464.95" y1="430.00" x2="464.95" y2="432.50" stroke="#333" stroke-width="0.5"/>
<line x1="462.65" y1="430.00" x2="467.25" y2="430.00" stroke="#333" stroke-width="0.5"/>
<line x1="462.65" y1="432.50" x2="467.25" y2="432.50" stroke="#333" stroke-width="0.5"/>
<circle cx="461.50" cy="431.80" r="1.45" fill="#10944e"/>
<circle cx="465.00" cy="430.70" r="1.45" fill="#10944e"/>
<circle cx="468.70" cy="431.20" r="1.45" fill="#10944e"/>
<line x1="478.82" y1="413.20" x2="478.82" y2="424.00" stroke="#333" stroke-width="0.5"/>
<line x1="476.52" y1="413.20" x2="481.12" y2="413.20" stroke="#333" stroke-width="0.5"/>
<line x1="476.52" y1="424.00" x2="481.12" y2="424.00" stroke="#333" stroke-width="0.5"/>
<circle cx="478.50" cy="413.20" r="1.45" fill="#10944e"/>
<circle cx="475.90" cy="421.50" r="1.45" fill="#10944e"/>
<circle cx="481.80" cy="420.90" r="1.45" fill="#10944e"/>
<line x1="492.69" y1="424.80" x2="492.69" y2="427.00" stroke="#333" stroke-width="0.5"/>
<line x1="490.39" y1="424.80" x2="494.99" y2="424.80" stroke="#333" stroke-width="0.5"/>
<line x1="490.39" y1="427.00" x2="494.99" y2="427.00" stroke="#333" stroke-width="0.5"/>
<circle cx="489.50" cy="425.90" r="1.45" fill="#10944e"/>
<circle cx="492.80" cy="425.20" r="1.45" fill="#10944e"/>
<circle cx="496.00" cy="426.30" r="1.45" fill="#10944e"/>
<line x1="506.56" y1="403.40" x2="506.56" y2="414.00" stroke="#333" stroke-width="0.5"/>
<line x1="504.26" y1="403.40" x2="508.86" y2="403.40" stroke="#333" stroke-width="0.5"/>
<line x1="504.26" y1="414.00" x2="508.86" y2="414.00" stroke="#333" stroke-width="0.5"/>
<circle cx="506.60" cy="403.40" r="1.45" fill="#10944e"/>
<circle cx="504.80" cy="412.10" r="1.45" fill="#10944e"/>
<circle cx="508.10" cy="412.80" r="1.45" fill="#10944e"/>
<line x1="520.43" y1="414.00" x2="520.43" y2="420.00" stroke="#333" stroke-width="0.5"/>
<line x1="518.13" y1="414.00" x2="522.73" y2="414.00" stroke="#333" stroke-width="0.5"/>
<line x1="518.13" y1="420.00" x2="522.73" y2="420.00" stroke="#333" stroke-width="0.5"/>
<circle cx="516.90" cy="415.80" r="1.45" fill="#10944e"/>
<circle cx="520.10" cy="417.60" r="1.45" fill="#10944e"/>
<circle cx="523.40" cy="416.50" r="1.45" fill="#10944e"/>
<text x="457.70" y="341.20" font-size="6.5" stroke="#231f20" stroke-width="0.06" text-anchor="middle"><tspan font-style="italic">P</tspan> = 7.6 <tspan font-size="1.2em">×</tspan> 10<tspan font-size="4.68" dy="-2.34">−8</tspan></text>
<line x1="391.00" y1="344.50" x2="523.40" y2="344.50" stroke="#3a3a3a" stroke-width="0.8"/>
<text x="425.14" y="384.70" font-size="5.8" stroke="#231f20" stroke-width="0.06" transform="rotate(-90 425.14 384.70)"><tspan font-style="italic">P</tspan> = 1.2 <tspan font-size="1.2em">×</tspan> 10<tspan font-size="4.18" dy="-2.09">−7</tspan></text>
<text x="439.01" y="384.70" font-size="5.8" stroke="#231f20" stroke-width="0.06" transform="rotate(-90 439.01 384.70)"><tspan font-style="italic">P</tspan> = 6.9 <tspan font-size="1.2em">×</tspan> 10<tspan font-size="4.18" dy="-2.09">−8</tspan></text>
<text x="452.88" y="384.70" font-size="5.8" stroke="#231f20" stroke-width="0.06" transform="rotate(-90 452.88 384.70)"><tspan font-style="italic">P</tspan> = 4.6 <tspan font-size="1.2em">×</tspan> 10<tspan font-size="4.18" dy="-2.09">−8</tspan></text>
<text x="466.75" y="384.70" font-size="5.8" stroke="#231f20" stroke-width="0.06" transform="rotate(-90 466.75 384.70)"><tspan font-style="italic">P</tspan> = 1.6 <tspan font-size="1.2em">×</tspan> 10<tspan font-size="4.18" dy="-2.09">−5</tspan></text>
<text x="480.62" y="384.70" font-size="5.8" stroke="#231f20" stroke-width="0.06" transform="rotate(-90 480.62 384.70)"><tspan font-style="italic">P</tspan> = 5.8 <tspan font-size="1.2em">×</tspan> 10<tspan font-size="4.18" dy="-2.09">−5</tspan></text>
<text x="494.49" y="384.70" font-size="5.8" stroke="#231f20" stroke-width="0.06" transform="rotate(-90 494.49 384.70)"><tspan font-style="italic">P</tspan> = 6.4 <tspan font-size="1.2em">×</tspan> 10<tspan font-size="4.18" dy="-2.09">−5</tspan></text>
<text x="508.36" y="384.70" font-size="5.8" stroke="#231f20" stroke-width="0.06" transform="rotate(-90 508.36 384.70)"><tspan font-style="italic">P</tspan> = 0.0009</text>
<text x="522.23" y="384.70" font-size="5.8" stroke="#231f20" stroke-width="0.06" transform="rotate(-90 522.23 384.70)"><tspan font-style="italic">P</tspan> = 8.8 <tspan font-size="1.2em">×</tspan> 10<tspan font-size="4.18" dy="-2.09">−5</tspan></text>
<text x="398.60" y="462.40" font-size="6.6" stroke="#231f20" stroke-width="0.06" text-anchor="end" transform="rotate(-45 398.60 462.40)">B16-F0</text>
<text x="412.47" y="462.40" font-size="6.6" stroke="#231f20" stroke-width="0.06" text-anchor="end" transform="rotate(-45 412.47 462.40)">LN1-18IL</text>
<text x="426.34" y="462.40" font-size="6.6" stroke="#231f20" stroke-width="0.06" text-anchor="end" transform="rotate(-45 426.34 462.40)">LN7-1112AR</text>
<text x="440.21" y="462.40" font-size="6.6" stroke="#231f20" stroke-width="0.06" text-anchor="end" transform="rotate(-45 440.21 462.40)">LN7-1120BL</text>
<text x="454.08" y="462.40" font-size="6.6" stroke="#231f20" stroke-width="0.06" text-anchor="end" transform="rotate(-45 454.08 462.40)">LN7-1134BL</text>
<text x="467.95" y="462.40" font-size="6.6" stroke="#231f20" stroke-width="0.06" text-anchor="end" transform="rotate(-45 467.95 462.40)">LN8-1194BR</text>
<text x="481.82" y="462.40" font-size="6.6" stroke="#231f20" stroke-width="0.06" text-anchor="end" transform="rotate(-45 481.82 462.40)">LN8-1198AR</text>
<text x="495.69" y="462.40" font-size="6.6" stroke="#231f20" stroke-width="0.06" text-anchor="end" transform="rotate(-45 495.69 462.40)">LN8-1205BL</text>
<text x="509.56" y="462.40" font-size="6.6" stroke="#231f20" stroke-width="0.06" text-anchor="end" transform="rotate(-45 509.56 462.40)">LN9-1315BL</text>
<text x="523.43" y="462.40" font-size="6.6" stroke="#231f20" stroke-width="0.06" text-anchor="end" transform="rotate(-45 523.43 462.40)">LN9-1358IR</text>
<text x="561.00" y="340.00" font-size="11" font-weight="bold" fill="#000" stroke="#000" stroke-width="0.35">g</text>
<line x1="600.50" y1="346.60" x2="600.50" y2="454.50" stroke="#626262" stroke-width="0.8"/>
<line x1="597.10" y1="346.50" x2="600.20" y2="346.50" stroke="#626262" stroke-width="0.7"/>
<text x="594.00" y="348.70" font-size="6.2" stroke="#231f20" stroke-width="0.06" text-anchor="end">8 <tspan font-size="1.2em">×</tspan> 10<tspan font-size="4.46" dy="-2.23">5</tspan></text>
<line x1="597.10" y1="373.50" x2="600.20" y2="373.50" stroke="#626262" stroke-width="0.7"/>
<text x="594.00" y="375.70" font-size="6.2" stroke="#231f20" stroke-width="0.06" text-anchor="end">6 <tspan font-size="1.2em">×</tspan> 10<tspan font-size="4.46" dy="-2.23">5</tspan></text>
<line x1="597.10" y1="400.50" x2="600.20" y2="400.50" stroke="#626262" stroke-width="0.7"/>
<text x="594.00" y="402.60" font-size="6.2" stroke="#231f20" stroke-width="0.06" text-anchor="end">4 <tspan font-size="1.2em">×</tspan> 10<tspan font-size="4.46" dy="-2.23">5</tspan></text>
<line x1="597.10" y1="427.50" x2="600.20" y2="427.50" stroke="#626262" stroke-width="0.7"/>
<text x="594.00" y="429.60" font-size="6.2" stroke="#231f20" stroke-width="0.06" text-anchor="end">2 <tspan font-size="1.2em">×</tspan> 10<tspan font-size="4.46" dy="-2.23">5</tspan></text>
<line x1="597.10" y1="454.50" x2="600.20" y2="454.50" stroke="#626262" stroke-width="0.7"/>
<text x="594.00" y="456.60" font-size="6.2" stroke="#231f20" stroke-width="0.06" text-anchor="end">0</text>
<rect x="609.50" y="392.50" width="14.00" height="62.00" fill="#d3d3d3" stroke="#3d3d3d" stroke-width="0.75"/>
<rect x="632.50" y="432.50" width="14.00" height="22.00" fill="#80c97f" stroke="#3d3d3d" stroke-width="0.75"/>
<line x1="600.20" y1="454.50" x2="656.00" y2="454.50" stroke="#626262" stroke-width="0.8"/>
<line x1="616.50" y1="454.50" x2="616.50" y2="456.70" stroke="#626262" stroke-width="0.7"/>
<line x1="639.50" y1="454.50" x2="639.50" y2="456.70" stroke="#626262" stroke-width="0.7"/>
<text x="567.50" y="400.00" font-size="6.6" stroke="#231f20" stroke-width="0.06" text-anchor="middle" transform="rotate(-90 567.50 400.00)">GSH peak intensity</text>
<line x1="616.50" y1="383.50" x2="616.50" y2="399.10" stroke="#aaa" stroke-width="0.5"/>
<line x1="614.20" y1="383.50" x2="618.80" y2="383.50" stroke="#aaa" stroke-width="0.5"/>
<line x1="614.20" y1="399.10" x2="618.80" y2="399.10" stroke="#aaa" stroke-width="0.5"/>
<circle cx="616.30" cy="383.10" r="1.45" fill="#111"/>
<circle cx="616.30" cy="386.90" r="1.45" fill="#111"/>
<circle cx="613.10" cy="391.30" r="1.45" fill="#111"/>
<circle cx="619.20" cy="393.00" r="1.45" fill="#111"/>
<circle cx="616.30" cy="403.90" r="1.45" fill="#111"/>
<line x1="639.50" y1="422.00" x2="639.50" y2="441.10" stroke="#333" stroke-width="0.5"/>
<line x1="637.20" y1="422.00" x2="641.80" y2="422.00" stroke="#333" stroke-width="0.5"/>
<line x1="637.20" y1="441.10" x2="641.80" y2="441.10" stroke="#333" stroke-width="0.5"/>
<circle cx="639.50" cy="416.00" r="1.60" fill="#10944e"/>
<circle cx="639.50" cy="421.30" r="1.60" fill="#10944e"/>
<circle cx="642.86" cy="422.10" r="1.60" fill="#10944e"/>
<circle cx="636.14" cy="423.50" r="1.60" fill="#10944e"/>
<circle cx="639.50" cy="424.50" r="1.60" fill="#10944e"/>
<circle cx="644.54" cy="424.80" r="1.60" fill="#10944e"/>
<circle cx="632.78" cy="425.50" r="1.60" fill="#10944e"/>
<circle cx="639.50" cy="426.40" r="1.60" fill="#10944e"/>
<circle cx="639.50" cy="426.40" r="1.60" fill="#10944e"/>
<circle cx="641.18" cy="428.90" r="1.60" fill="#10944e"/>
<circle cx="637.82" cy="429.00" r="1.60" fill="#10944e"/>
<circle cx="644.54" cy="430.00" r="1.60" fill="#10944e"/>
<circle cx="634.46" cy="431.00" r="1.60" fill="#10944e"/>
<circle cx="639.50" cy="433.40" r="1.60" fill="#10944e"/>
<circle cx="639.50" cy="436.40" r="1.60" fill="#10944e"/>
<circle cx="642.86" cy="436.40" r="1.60" fill="#10944e"/>
<circle cx="636.14" cy="436.40" r="1.60" fill="#10944e"/>
<circle cx="646.22" cy="437.00" r="1.60" fill="#10944e"/>
<circle cx="639.50" cy="440.40" r="1.60" fill="#10944e"/>
<circle cx="642.86" cy="440.40" r="1.60" fill="#10944e"/>
<circle cx="639.50" cy="443.50" r="1.60" fill="#10944e"/>
<circle cx="639.50" cy="451.80" r="1.60" fill="#10944e"/>
<circle cx="642.86" cy="452.60" r="1.60" fill="#10944e"/>
<text x="627.80" y="340.60" font-size="6.5" stroke="#231f20" stroke-width="0.06" text-anchor="middle"><tspan font-style="italic">P</tspan> = 2.9 <tspan font-size="1.2em">×</tspan> 10<tspan font-size="4.68" dy="-2.34">−5</tspan></text>
<line x1="615.90" y1="343.50" x2="639.70" y2="343.50" stroke="#aaa" stroke-width="0.8"/>
<text x="619.50" y="462.50" font-size="6.6" stroke="#231f20" stroke-width="0.06" text-anchor="end" transform="rotate(-45 619.50 462.50)">Parental</text>
<text x="642.50" y="462.50" font-size="6.6" stroke="#231f20" stroke-width="0.06" text-anchor="end" transform="rotate(-45 642.50 462.50)">LN</text>
<text x="0.00" y="509.00" font-size="11" font-weight="bold" fill="#000" stroke="#000" stroke-width="0.35">h</text>
<rect x="49.50" y="538.50" width="9.00" height="88.00" fill="#d3d3d3" stroke="#3d3d3d" stroke-width="0.75"/>
<rect x="63.50" y="562.50" width="9.00" height="64.00" fill="#f89af8" stroke="#3d3d3d" stroke-width="0.75"/>
<rect x="77.50" y="596.50" width="9.00" height="30.00" fill="#80c97f" stroke="#3d3d3d" stroke-width="0.75"/>
<rect x="91.50" y="576.50" width="9.00" height="50.00" fill="#80c97f" stroke="#3d3d3d" stroke-width="0.75"/>
<rect x="105.50" y="586.50" width="9.00" height="40.00" fill="#80c97f" stroke="#3d3d3d" stroke-width="0.75"/>
<rect x="119.50" y="585.50" width="9.00" height="41.00" fill="#80c97f" stroke="#3d3d3d" stroke-width="0.75"/>
<rect x="133.50" y="566.50" width="9.00" height="60.00" fill="#80c97f" stroke="#3d3d3d" stroke-width="0.75"/>
<rect x="147.50" y="574.50" width="9.00" height="52.00" fill="#80c97f" stroke="#3d3d3d" stroke-width="0.75"/>
<rect x="161.50" y="577.50" width="9.00" height="49.00" fill="#80c97f" stroke="#3d3d3d" stroke-width="0.75"/>
<rect x="175.50" y="574.50" width="9.00" height="52.00" fill="#80c97f" stroke="#3d3d3d" stroke-width="0.75"/>
<line x1="44.50" y1="517.00" x2="44.50" y2="626.30" stroke="#626262" stroke-width="0.8"/>
<line x1="40.90" y1="517.50" x2="44.00" y2="517.50" stroke="#626262" stroke-width="0.7"/>
<text x="37.80" y="519.10" font-size="6.2" stroke="#231f20" stroke-width="0.06" text-anchor="end">3 <tspan font-size="1.2em">×</tspan> 10<tspan font-size="4.46" dy="-2.23">4</tspan></text>
<line x1="40.90" y1="553.50" x2="44.00" y2="553.50" stroke="#626262" stroke-width="0.7"/>
<text x="37.80" y="555.50" font-size="6.2" stroke="#231f20" stroke-width="0.06" text-anchor="end">2 <tspan font-size="1.2em">×</tspan> 10<tspan font-size="4.46" dy="-2.23">4</tspan></text>
<line x1="40.90" y1="589.50" x2="44.00" y2="589.50" stroke="#626262" stroke-width="0.7"/>
<text x="37.80" y="592.00" font-size="6.2" stroke="#231f20" stroke-width="0.06" text-anchor="end">1 <tspan font-size="1.2em">×</tspan> 10<tspan font-size="4.46" dy="-2.23">4</tspan></text>
<line x1="40.90" y1="626.50" x2="44.00" y2="626.50" stroke="#626262" stroke-width="0.7"/>
<text x="37.80" y="628.40" font-size="6.2" stroke="#231f20" stroke-width="0.06" text-anchor="end">0</text>
<line x1="44.00" y1="626.50" x2="187.60" y2="626.50" stroke="#626262" stroke-width="0.8"/>
<line x1="53.50" y1="626.30" x2="53.50" y2="628.50" stroke="#626262" stroke-width="0.7"/>
<line x1="67.50" y1="626.30" x2="67.50" y2="628.50" stroke="#626262" stroke-width="0.7"/>
<line x1="81.50" y1="626.30" x2="81.50" y2="628.50" stroke="#626262" stroke-width="0.7"/>
<line x1="95.50" y1="626.30" x2="95.50" y2="628.50" stroke="#626262" stroke-width="0.7"/>
<line x1="109.50" y1="626.30" x2="109.50" y2="628.50" stroke="#626262" stroke-width="0.7"/>
<line x1="123.50" y1="626.30" x2="123.50" y2="628.50" stroke="#626262" stroke-width="0.7"/>
<line x1="137.50" y1="626.30" x2="137.50" y2="628.50" stroke="#626262" stroke-width="0.7"/>
<line x1="151.50" y1="626.30" x2="151.50" y2="628.50" stroke="#626262" stroke-width="0.7"/>
<line x1="165.50" y1="626.30" x2="165.50" y2="628.50" stroke="#626262" stroke-width="0.7"/>
<line x1="179.50" y1="626.30" x2="179.50" y2="628.50" stroke="#626262" stroke-width="0.7"/>
<text x="13.00" y="572.00" font-size="6.6" stroke="#231f20" stroke-width="0.06" text-anchor="middle" transform="rotate(-90 13.00 572.00)">GSSG peak intensity</text>
<line x1="53.70" y1="530.00" x2="53.70" y2="546.00" stroke="#999" stroke-width="0.5"/>
<line x1="51.40" y1="530.00" x2="56.00" y2="530.00" stroke="#999" stroke-width="0.5"/>
<line x1="51.40" y1="546.00" x2="56.00" y2="546.00" stroke="#999" stroke-width="0.5"/>
<circle cx="53.60" cy="527.60" r="1.45" fill="#111"/>
<circle cx="53.60" cy="532.00" r="1.45" fill="#111"/>
<circle cx="53.60" cy="536.40" r="1.45" fill="#111"/>
<circle cx="50.40" cy="547.00" r="1.45" fill="#111"/>
<circle cx="57.40" cy="546.60" r="1.45" fill="#111"/>
<line x1="67.70" y1="556.00" x2="67.70" y2="567.00" stroke="#999" stroke-width="0.5"/>
<line x1="65.40" y1="556.00" x2="70.00" y2="556.00" stroke="#999" stroke-width="0.5"/>
<line x1="65.40" y1="567.00" x2="70.00" y2="567.00" stroke="#999" stroke-width="0.5"/>
<circle cx="64.40" cy="558.00" r="1.45" fill="#111"/>
<circle cx="70.40" cy="556.00" r="1.45" fill="#111"/>
<circle cx="64.40" cy="562.40" r="1.45" fill="#111"/>
<circle cx="71.00" cy="562.00" r="1.45" fill="#111"/>
<circle cx="64.40" cy="567.00" r="1.45" fill="#111"/>
<circle cx="70.40" cy="565.60" r="1.45" fill="#111"/>
<line x1="81.70" y1="573.00" x2="81.70" y2="618.00" stroke="#333" stroke-width="0.5"/>
<line x1="79.40" y1="573.00" x2="84.00" y2="573.00" stroke="#333" stroke-width="0.5"/>
<line x1="79.40" y1="618.00" x2="84.00" y2="618.00" stroke="#333" stroke-width="0.5"/>
<circle cx="81.40" cy="569.60" r="1.45" fill="#10944e"/>
<circle cx="81.40" cy="607.00" r="1.45" fill="#10944e"/>
<circle cx="81.40" cy="610.40" r="1.45" fill="#10944e"/>
<line x1="95.70" y1="573.00" x2="95.70" y2="579.00" stroke="#333" stroke-width="0.5"/>
<line x1="93.40" y1="573.00" x2="98.00" y2="573.00" stroke="#333" stroke-width="0.5"/>
<line x1="93.40" y1="579.00" x2="98.00" y2="579.00" stroke="#333" stroke-width="0.5"/>
<circle cx="92.00" cy="573.00" r="1.45" fill="#10944e"/>
<circle cx="95.60" cy="577.00" r="1.45" fill="#10944e"/>
<circle cx="98.40" cy="575.60" r="1.45" fill="#10944e"/>
<line x1="109.70" y1="575.60" x2="109.70" y2="595.00" stroke="#333" stroke-width="0.5"/>
<line x1="107.40" y1="575.60" x2="112.00" y2="575.60" stroke="#333" stroke-width="0.5"/>
<line x1="107.40" y1="595.00" x2="112.00" y2="595.00" stroke="#333" stroke-width="0.5"/>
<circle cx="109.00" cy="575.60" r="1.45" fill="#10944e"/>
<circle cx="109.00" cy="587.00" r="1.45" fill="#10944e"/>
<circle cx="109.00" cy="595.00" r="1.45" fill="#10944e"/>
<line x1="123.70" y1="581.60" x2="123.70" y2="588.40" stroke="#333" stroke-width="0.5"/>
<line x1="121.40" y1="581.60" x2="126.00" y2="581.60" stroke="#333" stroke-width="0.5"/>
<line x1="121.40" y1="588.40" x2="126.00" y2="588.40" stroke="#333" stroke-width="0.5"/>
<circle cx="120.00" cy="581.60" r="1.45" fill="#10944e"/>
<circle cx="123.00" cy="588.40" r="1.45" fill="#10944e"/>
<circle cx="126.40" cy="583.60" r="1.45" fill="#10944e"/>
<line x1="137.70" y1="562.80" x2="137.70" y2="570.20" stroke="#333" stroke-width="0.5"/>
<line x1="135.40" y1="562.80" x2="140.00" y2="562.80" stroke="#333" stroke-width="0.5"/>
<line x1="135.40" y1="570.20" x2="140.00" y2="570.20" stroke="#333" stroke-width="0.5"/>
<circle cx="133.70" cy="562.80" r="1.45" fill="#10944e"/>
<circle cx="140.40" cy="565.00" r="1.45" fill="#10944e"/>
<circle cx="137.20" cy="570.20" r="1.45" fill="#10944e"/>
<line x1="151.70" y1="569.50" x2="151.70" y2="578.00" stroke="#333" stroke-width="0.5"/>
<line x1="149.40" y1="569.50" x2="154.00" y2="569.50" stroke="#333" stroke-width="0.5"/>
<line x1="149.40" y1="578.00" x2="154.00" y2="578.00" stroke="#333" stroke-width="0.5"/>
<circle cx="151.10" cy="569.50" r="1.45" fill="#10944e"/>
<circle cx="151.10" cy="575.70" r="1.45" fill="#10944e"/>
<circle cx="151.10" cy="577.00" r="1.45" fill="#10944e"/>
<line x1="165.70" y1="574.40" x2="165.70" y2="578.00" stroke="#333" stroke-width="0.5"/>
<line x1="163.40" y1="574.40" x2="168.00" y2="574.40" stroke="#333" stroke-width="0.5"/>
<line x1="163.40" y1="578.00" x2="168.00" y2="578.00" stroke="#333" stroke-width="0.5"/>
<circle cx="161.50" cy="574.40" r="1.45" fill="#10944e"/>
<circle cx="165.20" cy="577.40" r="1.45" fill="#10944e"/>
<circle cx="168.50" cy="577.00" r="1.45" fill="#10944e"/>
<line x1="179.70" y1="573.50" x2="179.70" y2="576.00" stroke="#333" stroke-width="0.5"/>
<line x1="177.40" y1="573.50" x2="182.00" y2="573.50" stroke="#333" stroke-width="0.5"/>
<line x1="177.40" y1="576.00" x2="182.00" y2="576.00" stroke="#333" stroke-width="0.5"/>
<circle cx="175.20" cy="574.00" r="1.45" fill="#10944e"/>
<circle cx="178.90" cy="575.70" r="1.45" fill="#10944e"/>
<circle cx="181.90" cy="575.00" r="1.45" fill="#10944e"/>
<text x="115.60" y="511.60" font-size="6.5" stroke="#231f20" stroke-width="0.06" text-anchor="middle"><tspan font-style="italic">P</tspan> = 4.5 <tspan font-size="1.2em">×</tspan> 10<tspan font-size="4.68" dy="-2.34">−8</tspan></text>
<line x1="49.90" y1="514.50" x2="181.40" y2="514.50" stroke="#3a3a3a" stroke-width="0.8"/>
<text x="83.50" y="554.60" font-size="5.8" stroke="#231f20" stroke-width="0.06" transform="rotate(-90 83.50 554.60)"><tspan font-style="italic">P</tspan> = 6.7 <tspan font-size="1.2em">×</tspan> 10<tspan font-size="4.18" dy="-2.09">−9</tspan></text>
<text x="97.50" y="554.60" font-size="5.8" stroke="#231f20" stroke-width="0.06" transform="rotate(-90 97.50 554.60)"><tspan font-style="italic">P</tspan> = 1.2 <tspan font-size="1.2em">×</tspan> 10<tspan font-size="4.18" dy="-2.09">−6</tspan></text>
<text x="111.50" y="554.60" font-size="5.8" stroke="#231f20" stroke-width="0.06" transform="rotate(-90 111.50 554.60)"><tspan font-style="italic">P</tspan> = 2.5 <tspan font-size="1.2em">×</tspan> 10<tspan font-size="4.18" dy="-2.09">−7</tspan></text>
<text x="125.50" y="554.60" font-size="5.8" stroke="#231f20" stroke-width="0.06" transform="rotate(-90 125.50 554.60)"><tspan font-style="italic">P</tspan> = 3.4 <tspan font-size="1.2em">×</tspan> 10<tspan font-size="4.18" dy="-2.09">−7</tspan></text>
<text x="139.50" y="554.60" font-size="5.8" stroke="#231f20" stroke-width="0.06" transform="rotate(-90 139.50 554.60)"><tspan font-style="italic">P</tspan> = 0.0007</text>
<text x="153.50" y="554.60" font-size="5.8" stroke="#231f20" stroke-width="0.06" transform="rotate(-90 153.50 554.60)"><tspan font-style="italic">P</tspan> = 2.4 <tspan font-size="1.2em">×</tspan> 10<tspan font-size="4.18" dy="-2.09">−5</tspan></text>
<text x="167.50" y="554.60" font-size="5.8" stroke="#231f20" stroke-width="0.06" transform="rotate(-90 167.50 554.60)"><tspan font-style="italic">P</tspan> = 8.6 <tspan font-size="1.2em">×</tspan> 10<tspan font-size="4.18" dy="-2.09">−6</tspan></text>
<text x="181.50" y="554.60" font-size="5.8" stroke="#231f20" stroke-width="0.06" transform="rotate(-90 181.50 554.60)"><tspan font-style="italic">P</tspan> = 1.8 <tspan font-size="1.2em">×</tspan> 10<tspan font-size="4.18" dy="-2.09">−5</tspan></text>
<text x="56.70" y="634.30" font-size="6.6" stroke="#231f20" stroke-width="0.06" text-anchor="end" transform="rotate(-45 56.70 634.30)">B16-F0</text>
<text x="70.70" y="634.30" font-size="6.6" stroke="#231f20" stroke-width="0.06" text-anchor="end" transform="rotate(-45 70.70 634.30)">LN1-18IL</text>
<text x="84.70" y="634.30" font-size="6.6" stroke="#231f20" stroke-width="0.06" text-anchor="end" transform="rotate(-45 84.70 634.30)">LN7-1112AR</text>
<text x="98.70" y="634.30" font-size="6.6" stroke="#231f20" stroke-width="0.06" text-anchor="end" transform="rotate(-45 98.70 634.30)">LN7-1120BL</text>
<text x="112.70" y="634.30" font-size="6.6" stroke="#231f20" stroke-width="0.06" text-anchor="end" transform="rotate(-45 112.70 634.30)">LN7-1134BL</text>
<text x="126.70" y="634.30" font-size="6.6" stroke="#231f20" stroke-width="0.06" text-anchor="end" transform="rotate(-45 126.70 634.30)">LN8-1194BR</text>
<text x="140.70" y="634.30" font-size="6.6" stroke="#231f20" stroke-width="0.06" text-anchor="end" transform="rotate(-45 140.70 634.30)">LN8-1198AR</text>
<text x="154.70" y="634.30" font-size="6.6" stroke="#231f20" stroke-width="0.06" text-anchor="end" transform="rotate(-45 154.70 634.30)">LN8-1205BL</text>
<text x="168.70" y="634.30" font-size="6.6" stroke="#231f20" stroke-width="0.06" text-anchor="end" transform="rotate(-45 168.70 634.30)">LN9-1315BL</text>
<text x="182.70" y="634.30" font-size="6.6" stroke="#231f20" stroke-width="0.06" text-anchor="end" transform="rotate(-45 182.70 634.30)">LN9-1358IR</text>
<text x="222.50" y="508.30" font-size="11" font-weight="bold" fill="#000" stroke="#000" stroke-width="0.35">i</text>
<line x1="258.50" y1="517.50" x2="258.50" y2="626.30" stroke="#626262" stroke-width="0.8"/>
<line x1="255.60" y1="517.50" x2="258.70" y2="517.50" stroke="#626262" stroke-width="0.7"/>
<text x="252.50" y="519.60" font-size="6.2" stroke="#231f20" stroke-width="0.06" text-anchor="end">4 <tspan font-size="1.2em">×</tspan> 10<tspan font-size="4.46" dy="-2.23">4</tspan></text>
<line x1="255.60" y1="544.50" x2="258.70" y2="544.50" stroke="#626262" stroke-width="0.7"/>
<text x="252.50" y="546.80" font-size="6.2" stroke="#231f20" stroke-width="0.06" text-anchor="end">3 <tspan font-size="1.2em">×</tspan> 10<tspan font-size="4.46" dy="-2.23">4</tspan></text>
<line x1="255.60" y1="571.50" x2="258.70" y2="571.50" stroke="#626262" stroke-width="0.7"/>
<text x="252.50" y="574.00" font-size="6.2" stroke="#231f20" stroke-width="0.06" text-anchor="end">2 <tspan font-size="1.2em">×</tspan> 10<tspan font-size="4.46" dy="-2.23">4</tspan></text>
<line x1="255.60" y1="599.50" x2="258.70" y2="599.50" stroke="#626262" stroke-width="0.7"/>
<text x="252.50" y="601.20" font-size="6.2" stroke="#231f20" stroke-width="0.06" text-anchor="end">1 <tspan font-size="1.2em">×</tspan> 10<tspan font-size="4.46" dy="-2.23">4</tspan></text>
<line x1="255.60" y1="626.50" x2="258.70" y2="626.50" stroke="#626262" stroke-width="0.7"/>
<text x="252.50" y="628.40" font-size="6.2" stroke="#231f20" stroke-width="0.06" text-anchor="end">0</text>
<rect x="267.50" y="560.50" width="14.00" height="66.00" fill="#d3d3d3" stroke="#3d3d3d" stroke-width="0.75"/>
<rect x="290.50" y="591.50" width="14.00" height="35.00" fill="#80c97f" stroke="#3d3d3d" stroke-width="0.75"/>
<line x1="258.70" y1="626.50" x2="313.50" y2="626.50" stroke="#626262" stroke-width="0.8"/>
<line x1="274.50" y1="626.30" x2="274.50" y2="628.50" stroke="#626262" stroke-width="0.7"/>
<line x1="297.50" y1="626.30" x2="297.50" y2="628.50" stroke="#626262" stroke-width="0.7"/>
<text x="227.50" y="572.00" font-size="6.6" stroke="#231f20" stroke-width="0.06" text-anchor="middle" transform="rotate(-90 227.50 572.00)">GSSG peak intensity</text>
<line x1="274.50" y1="553.00" x2="274.50" y2="566.00" stroke="#999" stroke-width="0.5"/>
<line x1="272.20" y1="553.00" x2="276.80" y2="553.00" stroke="#999" stroke-width="0.5"/>
<line x1="272.20" y1="566.00" x2="276.80" y2="566.00" stroke="#999" stroke-width="0.5"/>
<circle cx="274.00" cy="552.00" r="1.45" fill="#111"/>
<circle cx="276.50" cy="556.00" r="1.45" fill="#111"/>
<circle cx="271.00" cy="559.50" r="1.45" fill="#111"/>
<circle cx="279.00" cy="563.00" r="1.45" fill="#111"/>
<circle cx="273.50" cy="567.00" r="1.45" fill="#111"/>
<circle cx="277.50" cy="567.00" r="1.45" fill="#111"/>
<line x1="297.80" y1="582.00" x2="297.80" y2="602.00" stroke="#333" stroke-width="0.5"/>
<line x1="295.50" y1="582.00" x2="300.10" y2="582.00" stroke="#333" stroke-width="0.5"/>
<line x1="295.50" y1="602.00" x2="300.10" y2="602.00" stroke="#333" stroke-width="0.5"/>
<circle cx="297.80" cy="578.60" r="1.60" fill="#10944e"/>
<circle cx="301.16" cy="580.40" r="1.60" fill="#10944e"/>
<circle cx="297.80" cy="582.30" r="1.60" fill="#10944e"/>
<circle cx="301.16" cy="583.80" r="1.60" fill="#10944e"/>
<circle cx="296.12" cy="584.90" r="1.60" fill="#10944e"/>
<circle cx="292.76" cy="585.90" r="1.60" fill="#10944e"/>
<circle cx="299.48" cy="587.00" r="1.60" fill="#10944e"/>
<circle cx="302.84" cy="587.50" r="1.60" fill="#10944e"/>
<circle cx="296.12" cy="588.30" r="1.60" fill="#10944e"/>
<circle cx="292.76" cy="589.10" r="1.60" fill="#10944e"/>
<circle cx="299.48" cy="590.10" r="1.60" fill="#10944e"/>
<circle cx="302.84" cy="590.90" r="1.60" fill="#10944e"/>
<circle cx="296.12" cy="592.20" r="1.60" fill="#10944e"/>
<circle cx="299.48" cy="594.30" r="1.60" fill="#10944e"/>
<circle cx="296.12" cy="596.20" r="1.60" fill="#10944e"/>
<circle cx="297.80" cy="598.80" r="1.60" fill="#10944e"/>
<circle cx="297.80" cy="602.20" r="1.60" fill="#10944e"/>
<circle cx="297.80" cy="605.30" r="1.60" fill="#10944e"/>
<circle cx="297.80" cy="611.10" r="1.60" fill="#10944e"/>
<circle cx="301.16" cy="613.20" r="1.60" fill="#10944e"/>
<circle cx="297.80" cy="615.30" r="1.60" fill="#10944e"/>
<text x="286.50" y="511.00" font-size="6.5" stroke="#231f20" stroke-width="0.06" text-anchor="middle"><tspan font-style="italic">P</tspan> = 2.6 <tspan font-size="1.2em">×</tspan> 10<tspan font-size="4.68" dy="-2.34">−5</tspan></text>
<line x1="275.70" y1="513.50" x2="296.70" y2="513.50" stroke="#aaa" stroke-width="0.8"/>
<text x="277.50" y="634.30" font-size="6.6" stroke="#231f20" stroke-width="0.06" text-anchor="end" transform="rotate(-45 277.50 634.30)">Parental</text>
<text x="300.80" y="634.30" font-size="6.6" stroke="#231f20" stroke-width="0.06" text-anchor="end" transform="rotate(-45 300.80 634.30)">LN</text>
<text x="358.80" y="507.70" font-size="11" font-weight="bold" fill="#000" stroke="#000" stroke-width="0.35">j</text>
<rect x="392.50" y="545.50" width="10.00" height="72.00" fill="#d3d3d3" stroke="#3d3d3d" stroke-width="0.75"/>
<rect x="409.50" y="562.50" width="10.00" height="55.00" fill="#80c97f" stroke="#3d3d3d" stroke-width="0.75"/>
<rect x="427.50" y="577.50" width="10.00" height="40.00" fill="#80c97f" stroke="#3d3d3d" stroke-width="0.75"/>
<rect x="444.50" y="578.50" width="10.00" height="39.00" fill="#80c97f" stroke="#3d3d3d" stroke-width="0.75"/>
<rect x="461.50" y="614.50" width="10.00" height="3.00" fill="#d3d3d3" stroke="#3d3d3d" stroke-width="0.75"/>
<line x1="385.50" y1="508.20" x2="385.50" y2="617.00" stroke="#626262" stroke-width="0.8"/>
<line x1="382.80" y1="508.50" x2="385.90" y2="508.50" stroke="#626262" stroke-width="0.7"/>
<text x="379.70" y="510.30" font-size="6.2" stroke="#231f20" stroke-width="0.06" text-anchor="end">1.5</text>
<line x1="382.80" y1="544.50" x2="385.90" y2="544.50" stroke="#626262" stroke-width="0.7"/>
<text x="379.70" y="546.60" font-size="6.2" stroke="#231f20" stroke-width="0.06" text-anchor="end">1.0</text>
<line x1="382.80" y1="580.50" x2="385.90" y2="580.50" stroke="#626262" stroke-width="0.7"/>
<text x="379.70" y="582.90" font-size="6.2" stroke="#231f20" stroke-width="0.06" text-anchor="end">0.5</text>
<line x1="382.80" y1="617.50" x2="385.90" y2="617.50" stroke="#626262" stroke-width="0.7"/>
<text x="379.70" y="619.10" font-size="6.2" stroke="#231f20" stroke-width="0.06" text-anchor="end">0</text>
<line x1="385.90" y1="617.50" x2="529.70" y2="617.50" stroke="#626262" stroke-width="0.8"/>
<line x1="397.50" y1="617.00" x2="397.50" y2="619.20" stroke="#626262" stroke-width="0.7"/>
<line x1="414.50" y1="617.00" x2="414.50" y2="619.20" stroke="#626262" stroke-width="0.7"/>
<line x1="432.50" y1="617.00" x2="432.50" y2="619.20" stroke="#626262" stroke-width="0.7"/>
<line x1="449.50" y1="617.00" x2="449.50" y2="619.20" stroke="#626262" stroke-width="0.7"/>
<line x1="466.50" y1="617.00" x2="466.50" y2="619.20" stroke="#626262" stroke-width="0.7"/>
<line x1="484.50" y1="617.00" x2="484.50" y2="619.20" stroke="#626262" stroke-width="0.7"/>
<line x1="501.50" y1="617.00" x2="501.50" y2="619.20" stroke="#626262" stroke-width="0.7"/>
<line x1="518.50" y1="617.00" x2="518.50" y2="619.20" stroke="#626262" stroke-width="0.7"/>
<text x="363.00" y="563.00" font-size="6.6" stroke="#231f20" stroke-width="0.06" text-anchor="middle" transform="rotate(-90 363.00 563.00)">Relative GSH levels</text>
<line x1="397.50" y1="542.00" x2="397.50" y2="548.00" stroke="#999" stroke-width="0.5"/>
<line x1="395.20" y1="542.00" x2="399.80" y2="542.00" stroke="#999" stroke-width="0.5"/>
<line x1="395.20" y1="548.00" x2="399.80" y2="548.00" stroke="#999" stroke-width="0.5"/>
<circle cx="398.10" cy="540.90" r="1.45" fill="#111"/>
<circle cx="398.10" cy="545.10" r="1.45" fill="#111"/>
<circle cx="398.10" cy="548.70" r="1.45" fill="#111"/>
<line x1="414.80" y1="559.50" x2="414.80" y2="564.00" stroke="#333" stroke-width="0.5"/>
<line x1="412.50" y1="559.50" x2="417.10" y2="559.50" stroke="#333" stroke-width="0.5"/>
<line x1="412.50" y1="564.00" x2="417.10" y2="564.00" stroke="#333" stroke-width="0.5"/>
<circle cx="410.00" cy="560.30" r="1.45" fill="#12b53a"/>
<circle cx="415.50" cy="562.20" r="1.45" fill="#12b53a"/>
<circle cx="419.10" cy="562.20" r="1.45" fill="#12b53a"/>
<line x1="432.10" y1="575.00" x2="432.10" y2="579.00" stroke="#333" stroke-width="0.5"/>
<line x1="429.80" y1="575.00" x2="434.40" y2="575.00" stroke="#333" stroke-width="0.5"/>
<line x1="429.80" y1="579.00" x2="434.40" y2="579.00" stroke="#333" stroke-width="0.5"/>
<circle cx="428.00" cy="577.50" r="1.45" fill="#12b53a"/>
<circle cx="432.20" cy="576.10" r="1.45" fill="#12b53a"/>
<circle cx="436.30" cy="577.50" r="1.45" fill="#12b53a"/>
<line x1="449.40" y1="576.50" x2="449.40" y2="581.00" stroke="#333" stroke-width="0.5"/>
<line x1="447.10" y1="576.50" x2="451.70" y2="576.50" stroke="#333" stroke-width="0.5"/>
<line x1="447.10" y1="581.00" x2="451.70" y2="581.00" stroke="#333" stroke-width="0.5"/>
<circle cx="445.20" cy="579.10" r="1.45" fill="#12b53a"/>
<circle cx="449.60" cy="577.50" r="1.45" fill="#12b53a"/>
<circle cx="453.50" cy="578.30" r="1.45" fill="#12b53a"/>
<circle cx="462.80" cy="614.60" r="1.50" fill="#111"/>
<circle cx="466.70" cy="614.60" r="1.50" fill="#111"/>
<circle cx="470.60" cy="614.60" r="1.50" fill="#111"/>
<circle cx="479.80" cy="616.00" r="1.55" fill="#19e619"/>
<circle cx="484.00" cy="616.00" r="1.55" fill="#19e619"/>
<circle cx="488.20" cy="616.00" r="1.55" fill="#19e619"/>
<circle cx="497.10" cy="616.00" r="1.55" fill="#19e619"/>
<circle cx="501.30" cy="616.00" r="1.55" fill="#19e619"/>
<circle cx="505.50" cy="616.00" r="1.55" fill="#19e619"/>
<circle cx="514.40" cy="616.00" r="1.55" fill="#19e619"/>
<circle cx="518.60" cy="616.00" r="1.55" fill="#19e619"/>
<circle cx="522.80" cy="616.00" r="1.55" fill="#19e619"/>
<text x="402.50" y="509.20" font-size="6.5" stroke="#231f20" stroke-width="0.06"><tspan font-style="italic">P</tspan> = 1.8 <tspan font-size="1.2em">×</tspan> 10<tspan font-size="4.68" dy="-2.34">−7</tspan></text>
<line x1="397.50" y1="511.50" x2="448.80" y2="511.50" stroke="#333" stroke-width="0.8"/>
<text x="394.00" y="521.50" font-size="6.5" stroke="#231f20" stroke-width="0.06"><tspan font-style="italic">P</tspan> = 3.2 <tspan font-size="1.2em">×</tspan> 10<tspan font-size="4.68" dy="-2.34">−7</tspan></text>
<line x1="397.50" y1="522.50" x2="432.20" y2="522.50" stroke="#333" stroke-width="0.8"/>
<text x="388.70" y="535.00" font-size="6.5" stroke="#231f20" stroke-width="0.06"><tspan font-style="italic">P</tspan> = 3.6 <tspan font-size="1.2em">×</tspan> 10<tspan font-size="4.68" dy="-2.34">−6</tspan></text>
<line x1="397.50" y1="536.50" x2="415.00" y2="536.50" stroke="#333" stroke-width="0.8"/>
<text x="470.60" y="576.60" font-size="6.5" stroke="#231f20" stroke-width="0.06"><tspan font-style="italic">P</tspan> = 2 <tspan font-size="1.2em">×</tspan> 10<tspan font-size="4.68" dy="-2.34">−10</tspan></text>
<line x1="467.00" y1="578.50" x2="518.80" y2="578.50" stroke="#333" stroke-width="0.8"/>
<text x="461.00" y="588.90" font-size="6.5" stroke="#231f20" stroke-width="0.06"><tspan font-style="italic">P</tspan> = 2.2 <tspan font-size="1.2em">×</tspan> 10<tspan font-size="4.68" dy="-2.34">−10</tspan></text>
<line x1="467.00" y1="591.50" x2="501.30" y2="591.50" stroke="#333" stroke-width="0.8"/>
<text x="455.80" y="602.00" font-size="6.5" stroke="#231f20" stroke-width="0.06"><tspan font-style="italic">P</tspan> = 4.1 <tspan font-size="1.2em">×</tspan> 10<tspan font-size="4.68" dy="-2.34">−10</tspan></text>
<line x1="467.00" y1="604.50" x2="483.80" y2="604.50" stroke="#333" stroke-width="0.8"/>
<text x="400.50" y="625.00" font-size="6.6" stroke="#231f20" stroke-width="0.06" text-anchor="end" transform="rotate(-45 400.50 625.00)">B16-F0</text>
<text x="417.80" y="625.00" font-size="6.6" stroke="#231f20" stroke-width="0.06" text-anchor="end" transform="rotate(-45 417.80 625.00)">LN7-1134BL</text>
<text x="435.10" y="625.00" font-size="6.6" stroke="#231f20" stroke-width="0.06" text-anchor="end" transform="rotate(-45 435.10 625.00)">LN8-1194BR</text>
<text x="452.40" y="625.00" font-size="6.6" stroke="#231f20" stroke-width="0.06" text-anchor="end" transform="rotate(-45 452.40 625.00)">LN9-1315BL</text>
<text x="469.70" y="625.00" font-size="6.6" stroke="#231f20" stroke-width="0.06" text-anchor="end" transform="rotate(-45 469.70 625.00)">F0Luc, −Cys</text>
<text x="487.00" y="625.00" font-size="6.6" stroke="#231f20" stroke-width="0.06" text-anchor="end" transform="rotate(-45 487.00 625.00)">LN7-1134BL, −Cys</text>
<text x="504.30" y="625.00" font-size="6.6" stroke="#231f20" stroke-width="0.06" text-anchor="end" transform="rotate(-45 504.30 625.00)">LN8-1194BR, −Cys</text>
<text x="521.60" y="625.00" font-size="6.6" stroke="#231f20" stroke-width="0.06" text-anchor="end" transform="rotate(-45 521.60 625.00)">LN9-1315BL, −Cys</text>
</svg></body></html>
